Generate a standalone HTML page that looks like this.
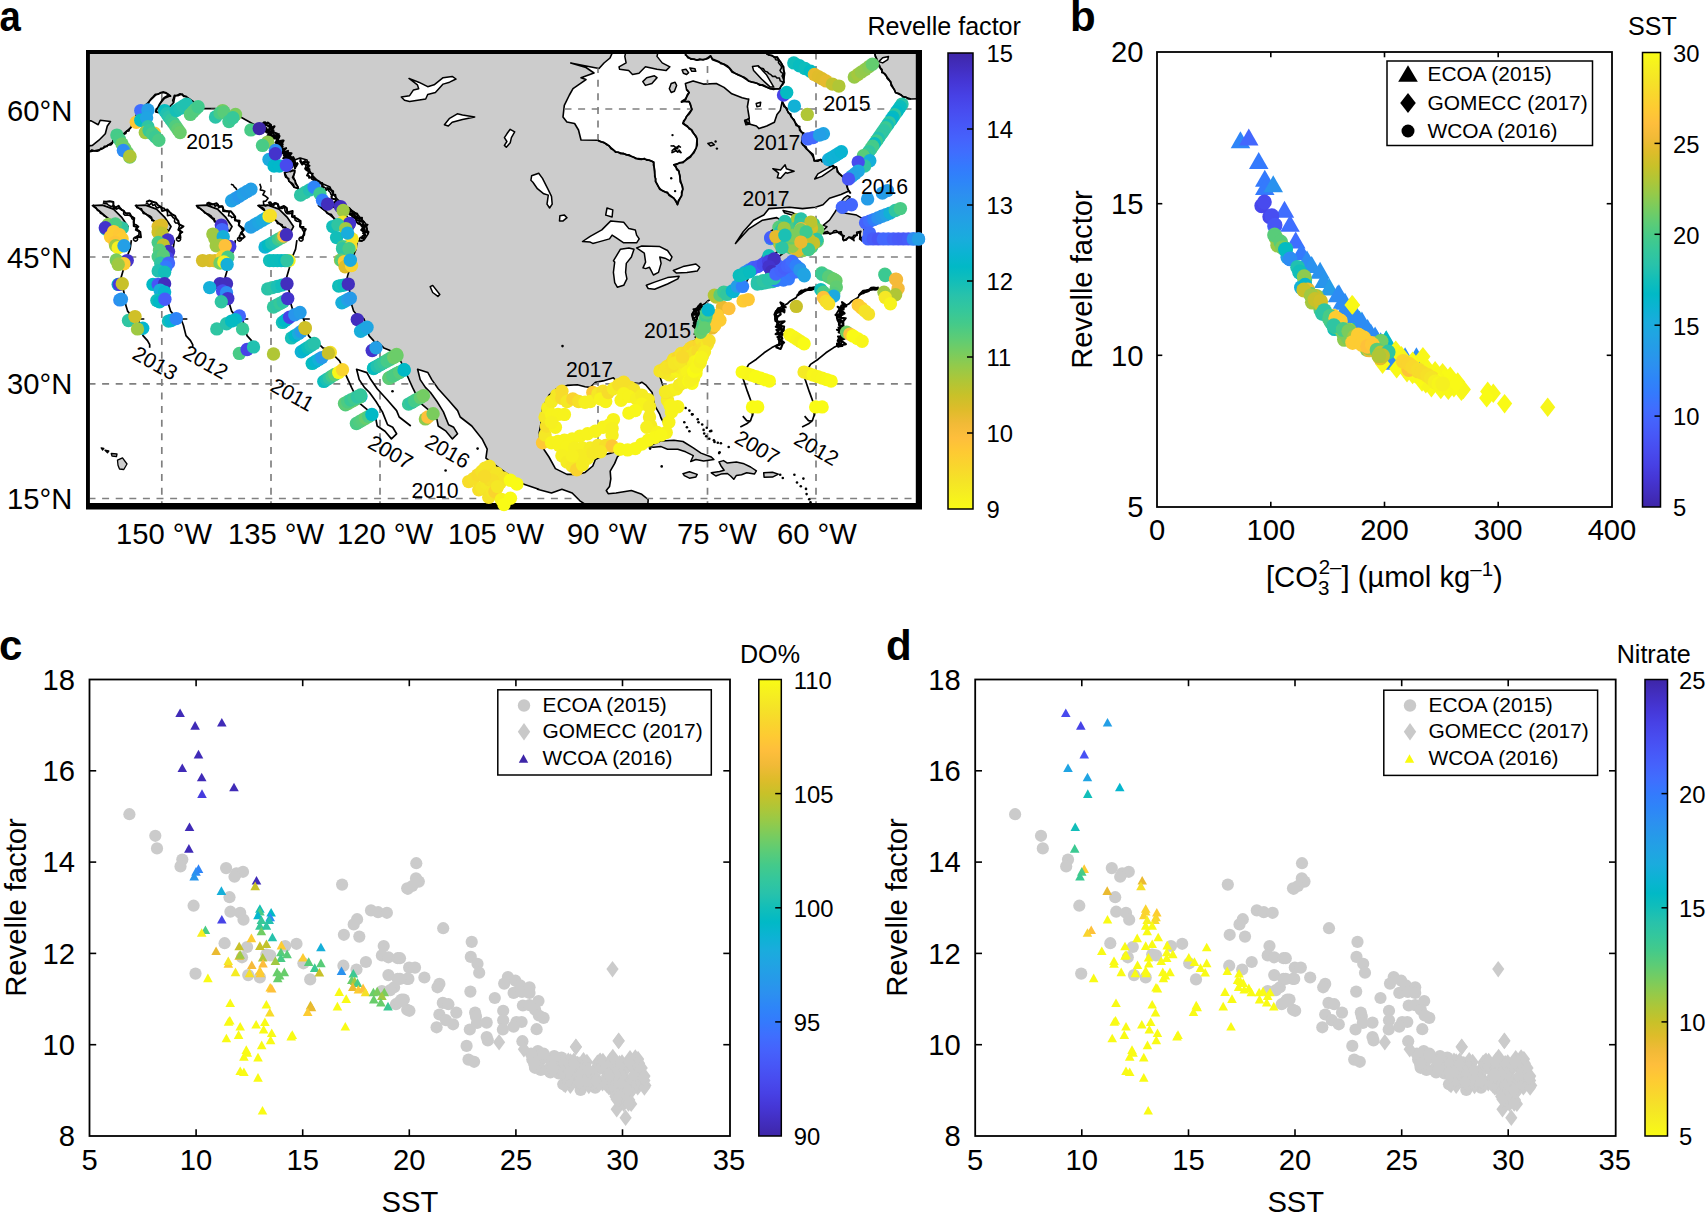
<!DOCTYPE html>
<html><head><meta charset="utf-8"><title>Figure</title><style>html,body{margin:0;padding:0;background:#fff}svg{display:block}</style></head><body>
<svg width="1707" height="1215" viewBox="0 0 1707 1215" font-family='"Liberation Sans", Arial, Helvetica, sans-serif' fill="#000">
<rect width="1707" height="1215" fill="#fff"/>
<text x="-0.5" y="31.0" font-size="42.0" font-weight="bold" textLength="21.3" lengthAdjust="spacingAndGlyphs">a</text>
<text x="1070.0" y="31.0" font-size="42.0" font-weight="bold">b</text>
<text x="-1.0" y="660.0" font-size="42.0" font-weight="bold">c</text>
<text x="886.0" y="659.5" font-size="42.0" font-weight="bold">d</text>
<clipPath id="mapclip"><rect x="89" y="53" width="829" height="451"/></clipPath>
<clipPath id="oceanclip"><path d="M70.0 530.0 L70.0 152.0 L89.9 151.8 L101.5 149.2 L111.8 142.8 L123.4 133.8 L131.1 127.3 L133.0 119.6 L140.1 110.6 L147.9 102.8 L155.6 95.1 L163.3 91.9 L170.4 95.7 L164.6 98.3 L159.5 104.1 L155.6 111.9 L161.4 113.1 L165.9 110.6 L173.6 102.8 L174.9 96.4 L180.1 93.8 L187.8 97.7 L193.0 101.5 L202.0 108.6 L214.9 108.6 L227.8 111.2 L240.6 117.0 L252.2 123.5 L258.7 127.3 L264.0 122.0 L270.0 128.0 L276.0 138.0 L281.0 147.0 L286.0 155.0 L292.0 161.0 L300.0 158.0 L307.0 160.0 L309.0 170.0 L313.0 176.0 L317.0 180.0 L323.0 184.0 L330.0 187.0 L333.0 194.0 L338.0 200.0 L347.0 207.0 L358.0 215.0 L366.0 224.0 L368.0 234.0 L364.0 240.0 L360.0 241.0 L357.4 240.2 L356.1 249.2 L352.3 258.2 L349.7 268.5 L347.1 277.6 L348.4 285.3 L350.3 294.3 L351.6 304.6 L353.6 311.1 L357.4 315.6 L363.9 318.8 L363.9 318.8 L366.4 325.2 L369.0 335.6 L373.5 340.6 L375.7 344.6 L375.7 347.8 L377.3 341.5 L383.8 347.9 L390.2 350.5 L400.5 360.8 L404.0 368.0 L407.3 375.8 L412.5 387.4 L420.2 402.8 L427.9 409.3 L437.0 419.6 L438.2 426.0 L446.0 431.2 L452.4 438.9 L457.6 433.8 L453.7 427.3 L448.6 424.7 L443.4 411.9 L437.0 401.5 L430.5 392.5 L425.4 387.4 L420.2 379.6 L417.6 369.3 L427.9 372.6 L431.8 379.6 L438.2 388.7 L448.6 400.3 L457.6 410.6 L460.2 417.0 L471.8 426.0 L482.1 438.9 L487.2 449.2 L485.9 458.2 L491.1 462.1 L505.3 472.4 L523.3 484.0 L538.8 489.2 L537.4 489.2 L551.5 493.0 L561.9 489.2 L572.2 493.0 L579.9 500.8 L587.6 505.9 L592.8 516.2 L600.0 530.0 Z M78.3 120.2 L91.2 120.9 L98.2 124.7 L100.2 120.2 L110.5 121.5 L107.3 126.0 L105.3 133.8 L98.9 140.2 L92.4 145.4 L78.3 147.3 Z M646.9 517.5 L648.2 499.5 L641.8 494.3 L631.4 490.5 L623.7 491.8 L616.0 493.0 L608.2 493.7 L606.3 490.5 L609.5 486.6 L610.8 478.9 L610.2 471.1 L614.7 463.4 L617.3 457.0 L621.1 453.1 L616.0 451.8 L605.7 454.4 L595.4 459.5 L592.8 466.0 L585.1 472.4 L577.3 474.4 L567.0 474.4 L555.4 468.6 L549.0 457.0 L543.8 449.2 L539.9 442.8 L539.3 432.5 L541.2 422.2 L542.5 408.0 L549.0 395.1 L556.7 388.7 L567.0 385.4 L577.3 384.8 L585.1 386.7 L590.2 387.4 L595.4 382.2 L603.1 380.9 L613.4 377.7 L616.0 380.9 L623.7 380.9 L628.9 382.2 L639.2 383.5 L641.8 382.2 L645.6 384.8 L652.1 392.5 L654.6 405.4 L659.8 414.4 L661.0 418.0 L664.5 424.0 L668.0 420.0 L670.0 415.9 L668.7 401.8 L664.9 391.4 L659.7 376.0 L666.2 364.4 L673.9 359.2 L681.6 352.8 L689.4 347.6 L697.1 343.8 L695.8 337.3 L699.7 329.6 L694.5 324.4 L697.0 322.0 L693.0 320.0 L691.9 314.1 L695.0 309.0 L699.7 306.4 L704.8 303.8 L707.4 301.2 L713.8 297.4 L715.1 294.8 L724.1 290.3 L734.5 288.4 L740.0 285.0 L746.0 283.0 L748.0 279.0 L742.0 276.0 L746.0 270.0 L752.0 266.0 L762.0 259.0 L772.0 256.0 L780.0 250.0 L786.0 251.0 L777.0 258.0 L768.0 263.0 L766.0 270.0 L775.0 268.0 L790.0 260.0 L805.0 252.0 L815.0 246.0 L818.0 240.0 L812.0 236.0 L800.0 242.0 L790.0 244.0 L783.0 243.0 L778.0 238.0 L770.0 232.0 L778.0 226.0 L784.0 222.0 L776.7 217.6 L762.5 220.2 L748.4 229.2 L736.8 242.0 L735.5 243.4 L743.2 231.8 L753.5 220.2 L763.8 215.0 L769.0 208.6 L789.6 207.3 L802.5 208.6 L815.4 207.3 L823.0 204.7 L829.5 198.3 L841.0 194.4 L848.9 191.0 L850.5 193.0 L847.9 189.2 L844.0 177.6 L838.9 173.7 L836.3 167.3 L829.8 166.0 L820.8 159.5 L814.4 160.8 L813.1 154.4 L806.6 149.2 L801.5 142.8 L802.8 133.8 L798.9 127.3 L795.1 122.2 L787.3 110.6 L782.2 101.5 L780.2 110.6 L777.0 114.4 L774.4 122.2 L766.7 126.0 L759.0 128.6 L756.4 126.0 L747.4 123.5 L744.8 120.9 L749.3 118.3 L747.4 106.7 L748.7 99.0 L747.2 99.0 L742.1 97.7 L731.8 93.8 L724.0 87.4 L716.3 83.5 L703.4 84.1 L693.1 80.9 L685.4 83.5 L686.6 89.9 L689.2 92.5 L685.4 99.0 L681.5 101.5 L689.2 101.5 L691.8 109.3 L687.9 114.4 L682.8 123.5 L691.8 129.9 L697.0 138.9 L696.3 147.9 L690.5 157.0 L682.8 162.1 L673.8 164.7 L678.9 171.1 L680.2 178.9 L682.8 189.2 L681.5 195.6 L678.9 200.8 L677.6 204.6 L673.8 198.2 L667.3 193.0 L659.6 189.2 L655.7 181.4 L654.4 171.1 L653.8 162.1 L646.7 159.5 L636.4 158.2 L626.1 154.4 L615.8 151.8 L606.8 144.1 L597.7 140.2 L581.0 140.0 L578.5 130.0 L574.6 123.5 L566.9 122.0 L563.0 117.0 L564.3 105.4 L569.4 95.0 L573.0 88.7 L586.0 79.6 L581.0 77.7 L594.0 73.0 L586.0 67.5 L570.7 63.0 L586.0 66.0 L599.0 68.5 L604.0 63.0 L610.0 58.0 L618.0 40.0 L685.4 42.3 L685.4 53.9 L687.9 57.7 L697.0 60.3 L706.0 59.0 L710.5 55.8 L712.4 59.7 L721.4 62.9 L729.2 68.0 L731.8 71.9 L740.8 75.8 L748.5 80.9 L757.5 83.5 L770.4 88.7 L776.9 88.7 L779.6 88.7 L783.5 82.2 L784.7 73.2 L782.2 64.2 L777.0 57.7 L766.7 53.9 L766.7 42.3 L874.9 42.3 L874.9 53.9 L877.5 64.2 L882.7 71.9 L889.1 79.6 L893.0 87.4 L895.6 92.5 L903.3 96.4 L911.0 99.0 L929.1 98.3 L940.0 100.0 L940.0 530.0 Z"/></clipPath>
<g clip-path="url(#mapclip)" stroke-linejoin="round">
<rect x="86" y="50" width="836" height="460" fill="#ccc"/>
<path d="M70.0 530.0 L70.0 152.0 L89.9 151.8 L101.5 149.2 L111.8 142.8 L123.4 133.8 L131.1 127.3 L133.0 119.6 L140.1 110.6 L147.9 102.8 L155.6 95.1 L163.3 91.9 L170.4 95.7 L164.6 98.3 L159.5 104.1 L155.6 111.9 L161.4 113.1 L165.9 110.6 L173.6 102.8 L174.9 96.4 L180.1 93.8 L187.8 97.7 L193.0 101.5 L202.0 108.6 L214.9 108.6 L227.8 111.2 L240.6 117.0 L252.2 123.5 L258.7 127.3 L264.0 122.0 L270.0 128.0 L276.0 138.0 L281.0 147.0 L286.0 155.0 L292.0 161.0 L300.0 158.0 L307.0 160.0 L309.0 170.0 L313.0 176.0 L317.0 180.0 L323.0 184.0 L330.0 187.0 L333.0 194.0 L338.0 200.0 L347.0 207.0 L358.0 215.0 L366.0 224.0 L368.0 234.0 L364.0 240.0 L360.0 241.0 L357.4 240.2 L356.1 249.2 L352.3 258.2 L349.7 268.5 L347.1 277.6 L348.4 285.3 L350.3 294.3 L351.6 304.6 L353.6 311.1 L357.4 315.6 L363.9 318.8 L363.9 318.8 L366.4 325.2 L369.0 335.6 L373.5 340.6 L375.7 344.6 L375.7 347.8 L377.3 341.5 L383.8 347.9 L390.2 350.5 L400.5 360.8 L404.0 368.0 L407.3 375.8 L412.5 387.4 L420.2 402.8 L427.9 409.3 L437.0 419.6 L438.2 426.0 L446.0 431.2 L452.4 438.9 L457.6 433.8 L453.7 427.3 L448.6 424.7 L443.4 411.9 L437.0 401.5 L430.5 392.5 L425.4 387.4 L420.2 379.6 L417.6 369.3 L427.9 372.6 L431.8 379.6 L438.2 388.7 L448.6 400.3 L457.6 410.6 L460.2 417.0 L471.8 426.0 L482.1 438.9 L487.2 449.2 L485.9 458.2 L491.1 462.1 L505.3 472.4 L523.3 484.0 L538.8 489.2 L537.4 489.2 L551.5 493.0 L561.9 489.2 L572.2 493.0 L579.9 500.8 L587.6 505.9 L592.8 516.2 L600.0 530.0 Z M78.3 120.2 L91.2 120.9 L98.2 124.7 L100.2 120.2 L110.5 121.5 L107.3 126.0 L105.3 133.8 L98.9 140.2 L92.4 145.4 L78.3 147.3 Z M646.9 517.5 L648.2 499.5 L641.8 494.3 L631.4 490.5 L623.7 491.8 L616.0 493.0 L608.2 493.7 L606.3 490.5 L609.5 486.6 L610.8 478.9 L610.2 471.1 L614.7 463.4 L617.3 457.0 L621.1 453.1 L616.0 451.8 L605.7 454.4 L595.4 459.5 L592.8 466.0 L585.1 472.4 L577.3 474.4 L567.0 474.4 L555.4 468.6 L549.0 457.0 L543.8 449.2 L539.9 442.8 L539.3 432.5 L541.2 422.2 L542.5 408.0 L549.0 395.1 L556.7 388.7 L567.0 385.4 L577.3 384.8 L585.1 386.7 L590.2 387.4 L595.4 382.2 L603.1 380.9 L613.4 377.7 L616.0 380.9 L623.7 380.9 L628.9 382.2 L639.2 383.5 L641.8 382.2 L645.6 384.8 L652.1 392.5 L654.6 405.4 L659.8 414.4 L661.0 418.0 L664.5 424.0 L668.0 420.0 L670.0 415.9 L668.7 401.8 L664.9 391.4 L659.7 376.0 L666.2 364.4 L673.9 359.2 L681.6 352.8 L689.4 347.6 L697.1 343.8 L695.8 337.3 L699.7 329.6 L694.5 324.4 L697.0 322.0 L693.0 320.0 L691.9 314.1 L695.0 309.0 L699.7 306.4 L704.8 303.8 L707.4 301.2 L713.8 297.4 L715.1 294.8 L724.1 290.3 L734.5 288.4 L740.0 285.0 L746.0 283.0 L748.0 279.0 L742.0 276.0 L746.0 270.0 L752.0 266.0 L762.0 259.0 L772.0 256.0 L780.0 250.0 L786.0 251.0 L777.0 258.0 L768.0 263.0 L766.0 270.0 L775.0 268.0 L790.0 260.0 L805.0 252.0 L815.0 246.0 L818.0 240.0 L812.0 236.0 L800.0 242.0 L790.0 244.0 L783.0 243.0 L778.0 238.0 L770.0 232.0 L778.0 226.0 L784.0 222.0 L776.7 217.6 L762.5 220.2 L748.4 229.2 L736.8 242.0 L735.5 243.4 L743.2 231.8 L753.5 220.2 L763.8 215.0 L769.0 208.6 L789.6 207.3 L802.5 208.6 L815.4 207.3 L823.0 204.7 L829.5 198.3 L841.0 194.4 L848.9 191.0 L850.5 193.0 L847.9 189.2 L844.0 177.6 L838.9 173.7 L836.3 167.3 L829.8 166.0 L820.8 159.5 L814.4 160.8 L813.1 154.4 L806.6 149.2 L801.5 142.8 L802.8 133.8 L798.9 127.3 L795.1 122.2 L787.3 110.6 L782.2 101.5 L780.2 110.6 L777.0 114.4 L774.4 122.2 L766.7 126.0 L759.0 128.6 L756.4 126.0 L747.4 123.5 L744.8 120.9 L749.3 118.3 L747.4 106.7 L748.7 99.0 L747.2 99.0 L742.1 97.7 L731.8 93.8 L724.0 87.4 L716.3 83.5 L703.4 84.1 L693.1 80.9 L685.4 83.5 L686.6 89.9 L689.2 92.5 L685.4 99.0 L681.5 101.5 L689.2 101.5 L691.8 109.3 L687.9 114.4 L682.8 123.5 L691.8 129.9 L697.0 138.9 L696.3 147.9 L690.5 157.0 L682.8 162.1 L673.8 164.7 L678.9 171.1 L680.2 178.9 L682.8 189.2 L681.5 195.6 L678.9 200.8 L677.6 204.6 L673.8 198.2 L667.3 193.0 L659.6 189.2 L655.7 181.4 L654.4 171.1 L653.8 162.1 L646.7 159.5 L636.4 158.2 L626.1 154.4 L615.8 151.8 L606.8 144.1 L597.7 140.2 L581.0 140.0 L578.5 130.0 L574.6 123.5 L566.9 122.0 L563.0 117.0 L564.3 105.4 L569.4 95.0 L573.0 88.7 L586.0 79.6 L581.0 77.7 L594.0 73.0 L586.0 67.5 L570.7 63.0 L586.0 66.0 L599.0 68.5 L604.0 63.0 L610.0 58.0 L618.0 40.0 L685.4 42.3 L685.4 53.9 L687.9 57.7 L697.0 60.3 L706.0 59.0 L710.5 55.8 L712.4 59.7 L721.4 62.9 L729.2 68.0 L731.8 71.9 L740.8 75.8 L748.5 80.9 L757.5 83.5 L770.4 88.7 L776.9 88.7 L779.6 88.7 L783.5 82.2 L784.7 73.2 L782.2 64.2 L777.0 57.7 L766.7 53.9 L766.7 42.3 L874.9 42.3 L874.9 53.9 L877.5 64.2 L882.7 71.9 L889.1 79.6 L893.0 87.4 L895.6 92.5 L903.3 96.4 L911.0 99.0 L929.1 98.3 L940.0 100.0 L940.0 530.0 Z" fill="#fff" stroke="#000" stroke-width="1.6"/>
<g clip-path="url(#oceanclip)" stroke="#808080" stroke-width="1.7" stroke-dasharray="7 6.6" stroke-dashoffset="1.5" fill="none">
<path d="M90 109.0 H917"/>
<path d="M90 257.0 H917"/>
<path d="M90 383.9 H917"/>
<path d="M90 498.5 H917"/>
<path d="M161.8 54 V504"/>
<path d="M271.0 54 V504"/>
<path d="M380.0 54 V504"/>
<path d="M489.0 54 V504"/>
<path d="M598.0 54 V504"/>
<path d="M707.5 54 V504"/>
<path d="M816.0 54 V504"/>
</g>
<path d="M752.5 66.5 L758.3 65.7 L766.7 75.1 L773.8 87.1 L770.3 87.1 L761.5 79.0 L753.6 70.6 Z M833.4 165.4 L827.0 168.7 L817.9 173.8 L814.7 179.0 L821.8 176.4 L829.5 171.2 L834.7 167.4 Z M401.3 97.0 L409.6 95.7 L413.5 89.9 L418.7 88.7 L417.4 84.8 L409.0 78.4 L418.7 82.2 L427.7 86.7 L434.1 84.8 L443.1 77.7 L452.2 76.4 L456.0 79.0 L449.6 82.2 L443.1 84.1 L435.4 92.5 L427.7 94.5 L425.7 99.0 L409.6 101.5 L404.5 100.3 Z M444.4 124.7 L449.6 118.3 L457.3 113.8 L462.5 115.1 L474.7 117.0 L462.5 119.6 L452.2 122.2 L448.3 126.0 Z M510.2 129.3 L514.7 131.8 L511.4 137.6 L510.2 142.8 L506.3 147.3 L504.4 145.4 L506.9 141.5 L504.4 137.6 L506.9 133.8 Z M531.6 175.8 L538.7 173.2 L542.5 178.4 L547.7 188.7 L551.5 196.4 L552.2 204.1 L549.6 208.0 L547.0 204.1 L548.3 195.1 L543.8 193.8 L537.4 188.7 L532.9 182.2 L530.9 180.3 Z M559.9 215.7 L564.4 215.1 L567.0 217.7 L563.1 220.9 L559.5 220.9 Z M607.0 208.0 L612.8 209.9 L612.1 217.0 L605.7 215.1 Z M582.5 241.5 L590.2 236.3 L601.8 229.9 L610.8 220.9 L623.7 222.2 L628.9 228.6 L635.3 229.9 L636.6 235.1 L639.2 238.9 L636.6 242.8 L623.7 242.8 L616.0 237.6 L612.1 235.1 L609.5 238.9 L597.9 242.1 L592.8 243.4 L590.2 242.1 Z M620.5 249.2 L628.9 247.9 L634.0 249.2 L631.4 257.0 L626.3 263.4 L625.6 272.4 L626.9 278.9 L623.7 285.3 L617.3 287.2 L614.7 282.7 L613.4 272.4 L614.7 262.1 L613.4 260.8 Z M636.6 247.9 L641.8 246.0 L659.8 246.6 L667.5 250.5 L672.0 257.0 L670.1 260.8 L664.9 258.2 L659.8 257.0 L661.1 263.4 L658.5 272.4 L653.4 275.0 L649.5 267.3 L645.6 268.6 L643.0 267.9 L645.6 262.1 L644.3 253.1 Z M646.3 285.3 L654.6 282.1 L667.5 277.6 L679.1 276.3 L677.8 278.9 L667.5 284.0 L654.6 289.2 L648.2 288.5 Z M673.3 270.5 L683.0 266.6 L695.9 264.0 L699.7 267.3 L697.2 271.1 L686.9 272.4 L676.5 273.1 Z M772.8 168.7 L780.6 169.9 L785.1 164.8 L786.4 168.7 L794.1 171.2 L787.0 173.2 L785.7 172.5 L780.6 178.3 L777.3 177.7 L778.6 173.2 Z M430.2 286.7 L432.7 285.4 L439.8 294.5 L437.9 296.4 L432.7 292.5 Z M878.8 61.6 L882.7 57.7 L888.5 56.4 L887.8 59.7 L882.7 62.9 Z" fill="#fff" stroke="#000" stroke-width="1.5"/>
<path d="M284.5 172.5 L294.8 170.6 L293.5 177.0 L296.7 184.7 L298.6 188.6 L294.1 187.3 L289.0 180.9 Z M627.4 44.8 L624.8 56.4 L626.1 62.9 L619.0 66.8 L619.6 69.3 L628.7 70.6 L632.5 74.5 L639.0 73.2 L645.4 66.8 L657.0 69.3 L666.0 70.6 L669.9 66.8 L662.2 62.9 L657.0 56.4 L659.6 44.8 Z M642.8 81.6 L646.7 77.7 L654.4 75.8 L657.0 77.7 L651.9 83.5 L645.4 85.4 Z M669.3 88.7 L671.2 83.5 L675.1 82.2 L676.6 85.4 L674.4 91.2 L671.2 92.5 Z M682.1 70.0 L686.0 69.3 L688.6 72.6 L686.6 74.5 L683.4 73.2 Z M689.9 68.0 L695.0 68.7 L695.7 71.3 L691.8 71.3 Z M847.6 195.7 L843.7 198.3 L841.1 202.2 L834.7 212.5 L829.5 220.2 L823.1 225.4 L827.0 226.6 L821.8 231.8 L823.1 233.7 L832.1 233.1 L841.1 231.8 L843.7 240.8 L848.9 237.0 L852.7 239.5 L859.2 231.8 L861.8 240.8 L865.0 234.4 L863.0 225.4 L863.0 218.9 L856.6 215.1 L848.9 213.8 L841.1 212.5 L839.8 207.3 L845.6 202.2 L850.2 197.0 Z M783.1 210.5 L792.2 212.5 L803.8 218.9 L797.3 216.6 L784.4 212.7 Z M648.2 446.6 L661.1 440.9 L674.0 440.2 L683.0 441.5 L693.3 447.9 L701.0 453.1 L711.3 457.0 L713.9 459.5 L703.6 461.1 L695.9 459.5 L690.7 461.5 L693.3 455.7 L685.6 451.8 L677.8 449.2 L667.5 449.2 L661.1 446.6 L653.4 447.3 Z M683.0 473.7 L689.4 471.8 L697.2 474.4 L695.9 476.9 L689.4 478.2 L684.3 475.6 Z M719.0 461.9 L723.5 460.6 L727.4 463.1 L736.4 461.9 L744.1 463.8 L750.6 467.0 L756.4 470.9 L754.4 474.1 L746.7 472.8 L741.5 474.7 L736.4 475.4 L733.8 479.3 L730.6 476.0 L727.4 473.5 L720.9 474.1 L715.8 476.0 L711.3 472.8 L719.6 471.5 L724.1 470.2 L720.9 465.7 Z M763.7 472.8 L772.5 472.2 L778.3 474.1 L772.5 477.1 L764.1 477.3 Z" fill="#ccc" stroke="#000" stroke-width="1.5"/>
<path d="M318.5 205.6 L328.5 205.1 L339.5 209.1 L347.5 217.1 L354.0 226.6 L351.5 231.1 L343.5 227.1 L335.5 219.6 L325.5 211.1 Z M258.0 205.6 L268.0 205.1 L279.0 209.1 L287.0 217.1 L293.5 226.6 L291.0 231.1 L283.0 227.1 L275.0 219.6 L265.0 211.1 Z M196.5 205.6 L206.5 205.1 L217.5 209.1 L225.5 217.1 L232.0 226.6 L229.5 231.1 L221.5 227.1 L213.5 219.6 L203.5 211.1 Z M135.5 205.6 L145.5 205.1 L156.5 209.1 L164.5 217.1 L171.0 226.6 L168.5 231.1 L160.5 227.1 L152.5 219.6 L142.5 211.1 Z M92.5 205.6 L102.5 205.1 L113.5 209.1 L121.5 217.1 L128.0 226.6 L125.5 231.1 L117.5 227.1 L109.5 219.6 L99.5 211.1 Z" fill="#ccc" stroke="#000" stroke-width="1.7"/>
<path d="M296.9 240.2 L295.6 249.2 L291.8 258.2 L289.2 268.5 L286.6 277.6 L287.9 285.3 L289.8 294.3 L291.1 304.6 L293.1 311.1 L296.9 315.6 L303.4 318.8 L309.2 319.0 L303.4 318.8 L305.9 325.2 L308.5 335.6 L313.0 340.6 L315.2 344.6 L315.2 347.8 M235.4 240.2 L234.1 249.2 L230.3 258.2 L227.7 268.5 L225.1 277.6 L226.4 285.3 L228.3 294.3 L229.6 304.6 L231.6 311.1 L235.4 315.6 L241.9 318.8 L247.7 319.0 L241.9 318.8 L244.4 325.2 L247.0 335.6 L251.5 340.6 L253.7 344.6 L253.7 347.8 M174.4 240.2 L173.1 249.2 L169.3 258.2 L166.7 268.5 L164.1 277.6 L165.4 285.3 L167.3 294.3 L168.6 304.6 L170.6 311.1 L174.4 315.6 L180.9 318.8 L186.7 319.0 L180.9 318.8 L183.4 325.2 L186.0 335.6 L190.5 340.6 L192.7 344.6 L192.7 347.8 M131.4 240.2 L130.1 249.2 L126.3 258.2 L123.7 268.5 L121.1 277.6 L122.4 285.3 L124.3 294.3 L125.6 304.6 L127.6 311.1 L131.4 315.6 L137.9 318.8 L143.7 319.0 L137.9 318.8 L140.4 325.2 L143.0 335.6 L147.5 340.6 L149.7 344.6 L149.7 347.8 M316.3 341.5 L322.8 347.9 L329.2 350.5 L339.5 360.8 L343.0 368.0 L346.3 375.8 L351.5 387.4 L359.2 402.8 L366.9 409.3 L376.0 419.6 L377.2 426.0 L385.0 431.2 L391.4 438.9 L396.6 433.8 L392.7 427.3 L387.6 424.7 L382.4 411.9 L376.0 401.5 L369.5 392.5 L364.4 387.4 L359.2 379.6 L356.6 369.3 L366.9 372.6 L370.8 379.6 L377.2 388.7 L387.6 400.3 L396.6 410.6 L399.2 417.0 L410.8 426.0 M817.0 288.4 L806.6 290.3 L797.6 294.8 L796.3 297.4 L789.9 301.2 L787.3 303.8 L782.2 306.4 L777.5 309.0 L774.4 314.1 L775.5 320.0 L779.5 322.0 L777.0 324.4 L782.2 329.6 L778.3 337.3 L779.6 343.8 L771.9 347.6 L764.1 352.8 L756.4 359.2 L748.7 364.4 L742.2 376.0 L747.4 391.4 L751.2 401.8 L752.5 415.9 L753.1 412.9 L750.6 420.6 L746.7 423.8 L740.3 427.1 M742.8 416.1 L746.7 420.6 L750.6 421.3 M878.8 288.4 L868.4 290.3 L859.4 294.8 L858.1 297.4 L851.7 301.2 L849.1 303.8 L844.0 306.4 L839.3 309.0 L836.2 314.1 L837.3 320.0 L841.3 322.0 L838.8 324.4 L844.0 329.6 L840.1 337.3 L841.4 343.8 L833.7 347.6 L825.9 352.8 L818.2 359.2 L810.5 364.4 L804.0 376.0 L809.2 391.4 L813.0 401.8 L814.3 415.9 L814.9 412.9 L812.4 420.6 L808.5 423.8 L802.1 427.1 M804.6 416.1 L808.5 420.6 L812.4 421.3" fill="none" stroke="#000" stroke-width="1.7"/>
<path d="M299.5 160.7 L301.1 161.7 L302.7 162.7 L305.2 160.7 L304.2 161.8 L304.7 163.9 L306.2 165.6 L305.3 168.1 L306.0 170.0 L309.1 171.7 L310.2 173.2 L313.0 173.5 L311.2 177.3 L311.9 179.1 L315.1 179.0 L315.7 181.6 L317.1 183.0 L318.5 184.3 L322.0 183.1 L322.0 187.4 L324.2 187.1 L325.7 188.3 L328.0 187.8 L328.5 188.8 L328.8 191.0 L330.4 192.5 L331.0 194.6 L335.4 194.5 L335.8 196.7 L335.6 199.5 L336.4 201.7 L339.5 201.1 L339.4 204.4 L341.2 205.5 L344.8 204.2 L344.9 207.4 L347.3 207.6 L349.5 207.9 L350.8 209.4 L351.7 211.4 L353.7 211.9 L355.3 213.1 L357.4 213.6 L357.4 216.5 L359.1 217.7 L359.5 220.1 L360.9 221.5 L363.7 221.7 L362.2 225.7 L367.8 224.6 L365.9 226.9 L367.0 228.5 L366.7 230.5 L368.7 231.9 L368.0 234.0 M284.6 173.3 L286.5 171.8 L288.4 170.6 L290.7 171.6 L292.6 170.0 L294.7 170.6 L294.7 172.8 L293.7 174.8 L292.5 177.4 L293.6 179.2 L295.3 180.8 L295.2 183.1 L296.4 184.8 L297.9 186.5 L298.4 189.4 L296.4 187.7 L294.2 187.2 L293.7 185.0 L292.4 183.4 L290.5 182.3 L288.7 181.1 L288.7 178.4 L285.7 177.3 L284.8 175.0 L284.5 172.5 M328.3 204.7 L330.6 203.3 L332.6 203.0 L334.2 204.3 L336.4 203.4 L337.4 205.7 L339.4 206.0 L341.4 206.4 L342.2 209.0 L343.8 210.1 L347.2 208.2 L347.3 211.0 L349.4 211.3 L349.2 214.5 L351.0 215.2 L353.8 214.6 L355.2 215.9 L357.0 216.8 L355.5 220.3 L358.9 220.3 L359.1 222.7 L360.7 224.0 L361.3 226.0 L362.4 227.0 L362.2 229.1 L365.0 230.8 L362.8 233.2 L364.9 235.0 L362.3 236.1 L361.0 238.6 M318.8 205.3 L320.6 206.6 L322.0 208.4 L323.8 209.7 L325.7 210.8 L326.8 213.0 L328.7 214.1 L331.3 214.4 L332.6 216.3 L333.9 218.1 L334.8 220.4 L336.4 221.8 L338.6 222.7 L341.2 223.2 L341.4 226.1 L343.6 226.9 L345.4 228.3 L347.3 229.6 L349.3 230.4 L351.5 231.1 M361.5 237.1 a2 2 0 1 0 0.1 0 M268.5 202.2 L270.5 202.0 L271.8 204.2 L273.4 205.6 L275.9 203.2 L277.6 204.4 L278.2 207.3 L280.0 208.1 L281.9 208.6 L284.8 207.2 L284.9 210.4 L285.7 212.4 L287.1 213.6 L289.3 213.8 L292.3 212.9 L291.8 216.5 L294.8 215.7 L294.9 217.9 L295.1 220.3 L297.0 221.3 L300.1 221.6 L300.8 223.5 L299.9 226.6 L303.7 226.7 L302.2 229.0 L303.3 231.0 L304.6 232.9 L303.5 234.1 L303.1 237.6 L300.5 238.6 M258.6 204.8 L259.9 206.7 L262.2 207.5 L264.0 208.8 L264.9 211.2 L266.3 213.0 L267.7 214.7 L270.6 214.6 L271.8 216.6 L273.6 217.8 L274.8 219.8 L276.6 221.1 L277.4 223.4 L280.0 223.9 L282.2 224.8 L282.8 227.6 L285.4 227.3 L286.8 229.4 L289.0 230.1 L291.0 231.1 M301.0 237.1 a2 2 0 1 0 0.1 0 M206.7 203.2 L208.9 202.4 L210.0 205.3 L212.2 204.3 L214.2 204.2 L215.1 206.4 L218.2 204.5 L218.6 207.9 L221.6 206.4 L223.1 207.7 L222.9 211.1 L225.0 211.4 L227.5 211.1 L229.2 212.0 L228.5 215.8 L230.7 216.0 L231.8 217.6 L235.0 216.7 L234.6 219.5 L236.7 220.5 L238.3 221.8 L239.1 223.6 L239.4 225.9 L241.4 226.8 L241.6 228.9 L242.9 230.8 L240.5 233.3 L242.0 234.0 L239.6 235.3 L239.0 238.6 M196.6 205.5 L197.7 207.7 L200.0 208.4 L201.6 209.9 L203.4 211.2 L204.8 213.0 L207.0 213.7 L209.2 214.6 L211.0 215.8 L212.3 217.6 L214.3 218.7 L214.4 221.8 L216.7 222.6 L217.8 224.6 L220.8 224.7 L221.5 227.0 L223.0 229.0 L225.4 229.4 L227.6 229.9 L229.5 231.1 M239.5 237.1 a2 2 0 1 0 0.1 0 M145.6 203.5 L147.6 203.3 L148.9 205.6 L151.6 202.9 L152.8 205.5 L155.0 204.6 L156.0 206.8 L157.6 207.9 L160.4 206.8 L162.0 207.9 L164.2 208.2 L165.1 210.0 L166.9 210.7 L167.5 212.8 L167.5 215.8 L170.5 215.0 L172.0 216.0 L173.0 217.5 L174.7 218.7 L174.5 221.4 L175.7 222.9 L178.7 223.2 L179.6 225.0 L179.1 227.0 L178.4 229.3 L179.9 231.1 L181.1 233.0 L180.1 233.0 L180.7 237.7 L178.0 238.6 M136.2 204.7 L136.8 207.5 L139.1 208.2 L141.5 208.8 L142.4 211.2 L143.3 213.5 L145.8 214.0 L147.8 215.1 L149.9 216.0 L151.6 217.3 L151.8 220.4 L154.1 221.1 L154.9 223.4 L158.1 223.3 L159.4 225.1 L161.0 226.1 L162.6 227.9 L165.0 228.1 L166.8 229.5 L168.5 231.1 M178.5 237.1 a2 2 0 1 0 0.1 0 M102.8 202.8 L104.5 203.6 L106.5 203.4 L108.1 204.9 L109.7 205.7 L110.9 206.8 L113.7 205.5 L115.1 206.9 L116.1 209.2 L118.9 207.9 L121.0 208.5 L121.9 210.3 L123.9 210.7 L123.6 214.0 L124.9 215.3 L127.6 214.9 L129.5 215.4 L131.2 216.6 L131.9 218.6 L133.6 219.8 L133.6 222.3 L134.3 224.2 L136.6 225.1 L138.5 226.7 L136.3 229.1 L139.2 230.7 L139.0 232.9 L138.9 235.0 L136.7 236.6 L135.0 238.6 M93.1 204.8 L94.4 206.8 L96.3 208.0 L97.3 210.2 L99.4 211.2 L100.5 213.3 L102.6 214.2 L104.1 215.9 L106.0 216.9 L107.9 218.1 L108.9 220.2 L110.8 221.4 L111.9 223.5 L113.9 224.5 L115.5 226.0 L117.8 226.6 L119.1 228.8 L121.6 228.8 L123.9 229.2 L125.5 231.1 M135.5 237.1 a2 2 0 1 0 0.1 0 M259.8 183.8 L260.4 185.6 L261.0 187.3 L260.3 190.0 L262.9 190.4 L264.8 191.3 L262.9 194.7 L264.8 195.7 L268.0 198.2 L266.9 199.8 L265.6 201.3 L263.4 201.4 L263.7 204.5 L265.2 205.9 L268.0 205.0 M230.8 184.2 L233.1 184.9 L234.2 186.8 L235.8 188.2 L237.0 190.0 M89.8 151.3 L91.9 149.9 L94.6 151.0 L97.1 151.2 L99.3 150.4 L100.9 148.2 L103.3 148.2 L104.4 146.2 L107.0 146.5 L108.3 144.8 L110.8 145.0 L112.3 143.5 L112.8 140.6 L114.8 139.8 L117.5 139.9 L118.4 137.6 L120.0 136.2 L121.6 134.9 L123.9 134.4 L125.8 133.5 L126.5 131.3 L128.9 131.0 L129.7 128.8 L131.1 127.3 M132.3 119.0 L135.4 117.8 L136.4 115.0 L137.5 112.2 L140.9 111.4 L141.3 107.9 L144.1 106.8 L145.9 104.7 L148.5 103.4 L149.6 100.7 L151.3 98.5 L153.3 96.6 L155.3 94.4 L158.2 94.2 L160.6 92.6 L163.0 92.4 L166.0 92.6 L168.2 94.1 L170.6 96.3 L167.0 95.9 L164.0 97.8 L162.3 99.7 L161.0 102.0 L159.7 104.2 L159.0 107.1 L156.2 108.9 L155.6 111.9 M173.6 102.8 L172.7 100.4 L173.5 98.3 L174.4 95.3 L177.8 95.7 L179.6 94.9 L182.4 94.0 L183.5 96.5 L186.1 96.3 L187.5 98.1 L188.9 99.8 L191.0 100.5 L193.0 101.5 M850.2 193.2 L848.9 191.3 L847.8 189.2 L847.3 186.8 L847.5 184.2 L844.9 182.5 L844.9 179.9 L843.6 178.1 L841.5 175.6 L839.5 173.5 L837.2 171.9 L837.1 169.5 L836.4 166.8 L833.9 168.1 L832.1 165.7 L829.7 166.2 L828.0 164.7 L826.4 163.2 L824.8 161.5 L821.9 161.7 L820.8 159.5 L817.8 161.3 L814.1 160.9 L813.4 157.7 L812.3 155.4 L810.6 153.1 L808.7 151.0 L806.9 148.9 L805.8 146.4 L802.9 145.1 L801.6 142.8 L802.4 140.6 L803.3 138.5 L803.6 136.2 L803.9 133.1 L801.1 131.9 L799.5 129.9 L799.8 126.6 L796.1 125.4 L795.0 122.3 L794.3 119.9 L792.6 118.3 L791.0 116.6 L790.8 113.9 L788.2 112.8 L787.4 110.5 L786.8 107.9 L783.9 106.5 L783.1 104.0 L782.2 101.5 M874.9 53.9 L875.4 56.5 L876.9 58.9 L877.0 61.6 L878.4 63.6 L879.6 65.6 L880.4 67.8 L882.1 69.5 L881.8 72.6 L884.7 73.5 L886.3 75.4 L887.0 78.1 L888.6 79.9 L890.9 81.9 L891.0 85.2 L892.7 87.5 L894.5 89.8 L895.5 92.8 L898.4 93.3 L901.0 94.6 L903.0 97.3 L905.9 97.1 L908.1 99.0 L911.0 99.0 M823.0 232.4 L825.3 232.1 L827.5 231.6 L829.9 234.2 L832.1 233.3 L834.1 230.8 L836.3 230.6 L839.0 233.4 L841.1 231.8 L840.3 234.5 L844.2 235.8 L842.7 238.6 L842.8 239.6 L846.0 240.2 L847.4 238.6 L848.7 237.4 L851.4 237.3 L854.1 240.7 L852.8 237.0 L854.0 235.3 L857.2 235.4 L856.7 232.3 L860.9 231.3 L860.0 234.0 L859.9 236.5 L859.6 239.0 L862.6 241.2 L861.3 237.9 L864.4 236.8 L865.0 234.4 M684.8 54.3 L688.1 57.0 L690.8 59.1 L694.1 59.0 L696.9 59.9 L699.9 58.9 L703.1 59.9 L706.0 59.0 L708.7 58.1 L710.6 55.8 L712.6 59.1 L715.6 60.2 L718.6 61.4 L720.9 63.6 L724.3 64.1 L727.1 65.6 L729.4 67.8 L732.1 71.1 L734.9 73.1 L737.7 74.7 L740.6 76.1 L743.7 77.0 L746.3 78.6 L748.5 80.9 L751.4 82.1 L754.5 82.5 L757.4 83.6 L759.8 85.3 L762.9 84.9 L765.4 86.2 L767.8 87.6 L770.4 88.8 L773.6 89.5 L776.9 88.8 L779.9 88.9 L780.8 86.5 L782.7 84.7 L784.2 82.3 L783.5 79.1 L783.5 76.1 L784.2 73.3 L783.6 70.3 L783.8 67.0 L781.8 64.5 L780.7 61.9 L779.0 59.7 L777.3 56.8 L774.2 57.5 L772.0 55.3 L769.2 55.2 L766.7 53.9 M687.0 89.5 L689.0 92.4 L687.5 94.4 L686.6 96.8 L685.8 99.6 L681.5 102.3 L684.1 101.3 L686.6 101.7 L688.9 101.6 L690.4 104.0 L691.1 106.7 L692.0 109.5 L690.4 112.2 L688.5 114.7 L686.3 116.5 L685.5 119.0 L683.6 120.9 L683.2 122.9 L685.2 124.8 L687.6 126.3 L689.1 128.9 L691.4 130.1 L692.6 132.5 L694.4 134.4 L696.2 136.3 L697.1 138.9 L697.2 141.9 L697.3 145.0 L696.2 147.8 L695.1 150.4 L693.9 152.8 L691.9 154.7 L690.1 156.4 L687.5 158.1 L685.4 160.4 L683.0 162.7 L679.7 162.6 L677.0 164.4 L673.8 164.7 L676.0 166.4 L676.6 169.5 L678.8 171.1 L679.4 173.7 L680.1 176.2 L680.1 178.9 L680.1 181.7 L681.6 184.0 L682.6 186.5 L682.8 189.2 L681.5 192.3 L681.7 195.7 L680.0 198.1 L678.3 200.6 L677.4 204.7 L676.1 201.1 L673.8 198.2 L671.3 196.9 L669.0 195.3 L667.6 192.4 L664.7 191.8 L662.1 190.5 L660.2 188.9 L658.4 186.5 L657.0 184.0 L655.4 181.4 L655.8 178.8 L654.7 176.3 L654.7 173.7 L654.8 171.1 L654.4 168.1 L653.4 165.1 L653.6 162.5 L651.5 160.9 L649.2 160.0 L646.6 160.1 L644.2 158.4 L641.5 159.4 L638.9 159.1 L636.2 158.8 L633.8 157.3 L631.3 156.1 L628.9 154.8 L626.0 154.9 L623.6 153.4 L620.8 153.7 L618.4 152.3 L615.5 152.1 L613.4 150.0 L610.8 148.5 L609.3 145.8 L606.6 144.7 L603.9 142.4 L600.6 141.7 L597.7 140.2 M670.5 145.7 L672.1 146.0 L673.7 145.8 L675.2 147.1 L676.8 147.4 L678.7 145.8 L680.4 147.1 L678.3 146.0 L677.5 148.7 L675.7 148.4 L674.1 148.9 L672.2 150.6 L674.4 148.5 L675.8 150.5 L677.4 151.2 L679.1 151.5 L681.1 152.7 L679.1 150.1 L677.7 152.2 L675.9 150.7 L674.4 151.5 L672.8 152.4 L671.2 152.4" fill="none" stroke="#000" stroke-width="1.6"/>
<path d="M261.3 125.3 L262.2 127.3 L263.4 128.7 L264.1 131.0 L265.7 128.7 L264.9 131.4 L274.5 126.3 L271.3 130.8 L267.7 135.5 L271.6 134.7 L269.8 137.3 L278.8 134.2 L275.8 137.6 L278.9 137.7 L276.5 140.8 L277.0 142.3 L283.6 140.5 L282.2 143.0 L282.3 144.6 L276.6 150.0 L279.0 150.5 L286.1 148.2 L280.4 153.5 L288.0 150.9 L283.9 155.3 L289.4 153.1 L291.5 153.3 L284.6 161.2 L291.6 157.2 L292.6 158.4 L286.6 165.6 L292.0 167.5 L293.5 160.5 L295.0 168.5 L296.5 163.5 L298.0 163.0 M261.2 125.6 L265.3 122.4 L264.0 129.9 L266.5 128.1 L265.5 131.4 L267.3 132.6 L273.2 130.6 L273.9 132.6 L276.9 133.4 L278.0 134.9 L279.5 136.1 L278.3 138.8 L276.5 141.8 L282.6 140.5 L277.6 145.3 L281.4 145.2 L282.6 146.7 L279.3 151.0 L283.2 150.9 L285.6 151.7 L285.2 154.2 L284.4 157.3 L290.6 154.5 L284.8 161.9 L293.2 157.1 L288.9 163.2 L292.0 166.4 L294.0 158.2 L296.0 165.9 L298.0 163.0 M262.5 123.0 L263.7 125.6 L267.8 122.5 L270.9 124.8 L271.2 127.1 L267.5 132.4 L273.5 130.3 L271.2 134.6 L271.0 136.6 L271.9 138.5 L277.1 138.1 L278.0 139.9 L277.8 142.4 L277.1 145.2 L282.7 144.4 L279.5 149.0 L280.4 151.2 L281.1 153.5 L288.0 152.1 L283.3 158.3 L290.0 155.6 L290.0 158.7 L289.8 161.8 L292.0 166.3 L294.0 161.7 L296.0 166.4 L298.0 163.0 M261.9 124.2 L264.4 124.2 L266.4 125.2 L269.3 126.0 L271.2 127.7 L272.4 129.9 L271.7 133.6 L271.8 136.2 L276.7 136.4 L278.4 138.3 L275.5 142.8 L278.7 143.9 L280.4 145.8 L282.3 147.3 L282.0 150.2 L282.2 152.8 L285.0 153.9 L286.3 155.7 L289.2 156.3 L287.4 160.9 L292.3 159.7 L292.0 163.0 L295.0 164.7 L298.0 163.0 M300.3 158.0 L300.9 162.5 L302.2 164.5 L304.6 162.8 L303.6 162.0 L308.7 162.3 L307.0 164.6 L309.4 165.7 L305.3 168.8 L309.4 169.4 L309.1 171.7 L307.1 175.4 L308.9 176.0 L309.2 177.8 L313.1 176.9 L313.9 178.3 L313.5 180.6 L316.1 181.0 L318.5 181.3 L319.5 183.1 L322.1 183.0 L322.7 185.6 L322.8 190.3 L324.6 190.8 L327.3 189.4 L330.0 188.0 M329.0 188.6 L330.8 189.9 L333.1 191.1 L333.1 193.4 L331.5 196.7 L332.0 198.8 L335.8 199.3 L335.7 202.5 L337.3 203.8 L339.2 204.7 L340.9 205.8 L342.1 207.6 L345.2 207.0 L345.6 210.0 L348.6 209.0 L349.5 211.2 L350.1 213.7 L351.9 214.5 L354.9 213.7 L354.2 218.0 L356.4 217.4 L358.1 218.6 L362.0 217.9 L360.9 221.5 L363.6 221.8 L363.0 225.0 L365.0 225.2 L363.4 227.5 L364.8 229.1 L364.3 231.0 L367.3 232.3 L368.0 234.0 M328.9 202.5 L331.8 203.6 L335.6 201.7 L337.6 205.3 L339.7 208.2 L344.0 206.9 L346.8 208.8 L350.0 209.8 L352.3 212.1 L352.2 217.3 L357.1 216.7 L356.0 221.2 L358.0 223.4 L361.4 224.7 L365.0 226.6 L361.2 230.0 L364.5 232.3 L365.2 235.4 L363.7 237.6 L361.0 238.6 M268.5 202.0 L270.8 205.3 L274.7 203.1 L277.8 204.0 L279.3 208.0 L284.0 206.0 L286.8 208.1 L287.3 212.6 L292.6 211.1 L292.2 216.7 L295.1 217.8 L298.1 219.3 L300.6 221.2 L300.0 225.4 L300.7 227.2 L305.7 229.2 L304.1 232.2 L304.2 234.8 L302.5 236.8 L300.5 238.6 M206.3 204.5 L209.9 203.3 L212.8 204.5 L216.7 203.3 L218.7 206.4 L222.4 206.3 L223.6 210.3 L226.9 211.2 L230.9 211.4 L233.0 213.9 L235.1 216.6 L235.1 220.4 L239.6 220.8 L238.8 225.1 L240.7 226.9 L244.5 229.1 L241.5 232.4 L244.6 236.8 L242.5 238.5 L239.0 238.6 M146.1 201.9 L149.6 200.6 L152.6 201.8 L156.0 202.8 L158.2 205.4 L161.0 207.0 L162.1 210.9 L167.3 209.5 L169.4 211.9 L171.8 214.1 L175.1 215.9 L176.3 218.8 L178.3 221.0 L178.9 224.3 L183.4 226.4 L178.5 229.9 L182.2 232.1 L180.1 233.1 L179.2 236.0 L178.0 238.6 M103.1 201.6 L106.3 201.8 L109.7 201.2 L113.3 202.1 L113.5 208.6 L118.6 205.9 L120.5 209.1 L123.4 210.6 L125.4 213.2 L129.6 213.2 L131.4 216.4 L134.2 218.1 L133.8 222.1 L133.8 225.9 L137.0 226.9 L135.9 229.9 L140.2 232.0 L140.9 237.1 L136.8 236.6 L135.0 238.6 M700.2 302.8 L701.9 307.5 L703.2 311.6 L698.5 308.3 L696.6 308.8 L699.4 312.7 L696.5 313.2 L696.4 313.2 L699.9 313.7 L697.4 316.2 L697.2 317.9 L696.7 319.8 L694.9 322.0 L698.5 322.5 L692.9 326.0 L695.1 325.5 L693.6 326.8 L695.9 328.7 L695.9 330.3 L697.1 332.0 L694.5 334.0 L699.5 334.7 L697.2 336.6 L696.6 337.5 L697.7 339.6 L699.7 341.9 L701.4 344.1 L699.6 347.6 L696.0 347.0 L693.0 347.0 M701.9 304.9 L699.3 305.1 L697.9 306.7 L698.8 310.1 L693.5 309.2 L697.0 313.5 L692.8 314.4 L698.4 314.8 L693.9 318.5 L695.2 320.3 L693.7 323.0 L694.8 324.8 L697.0 325.8 L695.5 327.6 L695.9 329.8 L696.6 332.1 L700.1 333.5 L698.0 335.9 L695.5 337.2 L699.8 340.8 L693.5 341.0 L696.1 344.1 L695.5 346.5 L693.0 347.0 M703.6 306.9 L699.8 307.4 L698.4 309.8 L694.8 311.1 L692.1 314.6 L693.1 317.6 L695.5 320.2 L697.5 322.8 L699.9 326.3 L696.6 328.8 L696.7 332.0 L696.4 335.2 L698.6 338.2 L695.2 340.4 L697.0 345.0 L693.0 347.0 M734.6 288.7 L732.5 289.1 L730.3 289.0 L728.1 288.9 L726.3 290.4 L724.0 290.1 L722.1 290.8 L720.7 292.5 L719.0 293.6 L716.9 293.8 L715.5 295.1 L717.2 292.6 L719.1 291.6 L721.0 290.5 L723.0 289.8 L725.0 289.2 L727.1 289.1 L729.5 287.9 L732.0 287.5 L734.5 287.5 M734.5 288.0 L722.0 290.3 L714.5 295.5 M784.1 304.5 L780.4 302.4 L784.5 310.1 L784.3 312.4 L783.6 311.4 L778.3 310.6 L777.0 312.0 L780.3 312.7 L780.7 314.3 L777.0 317.2 L776.9 318.9 L777.0 320.5 L777.1 322.1 L784.6 321.3 L780.6 324.3 L777.4 325.5 L775.8 326.8 L782.5 329.4 L776.4 329.9 L778.4 332.2 L775.6 334.2 L783.4 334.4 L778.6 336.8 L777.4 337.0 L780.7 339.7 L784.1 342.5 L782.7 343.7 L781.5 347.0 L780.5 349.0 L775.5 347.0 M786.6 307.6 L782.6 306.0 L783.5 310.5 L778.2 308.2 L777.3 310.0 L775.8 311.3 L774.7 314.6 L776.0 316.4 L775.1 318.9 L775.5 321.0 L778.7 322.2 L776.8 325.0 L784.1 326.6 L783.8 328.6 L783.8 330.7 L782.3 331.5 L781.3 333.8 L781.0 335.9 L779.6 337.7 L778.5 339.5 L782.8 343.2 L779.4 344.9 L777.1 345.6 L775.5 347.0 M784.9 305.5 L783.2 308.5 L779.1 308.8 L778.5 311.8 L775.6 314.3 L777.5 317.0 L776.3 320.7 L777.4 323.7 L782.6 326.4 L778.7 328.8 L778.4 332.2 L781.0 334.8 L782.3 338.6 L779.6 341.0 L779.0 344.5 L775.5 347.0 M816.9 288.0 L814.8 288.1 L812.9 289.3 L810.8 289.9 L808.7 289.9 L806.5 290.0 L804.6 290.8 L802.9 292.0 L801.3 293.3 L799.5 294.1 L798.1 295.1 L799.5 292.0 L801.3 290.6 L803.5 290.5 L805.4 289.5 L807.6 289.5 L809.4 287.8 L812.0 287.8 L814.4 287.2 L817.0 287.5 M817.0 288.0 L804.5 290.3 L797.0 295.5 M846.8 305.6 L842.0 302.2 L843.8 307.0 L843.6 309.4 L837.6 306.8 L844.6 313.2 L841.1 313.4 L835.5 314.9 L844.4 313.6 L837.0 317.8 L841.7 317.9 L845.8 318.2 L843.9 320.5 L842.2 322.7 L843.5 323.9 L842.6 326.1 L847.4 328.4 L845.3 329.6 L836.9 329.7 L842.4 331.8 L842.3 333.4 L846.8 334.2 L844.9 336.0 L838.0 336.6 L840.3 339.0 L841.7 341.1 L845.9 344.2 L841.5 345.2 L837.0 343.7 L837.3 347.0 M846.9 305.8 L844.5 306.1 L841.3 305.5 L840.7 308.7 L839.8 310.4 L842.9 314.5 L842.4 312.6 L837.4 316.5 L840.8 317.6 L837.9 320.8 L839.0 322.7 L839.0 324.9 L843.8 326.2 L838.5 327.4 L840.1 329.7 L838.7 332.4 L844.9 333.5 L840.2 336.3 L843.4 338.4 L838.5 339.0 L837.7 340.9 L842.3 346.0 L839.6 346.3 L837.3 347.0 M847.0 305.9 L843.9 307.1 L842.2 309.5 L839.1 311.1 L840.1 313.4 L840.9 316.5 L840.5 319.9 L843.3 322.3 L842.9 326.1 L839.8 328.7 L839.4 332.3 L843.3 334.8 L844.6 338.8 L839.7 340.5 L838.7 342.4 L837.3 347.0 M878.8 288.2 L876.8 289.4 L874.7 289.6 L872.4 288.9 L870.4 289.2 L868.7 291.0 L866.8 291.7 L864.9 292.2 L863.2 293.3 L861.0 293.5 L859.2 294.7 L861.4 292.4 L863.1 290.8 L865.3 290.6 L867.6 290.6 L869.4 289.5 L871.2 287.8 L873.7 287.5 L876.3 288.1 L878.8 287.5 M878.8 288.0 L866.3 290.3 L858.8 295.5" fill="none" stroke="#000" stroke-width="2.1"/>
<path d="M758.3 66.8 L760.7 67.9 L763.4 68.8 L765.0 71.1 L767.2 71.9 L768.9 73.6 L770.9 74.7 L772.6 76.4 L775.3 76.2 L776.9 78.0 L779.4 78.1 L780.3 80.9 L783.3 82.2 M774.9 58.1 L775.7 59.8 L778.7 60.3 L778.4 62.6 L779.5 64.2 L781.1 65.8 L781.5 67.8 L780.0 70.4 L781.0 72.2 L783.2 73.6 L782.0 76.0 L783.0 77.8 L783.9 79.6 M707.9 143.4 L711.8 142.5 L714.4 144.7 L710.5 146.0 Z M756.2 103.5 L760.7 102.2 L760.1 106.1 L756.9 106.7 Z M744.6 120.2 L749.1 119.6 L749.8 124.1 L745.9 124.7 Z" fill="none" stroke="#000" stroke-width="1.5"/>
<g fill="#000"><circle cx="671.2" cy="178.2" r="1.2"/><circle cx="672.5" cy="135.1" r="1.2"/><circle cx="716.9" cy="148.6" r="1.2"/><circle cx="715.6" cy="141.5" r="1.2"/><circle cx="675.1" cy="191.1" r="1.2"/><circle cx="746.6" cy="122.2" r="1.2"/><circle cx="747.9" cy="122.8" r="1.2"/></g>
<path d="M117.5 460.2 L122.5 457.8 L127.0 464.0 L123.8 469.5 L119.5 469.0 L118.0 465.2 Z M111.2 453.5 L117.0 454.0 L116.5 456.5 L112.0 456.0 Z M105.0 450.2 L108.8 451.0 L107.5 452.8 Z M101.2 447.8 L103.8 448.5 L102.5 450.0 Z" fill="#ccc" stroke="#000" stroke-width="1.3"/>
<g fill="#000"><circle cx="780.2" cy="474.7" r="1.3"/><circle cx="782.8" cy="478.0" r="1.3"/><circle cx="794.4" cy="474.7" r="1.3"/><circle cx="803.4" cy="478.6" r="1.3"/><circle cx="797.0" cy="482.5" r="1.3"/><circle cx="800.8" cy="486.3" r="1.3"/><circle cx="806.0" cy="488.9" r="1.3"/><circle cx="806.6" cy="494.1" r="1.3"/><circle cx="809.2" cy="499.2" r="1.3"/><circle cx="810.5" cy="502.4" r="1.3"/><circle cx="692.6" cy="414.2" r="1.3"/><circle cx="697.7" cy="419.3" r="1.3"/><circle cx="702.2" cy="424.5" r="1.3"/><circle cx="706.8" cy="427.7" r="1.3"/><circle cx="711.3" cy="430.9" r="1.3"/><circle cx="704.2" cy="433.5" r="1.3"/><circle cx="709.3" cy="438.7" r="1.3"/><circle cx="714.5" cy="441.9" r="1.3"/><circle cx="720.9" cy="443.2" r="1.3"/><circle cx="728.7" cy="447.0" r="1.3"/><circle cx="719.6" cy="452.2" r="1.3"/><circle cx="685.6" cy="408.0" r="1.3"/><circle cx="689.4" cy="410.6" r="1.3"/><circle cx="692.0" cy="414.4" r="1.3"/><circle cx="684.3" cy="422.2" r="1.3"/><circle cx="686.9" cy="427.3" r="1.3"/><circle cx="689.4" cy="431.2" r="1.3"/><circle cx="698.5" cy="422.2" r="1.3"/><circle cx="703.6" cy="429.9" r="1.3"/><circle cx="710.1" cy="431.2" r="1.3"/><circle cx="706.2" cy="436.3" r="1.3"/><circle cx="713.9" cy="440.2" r="1.3"/><circle cx="717.8" cy="442.8" r="1.3"/><circle cx="650.1" cy="448.6" r="1.3"/><circle cx="661.7" cy="466.4" r="1.3"/><circle cx="719.1" cy="453.1" r="1.3"/><circle cx="562.5" cy="346.1" r="1.3"/><circle cx="392.5" cy="391.2" r="1.3"/><circle cx="477.6" cy="448.6" r="1.3"/><circle cx="445.6" cy="470.5" r="1.3"/></g>
</g>
<path d="M86 50 H922 V509.5 H86 Z M89.9 54.1 V503.1 H915.8 V54.1 Z" fill="#000" fill-rule="evenodd"/>
<g><circle cx="112.0" cy="228.6" r="6.7" fill="#55cc7b"/><circle cx="120.1" cy="228.5" r="6.7" fill="#35c79a"/><circle cx="120.1" cy="228.0" r="6.7" fill="#18bfb6"/><circle cx="111.4" cy="227.1" r="6.7" fill="#1fc0b2"/><circle cx="105.9" cy="229.1" r="6.7" fill="#23c1af"/><circle cx="115.0" cy="231.4" r="6.7" fill="#84cc56"/><circle cx="108.3" cy="224.5" r="6.7" fill="#89cb52"/><circle cx="122.3" cy="228.1" r="6.7" fill="#30c5a1"/><circle cx="115.7" cy="228.1" r="6.7" fill="#31c69f"/><circle cx="115.4" cy="223.9" r="6.7" fill="#4bcb83"/><circle cx="105.3" cy="227.7" r="6.7" fill="#4433cc"/><circle cx="110.5" cy="236.7" r="6.7" fill="#fdcc32"/><circle cx="113.7" cy="231.6" r="6.7" fill="#fdcc32"/><circle cx="119.5" cy="234.8" r="6.7" fill="#fec835"/><circle cx="122.1" cy="238.7" r="6.7" fill="#fdcc32"/><circle cx="115.0" cy="242.5" r="6.7" fill="#fec437"/><circle cx="115.6" cy="245.7" r="6.7" fill="#9fc942"/><circle cx="118.2" cy="247.7" r="6.7" fill="#f6f020"/><circle cx="124.0" cy="245.7" r="6.7" fill="#249fe6"/><circle cx="127.2" cy="260.6" r="6.7" fill="#4433cc"/><circle cx="116.3" cy="259.9" r="6.7" fill="#7acc5d"/><circle cx="119.5" cy="263.1" r="6.7" fill="#8dcb4f"/><circle cx="124.0" cy="263.8" r="6.7" fill="#fdcc32"/><circle cx="118.2" cy="264.4" r="6.7" fill="#9fc942"/><circle cx="118.2" cy="284.4" r="6.7" fill="#04bbc2"/><circle cx="119.2" cy="284.4" r="6.7" fill="#463cde"/><circle cx="122.3" cy="283.8" r="6.7" fill="#c8c129"/><circle cx="119.8" cy="299.9" r="6.7" fill="#2d8cf3"/><circle cx="121.4" cy="299.2" r="6.7" fill="#2895ec"/><circle cx="128.5" cy="320.5" r="6.7" fill="#2fc5a2"/><circle cx="135.0" cy="316.6" r="6.7" fill="#d0c027"/><circle cx="142.7" cy="328.2" r="6.7" fill="#05b6ce"/><circle cx="137.5" cy="328.9" r="6.7" fill="#9fc942"/><circle cx="158.2" cy="226.4" r="6.7" fill="#debd29"/><circle cx="161.4" cy="225.1" r="6.7" fill="#debd29"/><circle cx="158.2" cy="232.2" r="6.7" fill="#d0c027"/><circle cx="162.0" cy="233.5" r="6.7" fill="#c1c32d"/><circle cx="167.8" cy="239.9" r="6.7" fill="#4433cc"/><circle cx="158.2" cy="242.5" r="6.7" fill="#48cb86"/><circle cx="163.3" cy="245.1" r="6.7" fill="#c1c32d"/><circle cx="168.5" cy="251.5" r="6.7" fill="#4330c5"/><circle cx="159.5" cy="250.3" r="6.7" fill="#58cc79"/><circle cx="158.2" cy="256.7" r="6.7" fill="#48cb86"/><circle cx="167.2" cy="258.0" r="6.7" fill="#4743e7"/><circle cx="163.3" cy="255.4" r="6.7" fill="#58cc79"/><circle cx="160.7" cy="263.1" r="6.7" fill="#2fc5a2"/><circle cx="168.5" cy="263.1" r="6.7" fill="#4367fd"/><circle cx="165.9" cy="267.0" r="6.7" fill="#347afd"/><circle cx="158.2" cy="270.9" r="6.7" fill="#21c1b0"/><circle cx="164.6" cy="272.2" r="6.7" fill="#12beb9"/><circle cx="153.0" cy="284.4" r="6.7" fill="#01b9c6"/><circle cx="158.2" cy="284.4" r="6.7" fill="#4755f6"/><circle cx="164.6" cy="283.8" r="6.7" fill="#422ebe"/><circle cx="160.1" cy="290.2" r="6.7" fill="#15afd9"/><circle cx="164.6" cy="292.1" r="6.7" fill="#05b6ce"/><circle cx="156.9" cy="300.5" r="6.7" fill="#12beb9"/><circle cx="159.5" cy="301.8" r="6.7" fill="#01b9c6"/><circle cx="164.9" cy="299.2" r="6.7" fill="#475cfa"/><circle cx="168.5" cy="321.1" r="6.7" fill="#12beb9"/><circle cx="171.1" cy="320.5" r="6.7" fill="#05b6ce"/><circle cx="176.2" cy="318.6" r="6.7" fill="#2e85f8"/><circle cx="221.3" cy="225.1" r="6.7" fill="#4433cc"/><circle cx="222.0" cy="229.6" r="6.7" fill="#4367fd"/><circle cx="212.9" cy="234.1" r="6.7" fill="#9fc942"/><circle cx="214.9" cy="238.7" r="6.7" fill="#9fc942"/><circle cx="223.2" cy="236.7" r="6.7" fill="#15afd9"/><circle cx="229.7" cy="246.4" r="6.7" fill="#463cde"/><circle cx="216.2" cy="245.7" r="6.7" fill="#9fc942"/><circle cx="220.0" cy="245.1" r="6.7" fill="#9fc942"/><circle cx="225.2" cy="245.7" r="6.7" fill="#fec13a"/><circle cx="202.6" cy="260.6" r="6.7" fill="#d7be28"/><circle cx="209.7" cy="260.6" r="6.7" fill="#d7be28"/><circle cx="214.9" cy="260.8" r="6.7" fill="#debd29"/><circle cx="222.6" cy="256.7" r="6.7" fill="#fad42e"/><circle cx="227.8" cy="257.3" r="6.7" fill="#48cb86"/><circle cx="220.0" cy="263.1" r="6.7" fill="#71cd64"/><circle cx="223.9" cy="261.9" r="6.7" fill="#f6f020"/><circle cx="227.1" cy="264.4" r="6.7" fill="#15afd9"/><circle cx="220.0" cy="283.8" r="6.7" fill="#422ebe"/><circle cx="226.5" cy="283.8" r="6.7" fill="#422ebe"/><circle cx="209.7" cy="287.6" r="6.7" fill="#15afd9"/><circle cx="222.6" cy="290.9" r="6.7" fill="#484aee"/><circle cx="226.5" cy="292.8" r="6.7" fill="#2d8cf3"/><circle cx="227.8" cy="298.6" r="6.7" fill="#4433cc"/><circle cx="221.3" cy="301.8" r="6.7" fill="#2fc5a2"/><circle cx="239.4" cy="316.0" r="6.7" fill="#4367fd"/><circle cx="235.5" cy="319.8" r="6.7" fill="#05b6ce"/><circle cx="216.8" cy="328.9" r="6.7" fill="#2fc5a2"/><circle cx="226.5" cy="323.7" r="6.7" fill="#27c2ac"/><circle cx="231.6" cy="321.1" r="6.7" fill="#04bbc2"/><circle cx="242.6" cy="328.9" r="6.7" fill="#37c898"/><circle cx="239.4" cy="353.4" r="6.7" fill="#48cb86"/><circle cx="247.1" cy="349.5" r="6.7" fill="#4743e7"/><circle cx="253.5" cy="346.9" r="6.7" fill="#21c1b0"/><circle cx="273.5" cy="354.0" r="6.7" fill="#b0c636"/><circle cx="250.9" cy="227.1" r="6.7" fill="#249fe5"/><circle cx="254.8" cy="224.8" r="6.7" fill="#239fe5"/><circle cx="258.6" cy="222.6" r="6.7" fill="#1fa5e2"/><circle cx="262.5" cy="220.3" r="6.7" fill="#1ca9df"/><circle cx="266.4" cy="218.0" r="6.7" fill="#19addc"/><circle cx="269.0" cy="216.1" r="6.7" fill="#f6f020"/><circle cx="270.3" cy="215.5" r="6.7" fill="#f6e028"/><circle cx="265.1" cy="247.0" r="6.7" fill="#0eb3d4"/><circle cx="268.5" cy="245.1" r="6.7" fill="#03bbc2"/><circle cx="271.8" cy="243.2" r="6.7" fill="#1ac0b5"/><circle cx="275.2" cy="241.2" r="6.7" fill="#22c1af"/><circle cx="278.5" cy="239.3" r="6.7" fill="#3dc990"/><circle cx="281.9" cy="237.4" r="6.7" fill="#5ecc74"/><circle cx="283.8" cy="236.1" r="6.7" fill="#fec13a"/><circle cx="286.4" cy="234.8" r="6.7" fill="#422ebe"/><circle cx="269.6" cy="260.6" r="6.7" fill="#10beba"/><circle cx="273.5" cy="260.6" r="6.7" fill="#0bbdbd"/><circle cx="277.4" cy="260.6" r="6.7" fill="#0cbdbc"/><circle cx="281.2" cy="260.6" r="6.7" fill="#0abdbd"/><circle cx="285.1" cy="260.6" r="6.7" fill="#02bbc3"/><circle cx="289.0" cy="260.6" r="6.7" fill="#f6f020"/><circle cx="287.0" cy="260.6" r="6.7" fill="#2fc5a2"/><circle cx="267.7" cy="288.9" r="6.7" fill="#2ac3a8"/><circle cx="272.4" cy="287.6" r="6.7" fill="#2dc4a5"/><circle cx="277.2" cy="286.4" r="6.7" fill="#1cc0b4"/><circle cx="281.9" cy="285.1" r="6.7" fill="#10beba"/><circle cx="287.0" cy="283.8" r="6.7" fill="#422ebe"/><circle cx="273.5" cy="307.0" r="6.7" fill="#34c79c"/><circle cx="276.7" cy="305.3" r="6.7" fill="#2ec5a4"/><circle cx="280.0" cy="303.5" r="6.7" fill="#36c899"/><circle cx="283.2" cy="301.8" r="6.7" fill="#2cc4a7"/><circle cx="287.7" cy="298.6" r="6.7" fill="#4433cc"/><circle cx="282.5" cy="322.4" r="6.7" fill="#15bfb7"/><circle cx="284.8" cy="320.8" r="6.7" fill="#01bac5"/><circle cx="287.0" cy="319.2" r="6.7" fill="#01b9c7"/><circle cx="289.6" cy="317.3" r="6.7" fill="#4743e7"/><circle cx="294.8" cy="314.7" r="6.7" fill="#2895ec"/><circle cx="291.5" cy="337.9" r="6.7" fill="#16bfb7"/><circle cx="295.1" cy="335.6" r="6.7" fill="#01b9c8"/><circle cx="298.6" cy="333.4" r="6.7" fill="#18addb"/><circle cx="301.2" cy="331.4" r="6.7" fill="#259ce7"/><circle cx="305.1" cy="327.6" r="6.7" fill="#c8c129"/><circle cx="300.0" cy="312.5" r="6.7" fill="#259ce7"/><circle cx="305.2" cy="328.6" r="6.7" fill="#d0c027"/><circle cx="301.3" cy="351.8" r="6.7" fill="#0eb2d4"/><circle cx="304.5" cy="349.7" r="6.7" fill="#02b7cb"/><circle cx="307.8" cy="347.6" r="6.7" fill="#0cbdbc"/><circle cx="311.0" cy="345.5" r="6.7" fill="#1bc0b4"/><circle cx="314.2" cy="343.4" r="6.7" fill="#27c2ab"/><circle cx="312.2" cy="363.4" r="6.7" fill="#07bcbf"/><circle cx="315.4" cy="361.5" r="6.7" fill="#06b5cf"/><circle cx="318.7" cy="359.5" r="6.7" fill="#12b1d7"/><circle cx="321.9" cy="357.6" r="6.7" fill="#269ae9"/><circle cx="330.3" cy="352.4" r="6.7" fill="#f6e028"/><circle cx="328.4" cy="353.1" r="6.7" fill="#c8c129"/><circle cx="323.8" cy="381.4" r="6.7" fill="#0abdbd"/><circle cx="326.6" cy="379.6" r="6.7" fill="#1bc0b4"/><circle cx="329.3" cy="377.9" r="6.7" fill="#2ec4a4"/><circle cx="332.1" cy="376.1" r="6.7" fill="#42ca8c"/><circle cx="334.8" cy="374.4" r="6.7" fill="#5ecd74"/><circle cx="338.7" cy="372.4" r="6.7" fill="#f8f719"/><circle cx="342.5" cy="369.8" r="6.7" fill="#fad42e"/><circle cx="345.5" cy="404.8" r="6.7" fill="#55cc7c"/><circle cx="348.4" cy="403.2" r="6.7" fill="#67cd6c"/><circle cx="351.3" cy="401.6" r="6.7" fill="#66cd6d"/><circle cx="354.2" cy="399.9" r="6.7" fill="#64cd6f"/><circle cx="357.1" cy="398.3" r="6.7" fill="#4fcc81"/><circle cx="360.9" cy="396.4" r="6.7" fill="#05b6ce"/><circle cx="359.6" cy="397.0" r="6.7" fill="#58cc79"/><circle cx="356.4" cy="423.5" r="6.7" fill="#49cb86"/><circle cx="359.5" cy="421.7" r="6.7" fill="#50cc80"/><circle cx="362.5" cy="419.9" r="6.7" fill="#56cc7b"/><circle cx="365.6" cy="418.2" r="6.7" fill="#67cd6d"/><circle cx="368.7" cy="416.4" r="6.7" fill="#4fcc81"/><circle cx="371.9" cy="414.4" r="6.7" fill="#01b9c6"/><circle cx="344.5" cy="403.4" r="6.7" fill="#5ccc76"/><circle cx="347.7" cy="401.7" r="6.7" fill="#4ccb83"/><circle cx="350.9" cy="400.0" r="6.7" fill="#39c895"/><circle cx="354.2" cy="398.4" r="6.7" fill="#40ca8d"/><circle cx="357.4" cy="396.7" r="6.7" fill="#30c5a2"/><circle cx="360.6" cy="395.0" r="6.7" fill="#34c79c"/><circle cx="116.9" cy="135.1" r="6.7" fill="#45cb89"/><circle cx="119.5" cy="139.5" r="6.7" fill="#47cb87"/><circle cx="122.1" cy="143.9" r="6.7" fill="#68cd6b"/><circle cx="124.6" cy="148.2" r="6.7" fill="#70cd65"/><circle cx="127.2" cy="152.6" r="6.7" fill="#6acd6a"/><circle cx="129.8" cy="157.0" r="6.7" fill="#69cd6b"/><circle cx="123.4" cy="150.5" r="6.7" fill="#2d8cf3"/><circle cx="129.8" cy="156.3" r="6.7" fill="#b0c636"/><circle cx="136.3" cy="122.2" r="6.7" fill="#fec835"/><circle cx="140.8" cy="110.6" r="6.7" fill="#3f6eff"/><circle cx="147.9" cy="109.9" r="6.7" fill="#249fe6"/><circle cx="140.8" cy="120.2" r="6.7" fill="#04bbc2"/><circle cx="146.6" cy="117.7" r="6.7" fill="#20a4e3"/><circle cx="147.9" cy="126.7" r="6.7" fill="#2fc5a2"/><circle cx="145.3" cy="132.5" r="6.7" fill="#9fc942"/><circle cx="154.3" cy="133.1" r="6.7" fill="#fec835"/><circle cx="149.1" cy="130.5" r="6.7" fill="#37c897"/><circle cx="152.3" cy="133.7" r="6.7" fill="#44cb89"/><circle cx="155.6" cy="137.0" r="6.7" fill="#3bc992"/><circle cx="158.8" cy="140.2" r="6.7" fill="#4acb84"/><circle cx="164.6" cy="110.6" r="6.7" fill="#07bcbf"/><circle cx="166.8" cy="113.7" r="6.7" fill="#20c1b1"/><circle cx="169.0" cy="116.9" r="6.7" fill="#2ac3a8"/><circle cx="171.2" cy="120.0" r="6.7" fill="#33c79c"/><circle cx="173.5" cy="123.1" r="6.7" fill="#3ac994"/><circle cx="175.7" cy="126.2" r="6.7" fill="#51cc7f"/><circle cx="177.9" cy="129.4" r="6.7" fill="#5fcd73"/><circle cx="180.1" cy="132.5" r="6.7" fill="#69cd6b"/><circle cx="176.2" cy="110.6" r="6.7" fill="#15bfb7"/><circle cx="179.6" cy="108.4" r="6.7" fill="#1bc0b4"/><circle cx="183.1" cy="106.3" r="6.7" fill="#23c1af"/><circle cx="186.5" cy="104.1" r="6.7" fill="#20c1b1"/><circle cx="190.4" cy="114.4" r="6.7" fill="#58cc79"/><circle cx="193.0" cy="111.8" r="6.7" fill="#53cc7d"/><circle cx="195.5" cy="109.3" r="6.7" fill="#53cc7d"/><circle cx="198.1" cy="106.7" r="6.7" fill="#41ca8c"/><circle cx="222.6" cy="110.6" r="6.7" fill="#7acc5d"/><circle cx="215.5" cy="117.0" r="6.7" fill="#2cc4a7"/><circle cx="220.0" cy="113.1" r="6.7" fill="#48cb86"/><circle cx="223.9" cy="111.9" r="6.7" fill="#58cc79"/><circle cx="235.5" cy="114.4" r="6.7" fill="#7acc5d"/><circle cx="229.0" cy="121.5" r="6.7" fill="#3bc992"/><circle cx="232.9" cy="117.7" r="6.7" fill="#37c898"/><circle cx="250.9" cy="129.9" r="6.7" fill="#48cb86"/><circle cx="259.3" cy="128.6" r="6.7" fill="#3e26a8"/><circle cx="267.7" cy="142.1" r="6.7" fill="#8dcb4f"/><circle cx="262.5" cy="145.4" r="6.7" fill="#48cb86"/><circle cx="269.0" cy="159.5" r="6.7" fill="#1caadf"/><circle cx="275.4" cy="150.5" r="6.7" fill="#2d8cf3"/><circle cx="274.1" cy="166.0" r="6.7" fill="#01b8ca"/><circle cx="279.3" cy="166.0" r="6.7" fill="#01b8ca"/><circle cx="275.4" cy="153.7" r="6.7" fill="#4433cc"/><circle cx="286.4" cy="165.3" r="6.7" fill="#484aee"/><circle cx="231.6" cy="200.8" r="6.7" fill="#21a3e4"/><circle cx="235.5" cy="198.5" r="6.7" fill="#259de7"/><circle cx="239.3" cy="196.2" r="6.7" fill="#2797eb"/><circle cx="243.2" cy="193.8" r="6.7" fill="#23a0e5"/><circle cx="247.0" cy="191.5" r="6.7" fill="#259ce7"/><circle cx="250.9" cy="189.2" r="6.7" fill="#249ee6"/><circle cx="300.6" cy="195.1" r="6.7" fill="#2ec4a4"/><circle cx="305.1" cy="192.5" r="6.7" fill="#2fc5a3"/><circle cx="309.6" cy="189.9" r="6.7" fill="#22c1b0"/><circle cx="314.1" cy="187.3" r="6.7" fill="#2e85f8"/><circle cx="319.9" cy="193.8" r="6.7" fill="#3bc992"/><circle cx="322.5" cy="200.2" r="6.7" fill="#317efb"/><circle cx="327.6" cy="204.1" r="6.7" fill="#422ebe"/><circle cx="340.5" cy="206.6" r="6.7" fill="#422ebe"/><circle cx="343.1" cy="210.5" r="6.7" fill="#9fc942"/><circle cx="343.1" cy="222.1" r="6.7" fill="#f5e825"/><circle cx="349.5" cy="223.4" r="6.7" fill="#4433cc"/><circle cx="332.8" cy="226.6" r="6.7" fill="#12beb9"/><circle cx="337.9" cy="224.7" r="6.7" fill="#2fc5a2"/><circle cx="345.7" cy="228.6" r="6.7" fill="#9fc942"/><circle cx="352.1" cy="238.9" r="6.7" fill="#f5e825"/><circle cx="336.6" cy="237.6" r="6.7" fill="#12beb9"/><circle cx="347.6" cy="233.1" r="6.7" fill="#19addc"/><circle cx="343.1" cy="246.6" r="6.7" fill="#48cb86"/><circle cx="350.8" cy="246.6" r="6.7" fill="#f6e028"/><circle cx="340.5" cy="260.1" r="6.7" fill="#b0c636"/><circle cx="344.4" cy="260.1" r="6.7" fill="#fdcc32"/><circle cx="350.2" cy="260.1" r="6.7" fill="#1caadf"/><circle cx="342.5" cy="248.7" r="6.7" fill="#2fc5a2"/><circle cx="349.0" cy="248.7" r="6.7" fill="#48cb86"/><circle cx="341.2" cy="260.3" r="6.7" fill="#58cc79"/><circle cx="344.5" cy="261.6" r="6.7" fill="#fdcc32"/><circle cx="345.1" cy="266.8" r="6.7" fill="#debd29"/><circle cx="351.5" cy="265.5" r="6.7" fill="#fad42e"/><circle cx="350.3" cy="260.3" r="6.7" fill="#1caadf"/><circle cx="338.7" cy="286.1" r="6.7" fill="#0cbdbc"/><circle cx="341.2" cy="285.6" r="6.7" fill="#14beb8"/><circle cx="343.8" cy="285.1" r="6.7" fill="#0cbdbc"/><circle cx="348.3" cy="284.1" r="6.7" fill="#422ebe"/><circle cx="341.9" cy="302.8" r="6.7" fill="#18addb"/><circle cx="344.7" cy="301.3" r="6.7" fill="#13b0d7"/><circle cx="347.5" cy="299.8" r="6.7" fill="#23a0e5"/><circle cx="350.3" cy="298.3" r="6.7" fill="#269ae8"/><circle cx="357.3" cy="319.6" r="6.7" fill="#422ebe"/><circle cx="360.6" cy="331.2" r="6.7" fill="#18addb"/><circle cx="363.8" cy="329.2" r="6.7" fill="#17aeda"/><circle cx="367.0" cy="327.3" r="6.7" fill="#1fa5e2"/><circle cx="372.2" cy="350.5" r="6.7" fill="#4433cc"/><circle cx="376.0" cy="347.7" r="6.7" fill="#249fe6"/><circle cx="373.5" cy="368.6" r="6.7" fill="#1fc0b2"/><circle cx="376.8" cy="366.6" r="6.7" fill="#2ec4a4"/><circle cx="380.1" cy="364.5" r="6.7" fill="#39c895"/><circle cx="383.4" cy="362.5" r="6.7" fill="#3ac993"/><circle cx="386.7" cy="360.5" r="6.7" fill="#55cc7b"/><circle cx="390.0" cy="358.5" r="6.7" fill="#58cc79"/><circle cx="393.3" cy="356.4" r="6.7" fill="#5dcc75"/><circle cx="396.6" cy="354.4" r="6.7" fill="#73cd63"/><circle cx="388.9" cy="378.2" r="6.7" fill="#59cc78"/><circle cx="392.3" cy="376.3" r="6.7" fill="#53cc7d"/><circle cx="395.8" cy="374.3" r="6.7" fill="#41ca8c"/><circle cx="399.2" cy="372.4" r="6.7" fill="#3fca8e"/><circle cx="404.1" cy="369.8" r="6.7" fill="#01b9c6"/><circle cx="373.8" cy="368.0" r="6.7" fill="#06bcc0"/><circle cx="377.1" cy="366.3" r="6.7" fill="#23c1af"/><circle cx="380.4" cy="364.5" r="6.7" fill="#2ec4a4"/><circle cx="383.7" cy="362.8" r="6.7" fill="#34c79c"/><circle cx="387.1" cy="361.0" r="6.7" fill="#46cb88"/><circle cx="390.4" cy="359.3" r="6.7" fill="#45cb88"/><circle cx="393.7" cy="357.5" r="6.7" fill="#6ecd67"/><circle cx="397.0" cy="355.8" r="6.7" fill="#6bcd69"/><circle cx="389.3" cy="377.7" r="6.7" fill="#5dcc75"/><circle cx="392.7" cy="375.9" r="6.7" fill="#4ccb83"/><circle cx="396.2" cy="374.0" r="6.7" fill="#4bcb83"/><circle cx="399.6" cy="372.2" r="6.7" fill="#57cc7a"/><circle cx="404.1" cy="370.0" r="6.7" fill="#01b9c6"/><circle cx="408.6" cy="404.1" r="6.7" fill="#36c899"/><circle cx="411.6" cy="402.4" r="6.7" fill="#30c5a1"/><circle cx="414.5" cy="400.7" r="6.7" fill="#44cb8a"/><circle cx="417.5" cy="399.1" r="6.7" fill="#45cb89"/><circle cx="420.4" cy="397.4" r="6.7" fill="#63cd70"/><circle cx="423.4" cy="395.7" r="6.7" fill="#73cd63"/><circle cx="425.4" cy="418.9" r="6.7" fill="#8dcb4f"/><circle cx="427.9" cy="417.0" r="6.7" fill="#fec13a"/><circle cx="433.1" cy="413.8" r="6.7" fill="#7acc5d"/><circle cx="468.7" cy="481.6" r="6.7" fill="#f7dd2a"/><circle cx="473.6" cy="478.6" r="6.7" fill="#f6e028"/><circle cx="477.7" cy="475.0" r="6.7" fill="#f7db2b"/><circle cx="481.7" cy="471.5" r="6.7" fill="#f5e227"/><circle cx="484.9" cy="468.2" r="6.7" fill="#f5e526"/><circle cx="489.3" cy="466.3" r="6.7" fill="#f5e427"/><circle cx="478.8" cy="489.8" r="6.7" fill="#f6e028"/><circle cx="482.1" cy="487.5" r="6.7" fill="#f5e626"/><circle cx="486.6" cy="483.4" r="6.7" fill="#f5e825"/><circle cx="490.1" cy="480.0" r="6.7" fill="#f6de29"/><circle cx="492.7" cy="475.3" r="6.7" fill="#f5e128"/><circle cx="496.7" cy="473.1" r="6.7" fill="#f5e526"/><circle cx="488.8" cy="497.2" r="6.7" fill="#f5e327"/><circle cx="492.4" cy="491.4" r="6.7" fill="#f5e725"/><circle cx="496.7" cy="487.9" r="6.7" fill="#f5e526"/><circle cx="500.4" cy="482.5" r="6.7" fill="#f5ea24"/><circle cx="503.5" cy="478.0" r="6.7" fill="#f5e426"/><circle cx="492.4" cy="480.2" r="6.7" fill="#f6e028"/><circle cx="494.9" cy="491.8" r="6.7" fill="#fad42e"/><circle cx="510.4" cy="480.2" r="6.7" fill="#f9fb15"/><circle cx="516.9" cy="484.0" r="6.7" fill="#f9fb15"/><circle cx="501.4" cy="499.5" r="6.7" fill="#f7f31c"/><circle cx="510.4" cy="498.2" r="6.7" fill="#f9fb15"/><circle cx="504.0" cy="504.6" r="6.7" fill="#f9fb15"/><circle cx="497.5" cy="486.6" r="6.7" fill="#f5e825"/><circle cx="484.6" cy="476.3" r="6.7" fill="#f7dc2a"/><circle cx="542.5" cy="442.8" r="6.7" fill="#fec835"/><circle cx="545.1" cy="435.1" r="6.7" fill="#f5e825"/><circle cx="546.4" cy="426.0" r="6.7" fill="#f6e028"/><circle cx="545.1" cy="417.0" r="6.7" fill="#f5e825"/><circle cx="547.7" cy="408.0" r="6.7" fill="#f6f020"/><circle cx="551.5" cy="401.5" r="6.7" fill="#f5ec22"/><circle cx="556.7" cy="395.1" r="6.7" fill="#f5e825"/><circle cx="561.9" cy="391.2" r="6.7" fill="#f7dc2a"/><circle cx="561.9" cy="398.3" r="6.7" fill="#f7dc2a"/><circle cx="567.0" cy="401.5" r="6.7" fill="#f5e825"/><circle cx="572.8" cy="399.0" r="6.7" fill="#fad42e"/><circle cx="578.6" cy="401.5" r="6.7" fill="#f6e028"/><circle cx="585.1" cy="402.2" r="6.7" fill="#f6f020"/><circle cx="592.8" cy="392.5" r="6.7" fill="#fec835"/><circle cx="590.2" cy="401.5" r="6.7" fill="#f6f020"/><circle cx="597.9" cy="393.8" r="6.7" fill="#f5e825"/><circle cx="603.1" cy="391.2" r="6.7" fill="#f6e028"/><circle cx="600.5" cy="399.0" r="6.7" fill="#f7f31c"/><circle cx="605.7" cy="401.5" r="6.7" fill="#f7f31c"/><circle cx="608.2" cy="392.5" r="6.7" fill="#f7dc2a"/><circle cx="613.4" cy="388.7" r="6.7" fill="#f5ec22"/><circle cx="618.6" cy="384.8" r="6.7" fill="#f6e028"/><circle cx="623.7" cy="382.2" r="6.7" fill="#f6e028"/><circle cx="630.2" cy="387.4" r="6.7" fill="#f6e028"/><circle cx="634.0" cy="389.9" r="6.7" fill="#f5e427"/><circle cx="623.7" cy="393.8" r="6.7" fill="#f7f31c"/><circle cx="621.1" cy="400.3" r="6.7" fill="#f7f31c"/><circle cx="628.9" cy="396.4" r="6.7" fill="#f7f31c"/><circle cx="636.6" cy="399.0" r="6.7" fill="#f6f020"/><circle cx="641.8" cy="395.1" r="6.7" fill="#f5ec22"/><circle cx="648.2" cy="399.6" r="6.7" fill="#f5ec22"/><circle cx="641.8" cy="404.1" r="6.7" fill="#f7f31c"/><circle cx="635.3" cy="410.6" r="6.7" fill="#f8f719"/><circle cx="628.9" cy="413.1" r="6.7" fill="#f8f719"/><circle cx="649.5" cy="406.7" r="6.7" fill="#f5ec22"/><circle cx="649.5" cy="417.0" r="6.7" fill="#f5ec22"/><circle cx="650.8" cy="426.0" r="6.7" fill="#f5ec22"/><circle cx="646.9" cy="427.3" r="6.7" fill="#f6f020"/><circle cx="657.2" cy="432.5" r="6.7" fill="#f7f31c"/><circle cx="666.2" cy="432.5" r="6.7" fill="#f7f31c"/><circle cx="668.8" cy="422.2" r="6.7" fill="#f7f31c"/><circle cx="671.4" cy="411.9" r="6.7" fill="#f7f31c"/><circle cx="677.8" cy="406.7" r="6.7" fill="#f7f31c"/><circle cx="667.5" cy="400.3" r="6.7" fill="#f5ec22"/><circle cx="666.2" cy="392.5" r="6.7" fill="#f6e028"/><circle cx="670.1" cy="405.4" r="6.7" fill="#f7f31c"/><circle cx="551.5" cy="414.4" r="6.7" fill="#f7f31c"/><circle cx="558.0" cy="414.4" r="6.7" fill="#f7f31c"/><circle cx="564.4" cy="414.4" r="6.7" fill="#f7f31c"/><circle cx="555.4" cy="427.3" r="6.7" fill="#f7f31c"/><circle cx="551.5" cy="422.2" r="6.7" fill="#f6f020"/><circle cx="551.5" cy="442.8" r="6.7" fill="#f7f31c"/><circle cx="558.0" cy="441.5" r="6.7" fill="#f7f31c"/><circle cx="564.4" cy="440.2" r="6.7" fill="#f7f31c"/><circle cx="572.2" cy="438.9" r="6.7" fill="#f7f31c"/><circle cx="579.9" cy="436.3" r="6.7" fill="#f7f31c"/><circle cx="587.6" cy="433.8" r="6.7" fill="#f7f31c"/><circle cx="595.4" cy="431.2" r="6.7" fill="#f7f31c"/><circle cx="603.1" cy="427.3" r="6.7" fill="#f7f31c"/><circle cx="609.5" cy="424.7" r="6.7" fill="#f7f31c"/><circle cx="613.4" cy="419.6" r="6.7" fill="#f7f31c"/><circle cx="612.1" cy="428.6" r="6.7" fill="#f6f020"/><circle cx="612.1" cy="435.1" r="6.7" fill="#f6f020"/><circle cx="559.3" cy="445.4" r="6.7" fill="#f7f31c"/><circle cx="567.0" cy="446.6" r="6.7" fill="#f7f31c"/><circle cx="574.7" cy="447.9" r="6.7" fill="#f6f020"/><circle cx="582.5" cy="447.9" r="6.7" fill="#f6f020"/><circle cx="590.2" cy="447.9" r="6.7" fill="#f5ec22"/><circle cx="597.9" cy="445.4" r="6.7" fill="#f5e825"/><circle cx="605.7" cy="445.4" r="6.7" fill="#f6e028"/><circle cx="612.1" cy="446.0" r="6.7" fill="#fec835"/><circle cx="619.8" cy="449.2" r="6.7" fill="#f8f719"/><circle cx="627.6" cy="449.9" r="6.7" fill="#f8f719"/><circle cx="635.3" cy="448.6" r="6.7" fill="#f8f719"/><circle cx="641.8" cy="444.1" r="6.7" fill="#f8f719"/><circle cx="648.2" cy="440.2" r="6.7" fill="#f8f719"/><circle cx="654.6" cy="437.6" r="6.7" fill="#f8f719"/><circle cx="661.1" cy="435.1" r="6.7" fill="#f8f719"/><circle cx="561.9" cy="455.7" r="6.7" fill="#f6f020"/><circle cx="567.0" cy="462.1" r="6.7" fill="#f5ec22"/><circle cx="572.2" cy="466.0" r="6.7" fill="#f5e825"/><circle cx="576.7" cy="469.8" r="6.7" fill="#fad42e"/><circle cx="582.5" cy="464.7" r="6.7" fill="#f5ec22"/><circle cx="587.6" cy="458.2" r="6.7" fill="#f5ec22"/><circle cx="592.8" cy="453.1" r="6.7" fill="#f5e825"/><circle cx="600.5" cy="451.8" r="6.7" fill="#f5e825"/><circle cx="579.9" cy="455.7" r="6.7" fill="#f5ec22"/><circle cx="572.2" cy="455.7" r="6.7" fill="#f6f020"/><circle cx="660.0" cy="370.9" r="6.7" fill="#f5e427"/><circle cx="664.6" cy="368.8" r="6.7" fill="#f6de29"/><circle cx="667.0" cy="366.5" r="6.7" fill="#f5e427"/><circle cx="671.3" cy="363.4" r="6.7" fill="#f9d82c"/><circle cx="673.7" cy="359.3" r="6.7" fill="#f5e327"/><circle cx="678.1" cy="357.3" r="6.7" fill="#f9d62d"/><circle cx="681.2" cy="353.5" r="6.7" fill="#f6e128"/><circle cx="687.0" cy="351.8" r="6.7" fill="#f8da2b"/><circle cx="690.3" cy="348.2" r="6.7" fill="#f7dd2a"/><circle cx="693.0" cy="346.6" r="6.7" fill="#f9d82c"/><circle cx="699.5" cy="343.7" r="6.7" fill="#fad52e"/><circle cx="701.8" cy="340.5" r="6.7" fill="#f5e427"/><circle cx="669.4" cy="374.9" r="6.7" fill="#f5eb23"/><circle cx="674.6" cy="371.6" r="6.7" fill="#f6f020"/><circle cx="675.8" cy="369.3" r="6.7" fill="#f7f41c"/><circle cx="679.4" cy="367.1" r="6.7" fill="#f5ec22"/><circle cx="685.3" cy="363.6" r="6.7" fill="#f5e626"/><circle cx="689.0" cy="359.7" r="6.7" fill="#f5e128"/><circle cx="689.9" cy="356.6" r="6.7" fill="#f5e725"/><circle cx="694.5" cy="352.4" r="6.7" fill="#f5e327"/><circle cx="698.1" cy="351.3" r="6.7" fill="#f7dc2a"/><circle cx="703.1" cy="348.1" r="6.7" fill="#f7dd2a"/><circle cx="707.2" cy="344.6" r="6.7" fill="#f5e825"/><circle cx="709.0" cy="340.4" r="6.7" fill="#f6de29"/><circle cx="684.0" cy="378.5" r="6.7" fill="#f7f51b"/><circle cx="685.4" cy="373.7" r="6.7" fill="#f6f020"/><circle cx="687.6" cy="371.5" r="6.7" fill="#f7f31d"/><circle cx="693.2" cy="365.8" r="6.7" fill="#f6f21e"/><circle cx="695.0" cy="361.8" r="6.7" fill="#f7f31d"/><circle cx="699.5" cy="360.0" r="6.7" fill="#f9f916"/><circle cx="701.7" cy="356.2" r="6.7" fill="#f9fb15"/><circle cx="704.5" cy="351.8" r="6.7" fill="#f5ed22"/><circle cx="692.0" cy="383.3" r="6.7" fill="#f9fb15"/><circle cx="693.6" cy="378.1" r="6.7" fill="#f6f01f"/><circle cx="696.0" cy="372.9" r="6.7" fill="#f8f719"/><circle cx="696.6" cy="368.3" r="6.7" fill="#f9fb15"/><circle cx="699.7" cy="363.3" r="6.7" fill="#f9f916"/><circle cx="700.2" cy="359.0" r="6.7" fill="#f7f61a"/><circle cx="665.5" cy="391.8" r="6.7" fill="#f5eb23"/><circle cx="671.7" cy="390.2" r="6.7" fill="#f5ec22"/><circle cx="676.3" cy="388.9" r="6.7" fill="#f6f01f"/><circle cx="679.4" cy="384.9" r="6.7" fill="#f5ec22"/><circle cx="684.4" cy="382.4" r="6.7" fill="#f5ef20"/><circle cx="688.9" cy="381.0" r="6.7" fill="#f9f916"/><circle cx="689.9" cy="380.7" r="6.7" fill="#f6f21e"/><circle cx="692.0" cy="376.0" r="6.7" fill="#f6f11f"/><circle cx="693.7" cy="371.2" r="6.7" fill="#f9fa15"/><circle cx="696.4" cy="367.0" r="6.7" fill="#f7f51b"/><circle cx="700.4" cy="361.8" r="6.7" fill="#f6f01f"/><circle cx="701.8" cy="357.5" r="6.7" fill="#f6f31d"/><circle cx="664.6" cy="372.6" r="6.7" fill="#f5e626"/><circle cx="666.6" cy="368.1" r="6.7" fill="#f5e327"/><circle cx="672.2" cy="366.2" r="6.7" fill="#f5e128"/><circle cx="674.3" cy="363.2" r="6.7" fill="#f5e725"/><circle cx="679.8" cy="361.3" r="6.7" fill="#f5e825"/><circle cx="682.5" cy="356.9" r="6.7" fill="#f8da2b"/><circle cx="716.0" cy="297.0" r="6.7" fill="#c1c32d"/><circle cx="722.5" cy="307.3" r="6.7" fill="#eaba31"/><circle cx="728.9" cy="308.6" r="6.7" fill="#fec13a"/><circle cx="717.3" cy="315.1" r="6.7" fill="#fdcc32"/><circle cx="719.9" cy="320.2" r="6.7" fill="#fdcc32"/><circle cx="712.2" cy="327.9" r="6.7" fill="#eaba31"/><circle cx="714.7" cy="325.4" r="6.7" fill="#fdcc32"/><circle cx="700.6" cy="332.2" r="6.7" fill="#66cd6d"/><circle cx="702.3" cy="328.2" r="6.7" fill="#5dcc75"/><circle cx="703.1" cy="324.2" r="6.7" fill="#43ca8a"/><circle cx="705.0" cy="319.7" r="6.7" fill="#5bcc76"/><circle cx="706.0" cy="316.0" r="6.7" fill="#40ca8d"/><circle cx="706.5" cy="312.8" r="6.7" fill="#4ecc81"/><circle cx="708.3" cy="309.9" r="6.7" fill="#05b6ce"/><circle cx="704.4" cy="327.9" r="6.7" fill="#60cd72"/><circle cx="743.1" cy="300.9" r="6.7" fill="#fdcc32"/><circle cx="748.2" cy="299.6" r="6.7" fill="#fec835"/><circle cx="714.4" cy="295.3" r="6.7" fill="#b3c534"/><circle cx="720.0" cy="295.1" r="6.7" fill="#5dcc75"/><circle cx="723.8" cy="292.1" r="6.7" fill="#39c994"/><circle cx="726.9" cy="294.4" r="6.7" fill="#32c69e"/><circle cx="732.3" cy="291.0" r="6.7" fill="#06b5cf"/><circle cx="733.4" cy="291.5" r="6.7" fill="#08b5d0"/><circle cx="737.3" cy="286.3" r="6.7" fill="#249ee6"/><circle cx="742.5" cy="286.4" r="6.7" fill="#2f82fa"/><circle cx="740.5" cy="275.1" r="6.7" fill="#01b7ca"/><circle cx="744.8" cy="272.5" r="6.7" fill="#21a3e3"/><circle cx="749.1" cy="270.0" r="6.7" fill="#2d8cf3"/><circle cx="753.4" cy="267.4" r="6.7" fill="#4562fc"/><circle cx="767.6" cy="259.6" r="6.7" fill="#422ebe"/><circle cx="770.2" cy="268.7" r="6.7" fill="#4433cc"/><circle cx="768.9" cy="255.8" r="6.7" fill="#12beb9"/><circle cx="757.3" cy="284.1" r="6.7" fill="#28c3aa"/><circle cx="761.1" cy="283.5" r="6.7" fill="#2bc3a8"/><circle cx="765.0" cy="282.8" r="6.7" fill="#29c3a9"/><circle cx="768.9" cy="282.1" r="6.7" fill="#2cc4a7"/><circle cx="772.7" cy="281.5" r="6.7" fill="#2ac3a9"/><circle cx="776.2" cy="280.4" r="6.7" fill="#2f81fa"/><circle cx="778.8" cy="278.2" r="6.7" fill="#3d71ff"/><circle cx="783.4" cy="280.0" r="6.7" fill="#327bfc"/><circle cx="788.3" cy="278.9" r="6.7" fill="#347afd"/><circle cx="790.3" cy="274.1" r="6.7" fill="#3677fe"/><circle cx="795.6" cy="271.9" r="6.7" fill="#3d71ff"/><circle cx="774.8" cy="268.2" r="6.7" fill="#416cfe"/><circle cx="777.8" cy="265.7" r="6.7" fill="#406dfe"/><circle cx="782.4" cy="268.4" r="6.7" fill="#406dfe"/><circle cx="788.7" cy="264.4" r="6.7" fill="#3a73fe"/><circle cx="792.0" cy="265.8" r="6.7" fill="#3777fe"/><circle cx="792.8" cy="263.4" r="6.7" fill="#3678fd"/><circle cx="799.8" cy="268.7" r="6.7" fill="#2d8cf3"/><circle cx="804.3" cy="275.7" r="6.7" fill="#20a4e3"/><circle cx="789.8" cy="234.8" r="6.7" fill="#4369fe"/><circle cx="786.4" cy="235.9" r="6.7" fill="#416bfe"/><circle cx="789.1" cy="228.6" r="6.7" fill="#4757f7"/><circle cx="787.9" cy="237.6" r="6.7" fill="#2d88f6"/><circle cx="783.9" cy="245.9" r="6.7" fill="#2e87f7"/><circle cx="780.5" cy="241.6" r="6.7" fill="#2d8af5"/><circle cx="779.0" cy="233.5" r="6.7" fill="#317dfc"/><circle cx="781.4" cy="241.9" r="6.7" fill="#4755f6"/><circle cx="784.9" cy="227.1" r="6.7" fill="#3678fd"/><circle cx="786.5" cy="236.4" r="6.7" fill="#4561fc"/><circle cx="770.7" cy="238.6" r="6.7" fill="#2d89f5"/><circle cx="779.0" cy="240.4" r="6.7" fill="#406cfe"/><circle cx="770.8" cy="237.4" r="6.7" fill="#465ffb"/><circle cx="788.4" cy="228.6" r="6.7" fill="#2e83f9"/><circle cx="786.0" cy="229.0" r="6.7" fill="#4366fd"/><circle cx="780.8" cy="242.6" r="6.7" fill="#2f80fa"/><circle cx="805.9" cy="239.4" r="6.7" fill="#c1c32c"/><circle cx="797.4" cy="240.1" r="6.7" fill="#1bc0b4"/><circle cx="785.5" cy="232.5" r="6.7" fill="#f2ba38"/><circle cx="813.5" cy="224.1" r="6.7" fill="#3eca8f"/><circle cx="803.2" cy="238.4" r="6.7" fill="#7acc5e"/><circle cx="793.6" cy="224.4" r="6.7" fill="#39c895"/><circle cx="782.3" cy="242.5" r="6.7" fill="#adc738"/><circle cx="797.0" cy="219.7" r="6.7" fill="#aac73a"/><circle cx="811.8" cy="246.7" r="6.7" fill="#44cb8a"/><circle cx="785.1" cy="231.4" r="6.7" fill="#bdc32e"/><circle cx="800.7" cy="243.9" r="6.7" fill="#3bc993"/><circle cx="809.1" cy="249.1" r="6.7" fill="#91ca4c"/><circle cx="790.9" cy="245.4" r="6.7" fill="#f4ba39"/><circle cx="786.8" cy="235.3" r="6.7" fill="#cfc028"/><circle cx="784.9" cy="221.5" r="6.7" fill="#28c3aa"/><circle cx="777.7" cy="238.2" r="6.7" fill="#d6be28"/><circle cx="801.1" cy="233.9" r="6.7" fill="#44ca8a"/><circle cx="804.3" cy="240.9" r="6.7" fill="#f1ba36"/><circle cx="779.0" cy="227.3" r="6.7" fill="#57cc7a"/><circle cx="807.1" cy="227.0" r="6.7" fill="#3dc990"/><circle cx="801.0" cy="219.0" r="6.7" fill="#29c3aa"/><circle cx="783.1" cy="227.9" r="6.7" fill="#36c898"/><circle cx="791.7" cy="240.5" r="6.7" fill="#35c79a"/><circle cx="796.8" cy="249.2" r="6.7" fill="#a6c73c"/><circle cx="798.0" cy="237.5" r="6.7" fill="#4bcb83"/><circle cx="793.2" cy="229.0" r="6.7" fill="#48cb86"/><circle cx="802.9" cy="250.6" r="6.7" fill="#89cb53"/><circle cx="803.7" cy="237.8" r="6.7" fill="#5dcc75"/><circle cx="780.6" cy="231.4" r="6.7" fill="#27c2ac"/><circle cx="806.7" cy="248.1" r="6.7" fill="#61cd72"/><circle cx="794.8" cy="245.1" r="6.7" fill="#edba33"/><circle cx="791.0" cy="247.8" r="6.7" fill="#53cc7d"/><circle cx="779.7" cy="243.8" r="6.7" fill="#f5ba3a"/><circle cx="790.9" cy="241.5" r="6.7" fill="#bbc430"/><circle cx="797.8" cy="237.0" r="6.7" fill="#e3bc2c"/><circle cx="779.7" cy="243.0" r="6.7" fill="#60cd72"/><circle cx="808.3" cy="227.8" r="6.7" fill="#30c5a1"/><circle cx="813.5" cy="236.9" r="6.7" fill="#a3c83f"/><circle cx="802.8" cy="232.9" r="6.7" fill="#9ec942"/><circle cx="786.6" cy="244.7" r="6.7" fill="#2ec5a4"/><circle cx="794.0" cy="248.0" r="6.7" fill="#e8bb2f"/><circle cx="809.2" cy="243.4" r="6.7" fill="#cec028"/><circle cx="806.8" cy="234.1" r="6.7" fill="#2cc4a7"/><circle cx="817.6" cy="229.7" r="6.7" fill="#75cc61"/><circle cx="817.2" cy="241.2" r="6.7" fill="#5bcc77"/><circle cx="811.5" cy="227.9" r="6.7" fill="#d3bf27"/><circle cx="807.7" cy="248.7" r="6.7" fill="#37c897"/><circle cx="780.7" cy="244.7" r="6.7" fill="#d4bf27"/><circle cx="801.5" cy="243.1" r="6.7" fill="#5ecd74"/><circle cx="783.8" cy="234.5" r="6.7" fill="#2cc4a7"/><circle cx="797.6" cy="250.5" r="6.7" fill="#e2bc2b"/><circle cx="813.2" cy="239.0" r="6.7" fill="#c2c22c"/><circle cx="816.8" cy="239.5" r="6.7" fill="#2bc3a8"/><circle cx="784.1" cy="228.1" r="6.7" fill="#9fc941"/><circle cx="792.4" cy="246.3" r="6.7" fill="#93ca4b"/><circle cx="781.4" cy="242.1" r="6.7" fill="#6bcd69"/><circle cx="794.2" cy="236.7" r="6.7" fill="#9dc943"/><circle cx="786.7" cy="236.3" r="6.7" fill="#c4c22b"/><circle cx="800.1" cy="224.1" r="6.7" fill="#32c69e"/><circle cx="790.2" cy="236.7" r="6.7" fill="#2cc4a6"/><circle cx="791.3" cy="237.9" r="6.7" fill="#69cd6a"/><circle cx="792.9" cy="235.5" r="6.7" fill="#a2c83f"/><circle cx="813.6" cy="243.1" r="6.7" fill="#c7c129"/><circle cx="792.2" cy="235.4" r="6.7" fill="#7ccc5c"/><circle cx="781.9" cy="247.5" r="6.7" fill="#2dc4a5"/><circle cx="810.9" cy="222.1" r="6.7" fill="#bcc42f"/><circle cx="801.1" cy="228.7" r="6.7" fill="#f2ba38"/><circle cx="775.9" cy="236.6" r="6.7" fill="#e6bb2d"/><circle cx="807.2" cy="249.0" r="6.7" fill="#e9bb2f"/><circle cx="809.2" cy="239.8" r="6.7" fill="#c2c22c"/><circle cx="808.5" cy="249.5" r="6.7" fill="#3fca8e"/><circle cx="800.6" cy="229.7" r="6.7" fill="#7bcc5d"/><circle cx="806.1" cy="231.9" r="6.7" fill="#3dca90"/><circle cx="784.9" cy="235.3" r="6.7" fill="#1bc0b4"/><circle cx="800.9" cy="242.1" r="6.7" fill="#eabb30"/><circle cx="752.2" cy="269.2" r="6.7" fill="#4562fc"/><circle cx="757.7" cy="266.6" r="6.7" fill="#4758f8"/><circle cx="763.2" cy="264.0" r="6.7" fill="#484ef1"/><circle cx="768.6" cy="261.5" r="6.7" fill="#473fe2"/><circle cx="774.1" cy="258.9" r="6.7" fill="#422fc2"/><circle cx="739.3" cy="275.6" r="6.7" fill="#0abdbd"/><circle cx="744.5" cy="273.7" r="6.7" fill="#0dbdbc"/><circle cx="749.6" cy="271.8" r="6.7" fill="#08bcbf"/><circle cx="769.0" cy="266.6" r="6.7" fill="#4433cc"/><circle cx="771.5" cy="271.8" r="6.7" fill="#422ebe"/><circle cx="757.4" cy="282.1" r="6.7" fill="#28c3aa"/><circle cx="763.0" cy="280.8" r="6.7" fill="#2fc5a2"/><circle cx="768.5" cy="279.5" r="6.7" fill="#28c3aa"/><circle cx="774.1" cy="278.2" r="6.7" fill="#2ac3a9"/><circle cx="775.9" cy="274.0" r="6.7" fill="#4367fd"/><circle cx="781.2" cy="270.6" r="6.7" fill="#4563fc"/><circle cx="784.4" cy="267.9" r="6.7" fill="#465ffb"/><circle cx="787.4" cy="266.0" r="6.7" fill="#4465fd"/><circle cx="791.1" cy="265.6" r="6.7" fill="#4368fe"/><circle cx="792.2" cy="261.4" r="6.7" fill="#3f6eff"/><circle cx="796.1" cy="265.7" r="6.7" fill="#307ffb"/><circle cx="799.9" cy="270.0" r="6.7" fill="#2896eb"/><circle cx="803.8" cy="274.3" r="6.7" fill="#21a3e3"/><circle cx="821.8" cy="273.0" r="6.7" fill="#4ccb83"/><circle cx="826.5" cy="275.6" r="6.7" fill="#5ccc75"/><circle cx="831.3" cy="278.2" r="6.7" fill="#70cd65"/><circle cx="836.0" cy="280.8" r="6.7" fill="#6acd6a"/><circle cx="884.9" cy="274.3" r="6.7" fill="#48cb86"/><circle cx="896.5" cy="279.5" r="6.7" fill="#f5ba3a"/><circle cx="842.4" cy="207.3" r="6.7" fill="#4367fd"/><circle cx="851.4" cy="204.7" r="6.7" fill="#4367fd"/><circle cx="867.6" cy="198.9" r="6.7" fill="#259ce7"/><circle cx="882.4" cy="193.1" r="6.7" fill="#259ce7"/><circle cx="887.5" cy="190.6" r="6.7" fill="#259ce7"/><circle cx="865.6" cy="222.8" r="6.7" fill="#4563fc"/><circle cx="869.7" cy="221.2" r="6.7" fill="#406dfe"/><circle cx="873.8" cy="219.6" r="6.7" fill="#317dfb"/><circle cx="877.9" cy="217.9" r="6.7" fill="#2c8ff1"/><circle cx="881.9" cy="216.3" r="6.7" fill="#2797eb"/><circle cx="886.0" cy="214.7" r="6.7" fill="#23a0e5"/><circle cx="890.1" cy="213.1" r="6.7" fill="#12b1d6"/><circle cx="895.3" cy="210.5" r="6.7" fill="#2fc5a2"/><circle cx="900.4" cy="208.6" r="6.7" fill="#48cb86"/><circle cx="869.5" cy="233.1" r="6.7" fill="#4367fd"/><circle cx="868.2" cy="238.9" r="6.7" fill="#4465fd"/><circle cx="873.2" cy="238.9" r="6.7" fill="#475bf9"/><circle cx="878.3" cy="238.9" r="6.7" fill="#4855f6"/><circle cx="883.3" cy="238.9" r="6.7" fill="#4368fe"/><circle cx="888.3" cy="238.9" r="6.7" fill="#4368fe"/><circle cx="893.4" cy="238.9" r="6.7" fill="#465ffb"/><circle cx="898.4" cy="238.9" r="6.7" fill="#475af9"/><circle cx="903.4" cy="238.9" r="6.7" fill="#4759f8"/><circle cx="908.4" cy="238.9" r="6.7" fill="#475cfa"/><circle cx="913.5" cy="238.9" r="6.7" fill="#3777fe"/><circle cx="918.5" cy="238.9" r="6.7" fill="#3875fe"/><circle cx="913.3" cy="238.9" r="6.7" fill="#2d8cf3"/><circle cx="918.5" cy="238.9" r="6.7" fill="#249fe6"/><circle cx="793.8" cy="62.9" r="6.7" fill="#0fbebb"/><circle cx="799.4" cy="65.7" r="6.7" fill="#08bcbf"/><circle cx="804.9" cy="68.5" r="6.7" fill="#0cbdbc"/><circle cx="810.5" cy="71.3" r="6.7" fill="#02bbc3"/><circle cx="814.4" cy="74.5" r="6.7" fill="#e6bb2d"/><circle cx="818.3" cy="76.6" r="6.7" fill="#e0bc2a"/><circle cx="822.1" cy="78.8" r="6.7" fill="#debc2a"/><circle cx="826.0" cy="80.9" r="6.7" fill="#e6bb2d"/><circle cx="832.4" cy="84.1" r="6.7" fill="#c1c32d"/><circle cx="838.9" cy="86.1" r="6.7" fill="#b0c636"/><circle cx="854.3" cy="77.1" r="6.7" fill="#97ca47"/><circle cx="857.9" cy="74.5" r="6.7" fill="#a4c83e"/><circle cx="861.5" cy="71.9" r="6.7" fill="#96ca49"/><circle cx="865.2" cy="69.4" r="6.7" fill="#93ca4b"/><circle cx="868.8" cy="66.8" r="6.7" fill="#8acb52"/><circle cx="872.4" cy="64.2" r="6.7" fill="#63cd6f"/><circle cx="783.5" cy="95.1" r="6.7" fill="#4743e7"/><circle cx="786.7" cy="92.5" r="6.7" fill="#04bbc2"/><circle cx="794.4" cy="106.1" r="6.7" fill="#11b1d6"/><circle cx="807.3" cy="114.4" r="6.7" fill="#b0c636"/><circle cx="807.9" cy="138.9" r="6.7" fill="#4367fd"/><circle cx="813.1" cy="137.6" r="6.7" fill="#4369fe"/><circle cx="823.4" cy="133.8" r="6.7" fill="#20a4e3"/><circle cx="819.5" cy="135.1" r="6.7" fill="#249fe6"/><circle cx="828.6" cy="159.5" r="6.7" fill="#19addc"/><circle cx="831.8" cy="157.6" r="6.7" fill="#0cb3d3"/><circle cx="835.0" cy="155.7" r="6.7" fill="#0fb2d5"/><circle cx="838.2" cy="153.7" r="6.7" fill="#0eb2d4"/><circle cx="841.4" cy="151.8" r="6.7" fill="#09b4d1"/><circle cx="902.0" cy="104.1" r="6.7" fill="#2dc4a6"/><circle cx="900.2" cy="106.7" r="6.7" fill="#0bbdbc"/><circle cx="898.3" cy="109.4" r="6.7" fill="#08bcbf"/><circle cx="896.5" cy="112.0" r="6.7" fill="#02bac4"/><circle cx="894.6" cy="114.7" r="6.7" fill="#2fc5a2"/><circle cx="892.8" cy="117.3" r="6.7" fill="#03bbc2"/><circle cx="891.0" cy="119.9" r="6.7" fill="#02b7cb"/><circle cx="889.1" cy="122.6" r="6.7" fill="#31c69f"/><circle cx="887.3" cy="125.2" r="6.7" fill="#16bfb7"/><circle cx="885.5" cy="127.8" r="6.7" fill="#3bc993"/><circle cx="883.6" cy="130.5" r="6.7" fill="#30c5a1"/><circle cx="881.8" cy="133.1" r="6.7" fill="#2fc5a3"/><circle cx="879.9" cy="135.8" r="6.7" fill="#32c69e"/><circle cx="878.1" cy="138.4" r="6.7" fill="#21c1b0"/><circle cx="876.3" cy="141.0" r="6.7" fill="#3fca8e"/><circle cx="874.4" cy="143.7" r="6.7" fill="#07bcbf"/><circle cx="872.6" cy="146.3" r="6.7" fill="#44ca8a"/><circle cx="870.8" cy="148.9" r="6.7" fill="#44cb89"/><circle cx="868.9" cy="151.6" r="6.7" fill="#31c6a0"/><circle cx="867.1" cy="154.2" r="6.7" fill="#37c897"/><circle cx="865.2" cy="156.9" r="6.7" fill="#1ec0b2"/><circle cx="863.4" cy="159.5" r="6.7" fill="#40ca8d"/><circle cx="863.4" cy="155.7" r="6.7" fill="#58cc79"/><circle cx="869.8" cy="160.8" r="6.7" fill="#15afd9"/><circle cx="864.6" cy="166.0" r="6.7" fill="#2fc5a2"/><circle cx="858.2" cy="162.1" r="6.7" fill="#484aee"/><circle cx="858.2" cy="171.1" r="6.7" fill="#1ea8e1"/><circle cx="855.0" cy="173.7" r="6.7" fill="#20a4e3"/><circle cx="851.8" cy="176.3" r="6.7" fill="#23a1e4"/><circle cx="848.5" cy="178.9" r="6.7" fill="#4755f6"/><circle cx="742.2" cy="372.1" r="6.7" fill="#f9fb15"/><circle cx="746.7" cy="373.6" r="6.7" fill="#f8f719"/><circle cx="751.2" cy="375.1" r="6.7" fill="#f7f61a"/><circle cx="755.8" cy="376.6" r="6.7" fill="#f9fb15"/><circle cx="760.3" cy="378.1" r="6.7" fill="#f9fb15"/><circle cx="764.8" cy="379.6" r="6.7" fill="#f9fb15"/><circle cx="769.3" cy="381.1" r="6.7" fill="#f9fa16"/><circle cx="804.1" cy="372.1" r="6.7" fill="#f5ea24"/><circle cx="808.6" cy="373.6" r="6.7" fill="#f5ea23"/><circle cx="813.1" cy="375.1" r="6.7" fill="#f8f61a"/><circle cx="817.6" cy="376.6" r="6.7" fill="#f7f51b"/><circle cx="822.1" cy="378.1" r="6.7" fill="#f7f61a"/><circle cx="826.6" cy="379.6" r="6.7" fill="#f8f818"/><circle cx="831.1" cy="381.1" r="6.7" fill="#f9fa16"/><circle cx="752.5" cy="406.9" r="6.7" fill="#f9fb15"/><circle cx="757.7" cy="406.9" r="6.7" fill="#f9fb15"/><circle cx="815.7" cy="406.9" r="6.7" fill="#f9fb15"/><circle cx="822.1" cy="406.9" r="6.7" fill="#f9fb15"/><circle cx="789.9" cy="334.7" r="6.7" fill="#f7f51b"/><circle cx="793.5" cy="337.0" r="6.7" fill="#f8f818"/><circle cx="797.0" cy="339.2" r="6.7" fill="#f7f51b"/><circle cx="800.5" cy="341.5" r="6.7" fill="#f6f21e"/><circle cx="804.1" cy="343.8" r="6.7" fill="#f9fb15"/><circle cx="796.3" cy="306.4" r="6.7" fill="#c8c129"/><circle cx="846.6" cy="332.2" r="6.7" fill="#71cd64"/><circle cx="849.8" cy="334.1" r="6.7" fill="#fec13a"/><circle cx="853.0" cy="336.0" r="6.7" fill="#f9fa16"/><circle cx="857.5" cy="338.6" r="6.7" fill="#f9fa16"/><circle cx="862.1" cy="341.2" r="6.7" fill="#f8f61a"/><circle cx="858.2" cy="305.1" r="6.7" fill="#feca33"/><circle cx="861.6" cy="308.1" r="6.7" fill="#fdce31"/><circle cx="865.1" cy="311.1" r="6.7" fill="#f5e327"/><circle cx="868.5" cy="314.1" r="6.7" fill="#f5e228"/><circle cx="822.1" cy="274.2" r="6.7" fill="#3bc992"/><circle cx="828.6" cy="276.8" r="6.7" fill="#58cc79"/><circle cx="833.7" cy="279.3" r="6.7" fill="#68cd6b"/><circle cx="836.3" cy="287.1" r="6.7" fill="#60cd72"/><circle cx="820.8" cy="289.6" r="6.7" fill="#12beb9"/><circle cx="823.4" cy="292.2" r="6.7" fill="#48cb86"/><circle cx="833.7" cy="293.5" r="6.7" fill="#58cc79"/><circle cx="833.7" cy="296.1" r="6.7" fill="#1caadf"/><circle cx="823.4" cy="297.4" r="6.7" fill="#fec13a"/><circle cx="826.0" cy="301.2" r="6.7" fill="#f7dc2a"/><circle cx="828.6" cy="303.8" r="6.7" fill="#f6e028"/><circle cx="885.3" cy="275.5" r="6.7" fill="#3bc992"/><circle cx="895.6" cy="279.3" r="6.7" fill="#f5ba3a"/><circle cx="898.1" cy="288.4" r="6.7" fill="#f5ba3a"/><circle cx="884.0" cy="292.2" r="6.7" fill="#9fc942"/><circle cx="895.6" cy="294.8" r="6.7" fill="#b0c636"/><circle cx="885.3" cy="297.4" r="6.7" fill="#f5e825"/><circle cx="890.4" cy="303.8" r="6.7" fill="#f7f31c"/></g>
<text x="186.2" y="149.2" font-size="21.2">2015</text>
<text x="131.0" y="358.0" font-size="21.2" transform="rotate(29.0 131.0 358.0)">2013</text>
<text x="181.5" y="357.0" font-size="21.2" transform="rotate(29.0 181.5 357.0)">2012</text>
<text x="269.0" y="390.0" font-size="21.2" transform="rotate(29.0 269.0 390.0)">2011</text>
<text x="366.5" y="447.0" font-size="21.2" transform="rotate(29.5 366.5 447.0)">2007</text>
<text x="423.5" y="446.0" font-size="21.2" transform="rotate(29.5 423.5 446.0)">2016</text>
<text x="411.5" y="498.0" font-size="21.2">2010</text>
<text x="566.0" y="377.0" font-size="21.2">2017</text>
<text x="644.0" y="337.5" font-size="21.2">2015</text>
<text x="742.5" y="206.2" font-size="21.2">2017</text>
<text x="753.2" y="150.0" font-size="21.2">2017</text>
<text x="823.5" y="111.0" font-size="21.2">2015</text>
<text x="861.0" y="193.7" font-size="21.2">2016</text>
<text x="733.2" y="441.9" font-size="21.2" transform="rotate(30.0 733.2 441.9)">2007</text>
<text x="792.4" y="443.2" font-size="21.2" transform="rotate(30.0 792.4 443.2)">2012</text>
<text x="7.0" y="121.0" font-size="29.2">60°N</text>
<text x="7.0" y="267.5" font-size="29.2">45°N</text>
<text x="7.0" y="393.5" font-size="29.2">30°N</text>
<text x="7.0" y="508.5" font-size="29.2">15°N</text>
<text x="116.0" y="544.0" font-size="29.2">150 °W</text>
<text x="228.0" y="544.0" font-size="29.2">135 °W</text>
<text x="337.0" y="544.0" font-size="29.2">120 °W</text>
<text x="448.0" y="544.0" font-size="29.2">105 °W</text>
<text x="567.0" y="544.0" font-size="29.2">90 °W</text>
<text x="677.0" y="544.0" font-size="29.2">75 °W</text>
<text x="777.0" y="544.0" font-size="29.2">60 °W</text>
<linearGradient id="gA" x1="0" y1="0" x2="0" y2="1"><stop offset="0.0000" stop-color="#3e26a8"/><stop offset="0.0312" stop-color="#422ebf"/><stop offset="0.0625" stop-color="#4536d5"/><stop offset="0.0938" stop-color="#4741e5"/><stop offset="0.1250" stop-color="#484cef"/><stop offset="0.1562" stop-color="#4757f7"/><stop offset="0.1875" stop-color="#4562fc"/><stop offset="0.2188" stop-color="#3f6efe"/><stop offset="0.2500" stop-color="#347afd"/><stop offset="0.2812" stop-color="#2e85f8"/><stop offset="0.3125" stop-color="#2c90f0"/><stop offset="0.3438" stop-color="#269ae9"/><stop offset="0.3750" stop-color="#21a3e3"/><stop offset="0.4062" stop-color="#1aacdd"/><stop offset="0.4375" stop-color="#0cb3d3"/><stop offset="0.4688" stop-color="#01b9c6"/><stop offset="0.5000" stop-color="#12beb9"/><stop offset="0.5312" stop-color="#28c2ab"/><stop offset="0.5625" stop-color="#34c79c"/><stop offset="0.5938" stop-color="#44ca8a"/><stop offset="0.6250" stop-color="#5ccc76"/><stop offset="0.6562" stop-color="#77cc60"/><stop offset="0.6875" stop-color="#94ca4a"/><stop offset="0.7188" stop-color="#afc637"/><stop offset="0.7500" stop-color="#c8c129"/><stop offset="0.7812" stop-color="#debc2a"/><stop offset="0.8125" stop-color="#f1ba37"/><stop offset="0.8438" stop-color="#febe3c"/><stop offset="0.8750" stop-color="#feca33"/><stop offset="0.9062" stop-color="#f9d62d"/><stop offset="0.9375" stop-color="#f5e327"/><stop offset="0.9688" stop-color="#f6ef20"/><stop offset="1.0000" stop-color="#f9fb15"/></linearGradient>
<rect x="948.0" y="53.0" width="25.0" height="456.0" fill="url(#gA)" stroke="#000" stroke-width="1.5"/>
<text x="986.5" y="62.3" font-size="23.8">15</text>
<line x1="967.0" y1="129.0" x2="973.0" y2="129.0" stroke="#000" stroke-width="1.50"/>
<text x="986.5" y="138.3" font-size="23.8">14</text>
<line x1="967.0" y1="205.0" x2="973.0" y2="205.0" stroke="#000" stroke-width="1.50"/>
<text x="986.5" y="214.3" font-size="23.8">13</text>
<line x1="967.0" y1="281.0" x2="973.0" y2="281.0" stroke="#000" stroke-width="1.50"/>
<text x="986.5" y="290.3" font-size="23.8">12</text>
<line x1="967.0" y1="357.0" x2="973.0" y2="357.0" stroke="#000" stroke-width="1.50"/>
<text x="986.5" y="366.3" font-size="23.8">11</text>
<line x1="967.0" y1="433.0" x2="973.0" y2="433.0" stroke="#000" stroke-width="1.50"/>
<text x="986.5" y="442.3" font-size="23.8">10</text>
<text x="986.5" y="518.3" font-size="23.8">9</text>
<text x="867.5" y="35.0" font-size="25.1">Revelle factor</text>
<rect x="1157.0" y="52.0" width="455.0" height="455.0" fill="none" stroke="#000" stroke-width="1.8"/>
<text x="1157.0" y="540.3" font-size="29.2" text-anchor="middle">0</text>
<line x1="1270.8" y1="507.0" x2="1270.8" y2="501.7" stroke="#000" stroke-width="1.60"/>
<line x1="1270.8" y1="52.0" x2="1270.8" y2="57.3" stroke="#000" stroke-width="1.60"/>
<text x="1270.8" y="540.3" font-size="29.2" text-anchor="middle">100</text>
<line x1="1384.5" y1="507.0" x2="1384.5" y2="501.7" stroke="#000" stroke-width="1.60"/>
<line x1="1384.5" y1="52.0" x2="1384.5" y2="57.3" stroke="#000" stroke-width="1.60"/>
<text x="1384.5" y="540.3" font-size="29.2" text-anchor="middle">200</text>
<line x1="1498.2" y1="507.0" x2="1498.2" y2="501.7" stroke="#000" stroke-width="1.60"/>
<line x1="1498.2" y1="52.0" x2="1498.2" y2="57.3" stroke="#000" stroke-width="1.60"/>
<text x="1498.2" y="540.3" font-size="29.2" text-anchor="middle">300</text>
<text x="1612.0" y="540.3" font-size="29.2" text-anchor="middle">400</text>
<text x="1143.5" y="517.3" font-size="29.2" text-anchor="end">5</text>
<line x1="1157.0" y1="355.3" x2="1162.3" y2="355.3" stroke="#000" stroke-width="1.60"/>
<line x1="1612.0" y1="355.3" x2="1606.7" y2="355.3" stroke="#000" stroke-width="1.60"/>
<text x="1143.5" y="365.6" font-size="29.2" text-anchor="end">10</text>
<line x1="1157.0" y1="203.7" x2="1162.3" y2="203.7" stroke="#000" stroke-width="1.60"/>
<line x1="1612.0" y1="203.7" x2="1606.7" y2="203.7" stroke="#000" stroke-width="1.60"/>
<text x="1143.5" y="214.0" font-size="29.2" text-anchor="end">15</text>
<text x="1143.5" y="62.3" font-size="29.2" text-anchor="end">20</text>
<g clip-path="url(#clipB)">
<clipPath id="clipB"><rect x="1157" y="52" width="455" height="455"/></clipPath>
<path d="M1230.7 148.2 L1250.2 148.2 L1240.4 131.2 Z" fill="#2e85f8"/><path d="M1239.0 145.4 L1258.5 145.4 L1248.8 128.4 Z" fill="#4367fd"/><path d="M1249.0 168.9 L1268.5 168.9 L1258.7 151.9 Z" fill="#347afd"/><path d="M1255.0 186.7 L1274.5 186.7 L1264.8 169.7 Z" fill="#347afd"/><path d="M1255.0 195.1 L1274.5 195.1 L1264.8 178.1 Z" fill="#347afd"/><path d="M1263.5 192.3 L1283.0 192.3 L1273.2 175.3 Z" fill="#2a92ee"/><path d="M1274.8 217.7 L1294.2 217.7 L1284.5 200.7 Z" fill="#3f6eff"/><path d="M1280.3 231.7 L1299.8 231.7 L1290.1 214.7 Z" fill="#3f6eff"/><path d="M1286.0 248.6 L1305.5 248.6 L1295.7 231.6 Z" fill="#3f6eff"/><path d="M1291.7 259.9 L1311.2 259.9 L1301.4 242.9 Z" fill="#347afd"/><path d="M1297.2 267.4 L1316.8 267.4 L1307.0 250.4 Z" fill="#2d8cf3"/><path d="M1302.0 273.0 L1321.5 273.0 L1311.7 256.0 Z" fill="#2a92ee"/><path d="M1310.3 278.7 L1329.8 278.7 L1320.1 261.7 Z" fill="#2a92ee"/><path d="M1314.2 288.0 L1333.7 288.0 L1323.9 271.0 Z" fill="#2895ec"/><path d="M1319.8 295.5 L1339.2 295.5 L1329.5 278.5 Z" fill="#259ce7"/><path d="M1329.2 301.2 L1348.7 301.2 L1338.9 284.2 Z" fill="#2d8cf3"/><path d="M1332.8 308.7 L1352.3 308.7 L1342.6 291.7 Z" fill="#2d8cf3"/><path d="M1336.7 314.3 L1356.2 314.3 L1346.4 297.3 Z" fill="#2d8cf3"/><path d="M1344.2 321.8 L1363.7 321.8 L1353.9 304.8 Z" fill="#2a92ee"/><path d="M1349.8 327.4 L1369.2 327.4 L1359.5 310.4 Z" fill="#12beb9"/><path d="M1355.5 336.8 L1375.0 336.8 L1365.2 319.8 Z" fill="#2d8cf3"/><path d="M1361.0 340.6 L1380.5 340.6 L1370.8 323.6 Z" fill="#2d8cf3"/><path d="M1366.7 346.2 L1386.2 346.2 L1376.4 329.2 Z" fill="#2d8cf3"/><path d="M1376.0 348.1 L1395.5 348.1 L1385.8 331.1 Z" fill="#05b6ce"/><path d="M1327.8 302.3 L1347.2 302.3 L1337.5 285.3 Z" fill="#2d8cf3"/><path d="M1335.2 309.8 L1354.8 309.8 L1345.0 292.8 Z" fill="#2d8cf3"/><path d="M1341.0 317.3 L1360.5 317.3 L1350.7 300.3 Z" fill="#2d8cf3"/><path d="M1346.5 322.9 L1366.0 322.9 L1356.3 305.9 Z" fill="#2d8cf3"/><path d="M1352.2 328.5 L1371.7 328.5 L1361.9 311.5 Z" fill="#2d8cf3"/><path d="M1357.8 336.0 L1377.3 336.0 L1367.6 319.0 Z" fill="#2d8cf3"/><path d="M1365.3 343.5 L1384.8 343.5 L1375.1 326.5 Z" fill="#2d8cf3"/><path d="M1371.0 349.2 L1390.5 349.2 L1380.7 332.2 Z" fill="#2895ec"/><path d="M1376.5 347.3 L1396.0 347.3 L1386.3 330.3 Z" fill="#04bbc2"/><path d="M1380.3 354.8 L1399.8 354.8 L1390.1 337.8 Z" fill="#05b6ce"/><path d="M1384.0 362.3 L1403.5 362.3 L1393.8 345.3 Z" fill="#2d8cf3"/><path d="M1395.3 364.2 L1414.8 364.2 L1405.1 347.2 Z" fill="#2d8cf3"/><path d="M1406.7 364.2 L1426.2 364.2 L1416.4 347.2 Z" fill="#2d8cf3"/><path d="M1380.3 369.8 L1399.8 369.8 L1390.1 352.8 Z" fill="#2d8cf3"/><path d="M1391.7 371.7 L1411.2 371.7 L1401.4 354.7 Z" fill="#48cb86"/><path d="M1402.8 377.3 L1422.3 377.3 L1412.6 360.3 Z" fill="#9fc942"/><path d="M1414.2 383.0 L1433.7 383.0 L1423.9 366.0 Z" fill="#eaba31"/><path d="M1425.3 388.6 L1444.8 388.6 L1435.1 371.6 Z" fill="#fad42e"/><path d="M1344.4 304.9 L1352.0 295.1 L1359.6 304.9 L1352.0 314.6 Z" fill="#f8f719"/><path d="M1345.0 305.0 L1352.6 295.2 L1360.2 305.0 L1352.6 314.8 Z" fill="#f8f817"/><path d="M1375.0 364.1 L1382.6 354.4 L1390.2 364.1 L1382.6 373.9 Z" fill="#f8f718"/><path d="M1388.1 350.1 L1395.7 340.4 L1403.3 350.1 L1395.7 359.9 Z" fill="#f8f917"/><path d="M1389.1 368.8 L1396.7 359.1 L1404.3 368.8 L1396.7 378.6 Z" fill="#f8f917"/><path d="M1393.8 355.7 L1401.4 345.9 L1409.0 355.7 L1401.4 365.4 Z" fill="#f7f61a"/><path d="M1399.4 372.6 L1407.0 362.9 L1414.6 372.6 L1407.0 382.4 Z" fill="#f7f51b"/><path d="M1405.0 361.3 L1412.6 351.6 L1420.2 361.3 L1412.6 371.1 Z" fill="#f9fa16"/><path d="M1408.8 374.5 L1416.4 364.8 L1424.0 374.5 L1416.4 384.2 Z" fill="#f8f719"/><path d="M1415.3 356.6 L1422.9 346.9 L1430.5 356.6 L1422.9 366.4 Z" fill="#f8f719"/><path d="M1414.4 382.0 L1422.0 372.2 L1429.6 382.0 L1422.0 391.8 Z" fill="#f9fb15"/><path d="M1420.0 368.8 L1427.6 359.1 L1435.2 368.8 L1427.6 378.6 Z" fill="#f8f818"/><path d="M1423.8 380.1 L1431.4 370.4 L1439.0 380.1 L1431.4 389.9 Z" fill="#f9fa16"/><path d="M1427.5 370.7 L1435.1 360.9 L1442.7 370.7 L1435.1 380.4 Z" fill="#f8f818"/><path d="M1431.3 383.8 L1438.9 374.1 L1446.5 383.8 L1438.9 393.6 Z" fill="#f8f917"/><path d="M1435.0 372.6 L1442.6 362.9 L1450.2 372.6 L1442.6 382.4 Z" fill="#f8f61a"/><path d="M1438.8 385.7 L1446.4 375.9 L1454.0 385.7 L1446.4 395.4 Z" fill="#f8f917"/><path d="M1442.6 376.3 L1450.2 366.6 L1457.8 376.3 L1450.2 386.1 Z" fill="#f9fa15"/><path d="M1446.3 387.6 L1453.9 377.9 L1461.5 387.6 L1453.9 397.4 Z" fill="#f8f818"/><path d="M1450.1 382.0 L1457.7 372.2 L1465.3 382.0 L1457.7 391.8 Z" fill="#f9f916"/><path d="M1453.8 391.4 L1461.4 381.6 L1469.0 391.4 L1461.4 401.1 Z" fill="#f8f917"/><path d="M1455.7 389.5 L1463.3 379.8 L1470.9 389.5 L1463.3 399.2 Z" fill="#f7f61a"/><path d="M1423.8 387.6 L1431.4 377.9 L1439.0 387.6 L1431.4 397.4 Z" fill="#f9fa16"/><path d="M1433.2 389.5 L1440.8 379.8 L1448.4 389.5 L1440.8 399.2 Z" fill="#f8f917"/><path d="M1440.7 390.4 L1448.3 380.6 L1455.9 390.4 L1448.3 400.1 Z" fill="#f8f719"/><path d="M1418.2 383.8 L1425.8 374.1 L1433.4 383.8 L1425.8 393.6 Z" fill="#f7f51b"/><path d="M1412.5 378.2 L1420.1 368.4 L1427.7 378.2 L1420.1 387.9 Z" fill="#f9fa15"/><path d="M1405.0 374.5 L1412.6 364.8 L1420.2 374.5 L1412.6 384.2 Z" fill="#f8f818"/><path d="M1397.5 367.0 L1405.1 357.2 L1412.7 367.0 L1405.1 376.8 Z" fill="#f9f916"/><path d="M1403.1 365.1 L1410.7 355.4 L1418.3 365.1 L1410.7 374.9 Z" fill="#f9fa15"/><path d="M1448.2 383.8 L1455.8 374.1 L1463.4 383.8 L1455.8 393.6 Z" fill="#f9f916"/><path d="M1436.9 378.2 L1444.5 368.4 L1452.1 378.2 L1444.5 387.9 Z" fill="#f9fa15"/><path d="M1429.4 376.3 L1437.0 366.6 L1444.6 376.3 L1437.0 386.1 Z" fill="#f8f718"/><path d="M1480.1 391.4 L1487.7 381.6 L1495.3 391.4 L1487.7 401.1 Z" fill="#f9fa16"/><path d="M1485.7 393.2 L1493.3 383.4 L1500.9 393.2 L1493.3 402.9 Z" fill="#f8f818"/><path d="M1479.1 397.9 L1486.7 388.1 L1494.3 397.9 L1486.7 407.6 Z" fill="#f9fb15"/><path d="M1497.0 403.6 L1504.6 393.9 L1512.2 403.6 L1504.6 413.4 Z" fill="#f9fa15"/><path d="M1540.1 407.3 L1547.7 397.6 L1555.3 407.3 L1547.7 417.1 Z" fill="#f7f61a"/><circle cx="1261.7" cy="205.8" r="7.4" fill="#4746eb"/><circle cx="1269.7" cy="216.7" r="7.4" fill="#4747eb"/><circle cx="1274.6" cy="226.6" r="7.4" fill="#406cfe"/><circle cx="1276.1" cy="238.0" r="7.4" fill="#9ec943"/><circle cx="1277.7" cy="245.2" r="7.4" fill="#9ac945"/><circle cx="1285.7" cy="248.8" r="7.4" fill="#28c3aa"/><circle cx="1287.8" cy="257.3" r="7.4" fill="#249ee6"/><circle cx="1300.3" cy="272.5" r="7.4" fill="#08b5d0"/><circle cx="1304.8" cy="279.9" r="7.4" fill="#4dcc82"/><circle cx="1301.4" cy="287.5" r="7.4" fill="#14b0d8"/><circle cx="1316.5" cy="296.3" r="7.4" fill="#8fcb4e"/><circle cx="1316.3" cy="302.2" r="7.4" fill="#c5c22a"/><circle cx="1320.8" cy="309.7" r="7.4" fill="#4fcc81"/><circle cx="1331.3" cy="322.3" r="7.4" fill="#3cc992"/><circle cx="1332.4" cy="318.0" r="7.4" fill="#fbd22f"/><circle cx="1339.5" cy="325.4" r="7.4" fill="#fdcc32"/><circle cx="1335.4" cy="325.9" r="7.4" fill="#36c899"/><circle cx="1349.5" cy="330.2" r="7.4" fill="#93ca4b"/><circle cx="1344.4" cy="339.4" r="7.4" fill="#8ecb4f"/><circle cx="1359.3" cy="336.6" r="7.4" fill="#f9d72c"/><circle cx="1363.5" cy="342.0" r="7.4" fill="#ecba32"/><circle cx="1371.8" cy="347.1" r="7.4" fill="#fdbd3d"/><circle cx="1380.7" cy="341.4" r="7.4" fill="#5ecd74"/><circle cx="1367.1" cy="349.6" r="7.4" fill="#82cc58"/><circle cx="1304.4" cy="288.2" r="7.4" fill="#d1bf27"/><circle cx="1312.3" cy="302.2" r="7.4" fill="#a6c83d"/><circle cx="1319.2" cy="303.5" r="7.4" fill="#9cc944"/><circle cx="1322.4" cy="313.6" r="7.4" fill="#2cc4a7"/><circle cx="1333.7" cy="320.1" r="7.4" fill="#f5e526"/><circle cx="1337.8" cy="319.7" r="7.4" fill="#fdce31"/><circle cx="1334.6" cy="328.7" r="7.4" fill="#11beb9"/><circle cx="1344.0" cy="331.3" r="7.4" fill="#70cd65"/><circle cx="1345.6" cy="331.1" r="7.4" fill="#a5c83d"/><circle cx="1352.5" cy="337.4" r="7.4" fill="#93ca4a"/><circle cx="1354.1" cy="341.5" r="7.4" fill="#eaba31"/><circle cx="1369.3" cy="349.9" r="7.4" fill="#edba33"/><circle cx="1379.8" cy="352.6" r="7.4" fill="#acc739"/><circle cx="1384.6" cy="353.4" r="7.4" fill="#1ec0b2"/><circle cx="1380.2" cy="357.9" r="7.4" fill="#e3bc2c"/><circle cx="1408.7" cy="369.5" r="7.4" fill="#fec338"/><circle cx="1418.2" cy="370.9" r="7.4" fill="#f9d62d"/><circle cx="1425.6" cy="374.9" r="7.4" fill="#f8f61a"/><circle cx="1432.1" cy="378.3" r="7.4" fill="#fcd130"/><circle cx="1436.0" cy="381.0" r="7.4" fill="#f9fb15"/><circle cx="1264.4" cy="202.0" r="7.4" fill="#484aee"/><circle cx="1271.9" cy="215.7" r="7.4" fill="#484ef1"/><circle cx="1275.1" cy="225.1" r="7.4" fill="#4755f6"/><circle cx="1274.5" cy="234.9" r="7.4" fill="#58cc79"/><circle cx="1280.7" cy="242.0" r="7.4" fill="#58cc79"/><circle cx="1282.6" cy="247.6" r="7.4" fill="#7acc5d"/><circle cx="1285.4" cy="249.5" r="7.4" fill="#04bbc2"/><circle cx="1290.1" cy="258.9" r="7.4" fill="#2d8cf3"/><circle cx="1297.6" cy="267.3" r="7.4" fill="#21c1b0"/><circle cx="1299.5" cy="272.0" r="7.4" fill="#12beb9"/><circle cx="1304.2" cy="276.7" r="7.4" fill="#8dcb4f"/><circle cx="1305.1" cy="285.2" r="7.4" fill="#05b6ce"/><circle cx="1307.9" cy="289.9" r="7.4" fill="#eaba31"/><circle cx="1310.7" cy="294.5" r="7.4" fill="#48cb86"/><circle cx="1314.5" cy="296.4" r="7.4" fill="#c8c129"/><circle cx="1320.1" cy="303.0" r="7.4" fill="#d0c027"/><circle cx="1323.9" cy="311.4" r="7.4" fill="#2fc5a2"/><circle cx="1329.5" cy="318.9" r="7.4" fill="#48cb86"/><circle cx="1333.3" cy="316.1" r="7.4" fill="#fdcc32"/><circle cx="1339.8" cy="321.8" r="7.4" fill="#fdcc32"/><circle cx="1335.1" cy="326.5" r="7.4" fill="#48cb86"/><circle cx="1342.6" cy="332.1" r="7.4" fill="#7acc5d"/><circle cx="1350.2" cy="332.1" r="7.4" fill="#9fc942"/><circle cx="1348.3" cy="337.7" r="7.4" fill="#7acc5d"/><circle cx="1359.5" cy="335.8" r="7.4" fill="#fdcc32"/><circle cx="1363.3" cy="339.6" r="7.4" fill="#fdcc32"/><circle cx="1371.7" cy="343.3" r="7.4" fill="#fdcc32"/><circle cx="1381.1" cy="341.5" r="7.4" fill="#71cd64"/><circle cx="1368.9" cy="348.0" r="7.4" fill="#9fc942"/><circle cx="1303.8" cy="290.0" r="7.4" fill="#c8c129"/><circle cx="1311.3" cy="295.6" r="7.4" fill="#9fc942"/><circle cx="1315.0" cy="299.4" r="7.4" fill="#c8c129"/><circle cx="1320.6" cy="301.3" r="7.4" fill="#d0c027"/><circle cx="1324.4" cy="310.6" r="7.4" fill="#2fc5a2"/><circle cx="1330.0" cy="316.3" r="7.4" fill="#48cb86"/><circle cx="1335.7" cy="318.2" r="7.4" fill="#fdcc32"/><circle cx="1340.4" cy="321.0" r="7.4" fill="#fdcc32"/><circle cx="1333.8" cy="325.7" r="7.4" fill="#2fc5a2"/><circle cx="1343.2" cy="329.4" r="7.4" fill="#48cb86"/><circle cx="1348.8" cy="331.3" r="7.4" fill="#7acc5d"/><circle cx="1354.4" cy="336.9" r="7.4" fill="#9fc942"/><circle cx="1352.6" cy="342.6" r="7.4" fill="#fdcc32"/><circle cx="1358.2" cy="335.0" r="7.4" fill="#fdcc32"/><circle cx="1363.8" cy="337.9" r="7.4" fill="#fdcc32"/><circle cx="1361.9" cy="344.4" r="7.4" fill="#fdcc32"/><circle cx="1367.6" cy="346.3" r="7.4" fill="#fec13a"/><circle cx="1372.3" cy="344.4" r="7.4" fill="#fec835"/><circle cx="1377.0" cy="350.1" r="7.4" fill="#58cc79"/><circle cx="1380.7" cy="352.9" r="7.4" fill="#c1c32d"/><circle cx="1388.2" cy="351.9" r="7.4" fill="#2fc5a2"/><circle cx="1382.6" cy="355.7" r="7.4" fill="#c1c32d"/><circle cx="1378.8" cy="355.7" r="7.4" fill="#b0c636"/><circle cx="1403.2" cy="361.3" r="7.4" fill="#fad42e"/><circle cx="1408.9" cy="364.1" r="7.4" fill="#fad42e"/><circle cx="1412.6" cy="367.0" r="7.4" fill="#f9d82c"/><circle cx="1418.2" cy="369.8" r="7.4" fill="#f7dc2a"/><circle cx="1422.0" cy="372.6" r="7.4" fill="#f7dc2a"/><circle cx="1427.6" cy="375.4" r="7.4" fill="#f6e028"/><circle cx="1431.4" cy="378.2" r="7.4" fill="#f5e427"/><circle cx="1435.1" cy="382.0" r="7.4" fill="#f6f020"/><circle cx="1438.9" cy="383.8" r="7.4" fill="#f7f51b"/><circle cx="1442.6" cy="383.8" r="7.4" fill="#f6f020"/>
</g>
<text x="1091.5" y="279.5" font-size="29.2" text-anchor="middle" transform="rotate(-90.0 1091.5 279.5)">Revelle factor</text>
<text x="1266" y="586.5" font-size="29.2">[CO<tspan font-size="20.5" dy="8.3">3</tspan><tspan font-size="20.5" dy="-21.1" dx="-10.6">2–</tspan><tspan dy="12.8">] (µmol kg</tspan><tspan font-size="20.5" dy="-10.5">–1</tspan><tspan dy="10.5">)</tspan></text>
<linearGradient id="gB" x1="0" y1="0" x2="0" y2="1"><stop offset="0.0000" stop-color="#f9fb15"/><stop offset="0.0312" stop-color="#f6ef20"/><stop offset="0.0625" stop-color="#f5e327"/><stop offset="0.0938" stop-color="#f9d62d"/><stop offset="0.1250" stop-color="#feca33"/><stop offset="0.1562" stop-color="#febe3c"/><stop offset="0.1875" stop-color="#f1ba37"/><stop offset="0.2188" stop-color="#debc2a"/><stop offset="0.2500" stop-color="#c8c129"/><stop offset="0.2812" stop-color="#afc637"/><stop offset="0.3125" stop-color="#94ca4a"/><stop offset="0.3438" stop-color="#77cc60"/><stop offset="0.3750" stop-color="#5ccc76"/><stop offset="0.4062" stop-color="#44ca8a"/><stop offset="0.4375" stop-color="#34c79c"/><stop offset="0.4688" stop-color="#28c2ab"/><stop offset="0.5000" stop-color="#12beb9"/><stop offset="0.5312" stop-color="#01b9c6"/><stop offset="0.5625" stop-color="#0cb3d3"/><stop offset="0.5938" stop-color="#1aacdd"/><stop offset="0.6250" stop-color="#21a3e3"/><stop offset="0.6562" stop-color="#269ae9"/><stop offset="0.6875" stop-color="#2c90f0"/><stop offset="0.7188" stop-color="#2e85f8"/><stop offset="0.7500" stop-color="#347afd"/><stop offset="0.7812" stop-color="#3f6efe"/><stop offset="0.8125" stop-color="#4562fc"/><stop offset="0.8438" stop-color="#4757f7"/><stop offset="0.8750" stop-color="#484cef"/><stop offset="0.9062" stop-color="#4741e5"/><stop offset="0.9375" stop-color="#4536d5"/><stop offset="0.9688" stop-color="#422ebf"/><stop offset="1.0000" stop-color="#3e26a8"/></linearGradient>
<rect x="1642.5" y="52.5" width="18.0" height="454.5" fill="url(#gB)" stroke="#000" stroke-width="1.5"/>
<text x="1673.0" y="61.8" font-size="23.8">30</text>
<line x1="1654.5" y1="143.4" x2="1660.5" y2="143.4" stroke="#000" stroke-width="1.50"/>
<text x="1673.0" y="152.7" font-size="23.8">25</text>
<line x1="1654.5" y1="234.3" x2="1660.5" y2="234.3" stroke="#000" stroke-width="1.50"/>
<text x="1673.0" y="243.6" font-size="23.8">20</text>
<line x1="1654.5" y1="325.2" x2="1660.5" y2="325.2" stroke="#000" stroke-width="1.50"/>
<text x="1673.0" y="334.5" font-size="23.8">15</text>
<line x1="1654.5" y1="416.1" x2="1660.5" y2="416.1" stroke="#000" stroke-width="1.50"/>
<text x="1673.0" y="425.4" font-size="23.8">10</text>
<text x="1673.0" y="516.3" font-size="23.8">5</text>
<text x="1628.0" y="35.0" font-size="25.1">SST</text>
<rect x="1387.0" y="61.0" width="205.5" height="84.5" fill="#fff" stroke="#000" stroke-width="1.5"/>
<path d="M1398.2 81.8 L1417.8 81.8 L1408.0 65.2 Z" fill="#000"/>
<text x="1427.5" y="81.3" font-size="20.9">ECOA (2015)</text>
<path d="M1400.2 103.0 L1408.0 93.0 L1415.8 103.0 L1408.0 113.0 Z" fill="#000"/>
<text x="1427.5" y="110.0" font-size="20.9">GOMECC (2017)</text>
<circle cx="1408.0" cy="131.0" r="6.5" fill="#000"/>
<text x="1427.5" y="138.3" font-size="20.9">WCOA (2016)</text>
<rect x="89.5" y="679.5" width="640.5" height="456.5" fill="none" stroke="#000" stroke-width="1.8"/>
<text x="89.5" y="1169.5" font-size="29.2" text-anchor="middle">5</text>
<line x1="196.1" y1="1136.0" x2="196.1" y2="1129.3" stroke="#000" stroke-width="1.60"/>
<line x1="196.1" y1="679.5" x2="196.1" y2="686.2" stroke="#000" stroke-width="1.60"/>
<text x="196.1" y="1169.5" font-size="29.2" text-anchor="middle">10</text>
<line x1="302.7" y1="1136.0" x2="302.7" y2="1129.3" stroke="#000" stroke-width="1.60"/>
<line x1="302.7" y1="679.5" x2="302.7" y2="686.2" stroke="#000" stroke-width="1.60"/>
<text x="302.7" y="1169.5" font-size="29.2" text-anchor="middle">15</text>
<line x1="409.3" y1="1136.0" x2="409.3" y2="1129.3" stroke="#000" stroke-width="1.60"/>
<line x1="409.3" y1="679.5" x2="409.3" y2="686.2" stroke="#000" stroke-width="1.60"/>
<text x="409.3" y="1169.5" font-size="29.2" text-anchor="middle">20</text>
<line x1="515.9" y1="1136.0" x2="515.9" y2="1129.3" stroke="#000" stroke-width="1.60"/>
<line x1="515.9" y1="679.5" x2="515.9" y2="686.2" stroke="#000" stroke-width="1.60"/>
<text x="515.9" y="1169.5" font-size="29.2" text-anchor="middle">25</text>
<line x1="622.5" y1="1136.0" x2="622.5" y2="1129.3" stroke="#000" stroke-width="1.60"/>
<line x1="622.5" y1="679.5" x2="622.5" y2="686.2" stroke="#000" stroke-width="1.60"/>
<text x="622.5" y="1169.5" font-size="29.2" text-anchor="middle">30</text>
<text x="729.1" y="1169.5" font-size="29.2" text-anchor="middle">35</text>
<text x="75.0" y="1146.3" font-size="29.2" text-anchor="end">8</text>
<line x1="89.5" y1="1044.7" x2="96.2" y2="1044.7" stroke="#000" stroke-width="1.60"/>
<line x1="730.0" y1="1044.7" x2="723.3" y2="1044.7" stroke="#000" stroke-width="1.60"/>
<text x="75.0" y="1055.0" font-size="29.2" text-anchor="end">10</text>
<line x1="89.5" y1="953.4" x2="96.2" y2="953.4" stroke="#000" stroke-width="1.60"/>
<line x1="730.0" y1="953.4" x2="723.3" y2="953.4" stroke="#000" stroke-width="1.60"/>
<text x="75.0" y="963.7" font-size="29.2" text-anchor="end">12</text>
<line x1="89.5" y1="862.1" x2="96.2" y2="862.1" stroke="#000" stroke-width="1.60"/>
<line x1="730.0" y1="862.1" x2="723.3" y2="862.1" stroke="#000" stroke-width="1.60"/>
<text x="75.0" y="872.4" font-size="29.2" text-anchor="end">14</text>
<line x1="89.5" y1="770.8" x2="96.2" y2="770.8" stroke="#000" stroke-width="1.60"/>
<line x1="730.0" y1="770.8" x2="723.3" y2="770.8" stroke="#000" stroke-width="1.60"/>
<text x="75.0" y="781.1" font-size="29.2" text-anchor="end">16</text>
<text x="75.0" y="689.8" font-size="29.2" text-anchor="end">18</text>
<circle cx="129.4" cy="814.2" r="6.1" fill="#cbcbcb"/><circle cx="155.3" cy="835.8" r="6.1" fill="#cbcbcb"/><circle cx="157.0" cy="848.4" r="6.1" fill="#cbcbcb"/><circle cx="182.3" cy="859.6" r="6.1" fill="#cbcbcb"/><circle cx="180.5" cy="866.4" r="6.1" fill="#cbcbcb"/><circle cx="226.1" cy="868.1" r="6.1" fill="#cbcbcb"/><circle cx="236.4" cy="873.3" r="6.1" fill="#cbcbcb"/><circle cx="243.0" cy="871.8" r="6.1" fill="#cbcbcb"/><circle cx="234.5" cy="876.7" r="6.1" fill="#cbcbcb"/><circle cx="342.1" cy="884.6" r="6.1" fill="#cbcbcb"/><circle cx="407.2" cy="888.3" r="6.1" fill="#cbcbcb"/><circle cx="229.5" cy="897.2" r="6.1" fill="#cbcbcb"/><circle cx="193.6" cy="905.7" r="6.1" fill="#cbcbcb"/><circle cx="230.4" cy="911.7" r="6.1" fill="#cbcbcb"/><circle cx="240.2" cy="912.8" r="6.1" fill="#cbcbcb"/><circle cx="243.5" cy="919.7" r="6.1" fill="#cbcbcb"/><circle cx="371.0" cy="910.4" r="6.1" fill="#cbcbcb"/><circle cx="378.1" cy="912.2" r="6.1" fill="#cbcbcb"/><circle cx="386.9" cy="912.8" r="6.1" fill="#cbcbcb"/><circle cx="357.1" cy="919.2" r="6.1" fill="#cbcbcb"/><circle cx="353.7" cy="924.4" r="6.1" fill="#cbcbcb"/><circle cx="343.9" cy="934.8" r="6.1" fill="#cbcbcb"/><circle cx="359.3" cy="936.6" r="6.1" fill="#cbcbcb"/><circle cx="224.6" cy="943.2" r="6.1" fill="#cbcbcb"/><circle cx="247.1" cy="947.0" r="6.1" fill="#cbcbcb"/><circle cx="296.5" cy="943.8" r="6.1" fill="#cbcbcb"/><circle cx="285.2" cy="946.0" r="6.1" fill="#cbcbcb"/><circle cx="383.7" cy="946.0" r="6.1" fill="#cbcbcb"/><circle cx="270.2" cy="955.4" r="6.1" fill="#cbcbcb"/><circle cx="266.4" cy="954.5" r="6.1" fill="#cbcbcb"/><circle cx="242.0" cy="957.3" r="6.1" fill="#cbcbcb"/><circle cx="381.9" cy="955.4" r="6.1" fill="#cbcbcb"/><circle cx="388.4" cy="957.3" r="6.1" fill="#cbcbcb"/><circle cx="397.8" cy="958.2" r="6.1" fill="#cbcbcb"/><circle cx="365.9" cy="962.0" r="6.1" fill="#cbcbcb"/><circle cx="343.4" cy="965.7" r="6.1" fill="#cbcbcb"/><circle cx="303.4" cy="963.3" r="6.1" fill="#cbcbcb"/><circle cx="356.5" cy="969.5" r="6.1" fill="#cbcbcb"/><circle cx="195.5" cy="973.6" r="6.1" fill="#cbcbcb"/><circle cx="248.2" cy="975.1" r="6.1" fill="#cbcbcb"/><circle cx="259.9" cy="977.4" r="6.1" fill="#cbcbcb"/><circle cx="310.2" cy="979.4" r="6.1" fill="#cbcbcb"/><circle cx="388.4" cy="975.1" r="6.1" fill="#cbcbcb"/><circle cx="397.8" cy="978.9" r="6.1" fill="#cbcbcb"/><circle cx="407.2" cy="978.9" r="6.1" fill="#cbcbcb"/><circle cx="394.1" cy="987.3" r="6.1" fill="#cbcbcb"/><circle cx="390.3" cy="990.1" r="6.1" fill="#cbcbcb"/><circle cx="381.9" cy="991.1" r="6.1" fill="#cbcbcb"/><circle cx="409.1" cy="967.6" r="6.1" fill="#cbcbcb"/><circle cx="401.6" cy="999.5" r="6.1" fill="#cbcbcb"/><circle cx="395.9" cy="1004.2" r="6.1" fill="#cbcbcb"/><circle cx="407.2" cy="1009.8" r="6.1" fill="#cbcbcb"/><circle cx="416.0" cy="878.4" r="6.1" fill="#cbcbcb"/><circle cx="418.8" cy="881.6" r="6.1" fill="#cbcbcb"/><circle cx="412.2" cy="886.0" r="6.1" fill="#cbcbcb"/><circle cx="407.9" cy="888.8" r="6.1" fill="#cbcbcb"/><circle cx="443.2" cy="928.2" r="6.1" fill="#cbcbcb"/><circle cx="471.7" cy="941.9" r="6.1" fill="#cbcbcb"/><circle cx="470.8" cy="956.9" r="6.1" fill="#cbcbcb"/><circle cx="477.5" cy="963.8" r="6.1" fill="#cbcbcb"/><circle cx="479.2" cy="972.7" r="6.1" fill="#cbcbcb"/><circle cx="415.0" cy="967.6" r="6.1" fill="#cbcbcb"/><circle cx="400.0" cy="958.2" r="6.1" fill="#cbcbcb"/><circle cx="408.4" cy="978.9" r="6.1" fill="#cbcbcb"/><circle cx="424.4" cy="977.5" r="6.1" fill="#cbcbcb"/><circle cx="400.0" cy="978.9" r="6.1" fill="#cbcbcb"/><circle cx="439.4" cy="983.9" r="6.1" fill="#cbcbcb"/><circle cx="437.5" cy="987.3" r="6.1" fill="#cbcbcb"/><circle cx="470.4" cy="991.6" r="6.1" fill="#cbcbcb"/><circle cx="494.8" cy="998.0" r="6.1" fill="#cbcbcb"/><circle cx="403.8" cy="999.5" r="6.1" fill="#cbcbcb"/><circle cx="400.0" cy="1001.4" r="6.1" fill="#cbcbcb"/><circle cx="409.4" cy="1010.8" r="6.1" fill="#cbcbcb"/><circle cx="442.8" cy="1002.9" r="6.1" fill="#cbcbcb"/><circle cx="448.4" cy="1004.2" r="6.1" fill="#cbcbcb"/><circle cx="439.4" cy="1014.5" r="6.1" fill="#cbcbcb"/><circle cx="456.3" cy="1012.6" r="6.1" fill="#cbcbcb"/><circle cx="446.0" cy="1020.2" r="6.1" fill="#cbcbcb"/><circle cx="453.1" cy="1024.3" r="6.1" fill="#cbcbcb"/><circle cx="436.6" cy="1027.3" r="6.1" fill="#cbcbcb"/><circle cx="475.1" cy="1012.6" r="6.1" fill="#cbcbcb"/><circle cx="476.0" cy="1016.4" r="6.1" fill="#cbcbcb"/><circle cx="477.0" cy="1023.0" r="6.1" fill="#cbcbcb"/><circle cx="486.7" cy="1022.6" r="6.1" fill="#cbcbcb"/><circle cx="469.8" cy="1029.5" r="6.1" fill="#cbcbcb"/><circle cx="503.2" cy="1010.8" r="6.1" fill="#cbcbcb"/><circle cx="503.2" cy="1020.2" r="6.1" fill="#cbcbcb"/><circle cx="502.9" cy="1029.5" r="6.1" fill="#cbcbcb"/><circle cx="486.7" cy="1037.0" r="6.1" fill="#cbcbcb"/><circle cx="487.8" cy="1040.4" r="6.1" fill="#cbcbcb"/><circle cx="466.6" cy="1045.9" r="6.1" fill="#cbcbcb"/><circle cx="468.5" cy="1059.6" r="6.1" fill="#cbcbcb"/><circle cx="474.1" cy="1061.8" r="6.1" fill="#cbcbcb"/><circle cx="507.9" cy="977.0" r="6.1" fill="#cbcbcb"/><circle cx="504.2" cy="983.6" r="6.1" fill="#cbcbcb"/><circle cx="515.4" cy="980.7" r="6.1" fill="#cbcbcb"/><circle cx="520.1" cy="985.4" r="6.1" fill="#cbcbcb"/><circle cx="529.5" cy="987.3" r="6.1" fill="#cbcbcb"/><circle cx="513.6" cy="992.9" r="6.1" fill="#cbcbcb"/><circle cx="522.0" cy="992.0" r="6.1" fill="#cbcbcb"/><circle cx="529.5" cy="992.9" r="6.1" fill="#cbcbcb"/><circle cx="538.5" cy="1001.0" r="6.1" fill="#cbcbcb"/><circle cx="522.9" cy="1005.5" r="6.1" fill="#cbcbcb"/><circle cx="529.5" cy="1005.1" r="6.1" fill="#cbcbcb"/><circle cx="535.1" cy="1009.8" r="6.1" fill="#cbcbcb"/><circle cx="538.9" cy="1015.5" r="6.1" fill="#cbcbcb"/><circle cx="543.6" cy="1017.9" r="6.1" fill="#cbcbcb"/><circle cx="516.4" cy="1022.0" r="6.1" fill="#cbcbcb"/><circle cx="521.6" cy="1022.0" r="6.1" fill="#cbcbcb"/><circle cx="513.6" cy="1026.7" r="6.1" fill="#cbcbcb"/><circle cx="536.6" cy="1029.2" r="6.1" fill="#cbcbcb"/><circle cx="522.4" cy="1041.2" r="6.1" fill="#cbcbcb"/><circle cx="534.2" cy="1053.9" r="6.1" fill="#cbcbcb"/><circle cx="539.8" cy="1053.0" r="6.1" fill="#cbcbcb"/><circle cx="535.1" cy="1059.6" r="6.1" fill="#cbcbcb"/><circle cx="542.6" cy="1057.7" r="6.1" fill="#cbcbcb"/><circle cx="552.0" cy="1059.6" r="6.1" fill="#cbcbcb"/><circle cx="535.1" cy="1067.1" r="6.1" fill="#cbcbcb"/><circle cx="540.8" cy="1069.9" r="6.1" fill="#cbcbcb"/><circle cx="548.3" cy="1069.9" r="6.1" fill="#cbcbcb"/><circle cx="555.8" cy="1065.2" r="6.1" fill="#cbcbcb"/><circle cx="563.3" cy="1063.3" r="6.1" fill="#cbcbcb"/><circle cx="559.5" cy="1070.8" r="6.1" fill="#cbcbcb"/><circle cx="568.9" cy="1068.9" r="6.1" fill="#cbcbcb"/><circle cx="572.7" cy="1076.5" r="6.1" fill="#cbcbcb"/><circle cx="563.3" cy="1084.3" r="6.1" fill="#cbcbcb"/><circle cx="575.5" cy="1080.2" r="6.1" fill="#cbcbcb"/><circle cx="580.6" cy="1090.0" r="6.1" fill="#cbcbcb"/><circle cx="587.7" cy="1082.1" r="6.1" fill="#cbcbcb"/><circle cx="595.2" cy="1087.7" r="6.1" fill="#cbcbcb"/><circle cx="416.3" cy="863.2" r="6.1" fill="#cbcbcb"/><circle cx="550.9" cy="1066.3" r="6.1" fill="#cbcbcb"/><circle cx="571.7" cy="1069.4" r="6.1" fill="#cbcbcb"/><circle cx="553.3" cy="1067.5" r="6.1" fill="#cbcbcb"/><circle cx="539.1" cy="1062.3" r="6.1" fill="#cbcbcb"/><circle cx="558.7" cy="1073.4" r="6.1" fill="#cbcbcb"/><circle cx="535.1" cy="1056.7" r="6.1" fill="#cbcbcb"/><circle cx="535.0" cy="1067.8" r="6.1" fill="#cbcbcb"/><circle cx="561.5" cy="1057.5" r="6.1" fill="#cbcbcb"/><circle cx="574.2" cy="1081.0" r="6.1" fill="#cbcbcb"/><circle cx="559.8" cy="1069.7" r="6.1" fill="#cbcbcb"/><circle cx="537.9" cy="1051.1" r="6.1" fill="#cbcbcb"/><circle cx="554.2" cy="1056.1" r="6.1" fill="#cbcbcb"/><circle cx="539.4" cy="1056.4" r="6.1" fill="#cbcbcb"/><circle cx="532.3" cy="1059.5" r="6.1" fill="#cbcbcb"/><circle cx="550.4" cy="1072.4" r="6.1" fill="#cbcbcb"/><circle cx="553.8" cy="1068.8" r="6.1" fill="#cbcbcb"/><circle cx="553.0" cy="1069.1" r="6.1" fill="#cbcbcb"/><circle cx="551.1" cy="1060.2" r="6.1" fill="#cbcbcb"/><circle cx="574.9" cy="1081.9" r="6.1" fill="#cbcbcb"/><circle cx="568.0" cy="1073.8" r="6.1" fill="#cbcbcb"/><circle cx="544.9" cy="1057.5" r="6.1" fill="#cbcbcb"/><circle cx="543.7" cy="1053.7" r="6.1" fill="#cbcbcb"/><circle cx="564.7" cy="1066.2" r="6.1" fill="#cbcbcb"/><circle cx="568.2" cy="1066.8" r="6.1" fill="#cbcbcb"/><circle cx="573.2" cy="1078.2" r="6.1" fill="#cbcbcb"/><circle cx="531.0" cy="1053.6" r="6.1" fill="#cbcbcb"/><circle cx="571.1" cy="1069.4" r="6.1" fill="#cbcbcb"/><circle cx="574.1" cy="1068.5" r="6.1" fill="#cbcbcb"/><circle cx="534.2" cy="1063.7" r="6.1" fill="#cbcbcb"/><circle cx="565.3" cy="1063.5" r="6.1" fill="#cbcbcb"/><path d="M493.0 1042.3 L499.1 1034.0 L505.2 1042.3 L499.1 1050.5 Z" fill="#cbcbcb"/><path d="M517.8 1049.2 L523.9 1041.0 L530.0 1049.2 L523.9 1057.5 Z" fill="#cbcbcb"/><path d="M606.4 969.1 L612.5 960.9 L618.6 969.1 L612.5 977.4 Z" fill="#cbcbcb"/><path d="M569.8 1046.8 L575.9 1038.5 L582.0 1046.8 L575.9 1055.0 Z" fill="#cbcbcb"/><path d="M612.6 1040.8 L618.7 1032.5 L624.8 1040.8 L618.7 1049.0 Z" fill="#cbcbcb"/><path d="M569.8 1047.0 L575.9 1038.8 L582.0 1047.0 L575.9 1055.2 Z" fill="#cbcbcb"/><path d="M612.5 1040.9 L618.6 1032.7 L624.7 1040.9 L618.6 1049.2 Z" fill="#cbcbcb"/><path d="M631.7 1059.7 L637.8 1051.5 L643.9 1059.7 L637.8 1068.0 Z" fill="#cbcbcb"/><path d="M610.6 1109.3 L616.7 1101.0 L622.8 1109.3 L616.7 1117.5 Z" fill="#cbcbcb"/><path d="M619.5 1117.8 L625.6 1109.5 L631.7 1117.8 L625.6 1126.0 Z" fill="#cbcbcb"/><path d="M617.6 1103.7 L623.7 1095.5 L629.8 1103.7 L623.7 1112.0 Z" fill="#cbcbcb"/><path d="M623.2 1100.0 L629.3 1091.8 L635.4 1100.0 L629.3 1108.2 Z" fill="#cbcbcb"/><path d="M612.9 1099.0 L619.0 1090.8 L625.1 1099.0 L619.0 1107.2 Z" fill="#cbcbcb"/><path d="M563.2 1068.6 L569.3 1060.4 L575.4 1068.6 L569.3 1076.9 Z" fill="#cbcbcb"/><path d="M636.9 1082.7 L643.0 1074.4 L649.1 1082.7 L643.0 1090.9 Z" fill="#cbcbcb"/><path d="M565.8 1066.4 L571.9 1058.2 L578.0 1066.4 L571.9 1074.7 Z" fill="#cbcbcb"/><path d="M564.4 1061.6 L570.5 1053.3 L576.6 1061.6 L570.5 1069.8 Z" fill="#cbcbcb"/><path d="M622.8 1062.4 L628.9 1054.1 L635.0 1062.4 L628.9 1070.6 Z" fill="#cbcbcb"/><path d="M602.9 1074.3 L609.0 1066.1 L615.1 1074.3 L609.0 1082.6 Z" fill="#cbcbcb"/><path d="M571.9 1079.0 L578.0 1070.8 L584.1 1079.0 L578.0 1087.3 Z" fill="#cbcbcb"/><path d="M566.9 1076.7 L573.0 1068.5 L579.1 1076.7 L573.0 1085.0 Z" fill="#cbcbcb"/><path d="M565.7 1070.9 L571.8 1062.7 L577.9 1070.9 L571.8 1079.2 Z" fill="#cbcbcb"/><path d="M573.8 1067.0 L579.9 1058.8 L586.0 1067.0 L579.9 1075.3 Z" fill="#cbcbcb"/><path d="M637.5 1083.7 L643.6 1075.4 L649.7 1083.7 L643.6 1091.9 Z" fill="#cbcbcb"/><path d="M581.4 1083.0 L587.5 1074.8 L593.6 1083.0 L587.5 1091.3 Z" fill="#cbcbcb"/><path d="M573.6 1070.3 L579.7 1062.0 L585.8 1070.3 L579.7 1078.5 Z" fill="#cbcbcb"/><path d="M627.7 1079.1 L633.8 1070.9 L639.9 1079.1 L633.8 1087.4 Z" fill="#cbcbcb"/><path d="M564.3 1085.7 L570.4 1077.5 L576.5 1085.7 L570.4 1094.0 Z" fill="#cbcbcb"/><path d="M573.8 1066.7 L579.9 1058.5 L586.0 1066.7 L579.9 1075.0 Z" fill="#cbcbcb"/><path d="M620.8 1067.8 L626.9 1059.6 L633.0 1067.8 L626.9 1076.1 Z" fill="#cbcbcb"/><path d="M580.8 1061.9 L586.9 1053.7 L593.0 1061.9 L586.9 1070.2 Z" fill="#cbcbcb"/><path d="M563.5 1075.2 L569.6 1066.9 L575.7 1075.2 L569.6 1083.4 Z" fill="#cbcbcb"/><path d="M576.3 1075.6 L582.4 1067.4 L588.5 1075.6 L582.4 1083.9 Z" fill="#cbcbcb"/><path d="M587.1 1071.8 L593.2 1063.5 L599.3 1071.8 L593.2 1080.0 Z" fill="#cbcbcb"/><path d="M636.5 1076.6 L642.6 1068.4 L648.7 1076.6 L642.6 1084.9 Z" fill="#cbcbcb"/><path d="M604.2 1087.2 L610.3 1078.9 L616.4 1087.2 L610.3 1095.4 Z" fill="#cbcbcb"/><path d="M571.3 1064.0 L577.4 1055.8 L583.5 1064.0 L577.4 1072.3 Z" fill="#cbcbcb"/><path d="M632.2 1085.4 L638.3 1077.2 L644.4 1085.4 L638.3 1093.7 Z" fill="#cbcbcb"/><path d="M576.9 1064.9 L583.0 1056.7 L589.1 1064.9 L583.0 1073.2 Z" fill="#cbcbcb"/><path d="M618.0 1089.9 L624.1 1081.6 L630.2 1089.9 L624.1 1098.1 Z" fill="#cbcbcb"/><path d="M572.4 1084.7 L578.5 1076.5 L584.6 1084.7 L578.5 1093.0 Z" fill="#cbcbcb"/><path d="M630.0 1077.7 L636.1 1069.5 L642.2 1077.7 L636.1 1086.0 Z" fill="#cbcbcb"/><path d="M591.3 1062.7 L597.4 1054.4 L603.5 1062.7 L597.4 1070.9 Z" fill="#cbcbcb"/><path d="M559.2 1085.0 L565.3 1076.8 L571.4 1085.0 L565.3 1093.3 Z" fill="#cbcbcb"/><path d="M575.9 1078.3 L582.0 1070.1 L588.1 1078.3 L582.0 1086.6 Z" fill="#cbcbcb"/><path d="M577.5 1081.4 L583.6 1073.2 L589.7 1081.4 L583.6 1089.7 Z" fill="#cbcbcb"/><path d="M606.0 1066.6 L612.1 1058.3 L618.2 1066.6 L612.1 1074.8 Z" fill="#cbcbcb"/><path d="M570.6 1078.7 L576.7 1070.5 L582.8 1078.7 L576.7 1087.0 Z" fill="#cbcbcb"/><path d="M561.7 1065.9 L567.8 1057.7 L573.9 1065.9 L567.8 1074.2 Z" fill="#cbcbcb"/><path d="M602.9 1087.3 L609.0 1079.0 L615.1 1087.3 L609.0 1095.5 Z" fill="#cbcbcb"/><path d="M607.5 1066.1 L613.6 1057.8 L619.7 1066.1 L613.6 1074.3 Z" fill="#cbcbcb"/><path d="M633.0 1063.3 L639.1 1055.1 L645.2 1063.3 L639.1 1071.6 Z" fill="#cbcbcb"/><path d="M557.3 1067.0 L563.4 1058.7 L569.5 1067.0 L563.4 1075.2 Z" fill="#cbcbcb"/><path d="M593.3 1061.6 L599.4 1053.3 L605.5 1061.6 L599.4 1069.8 Z" fill="#cbcbcb"/><path d="M570.7 1069.6 L576.8 1061.3 L582.9 1069.6 L576.8 1077.8 Z" fill="#cbcbcb"/><path d="M604.0 1060.7 L610.1 1052.5 L616.2 1060.7 L610.1 1069.0 Z" fill="#cbcbcb"/><path d="M586.3 1083.2 L592.4 1074.9 L598.5 1083.2 L592.4 1091.4 Z" fill="#cbcbcb"/><path d="M638.3 1080.5 L644.4 1072.2 L650.5 1080.5 L644.4 1088.7 Z" fill="#cbcbcb"/><path d="M614.0 1077.0 L620.1 1068.8 L626.2 1077.0 L620.1 1085.3 Z" fill="#cbcbcb"/><path d="M567.7 1060.9 L573.8 1052.7 L579.9 1060.9 L573.8 1069.2 Z" fill="#cbcbcb"/><path d="M557.4 1083.7 L563.5 1075.4 L569.6 1083.7 L563.5 1091.9 Z" fill="#cbcbcb"/><path d="M614.8 1090.7 L620.9 1082.4 L627.0 1090.7 L620.9 1098.9 Z" fill="#cbcbcb"/><path d="M557.7 1076.5 L563.8 1068.3 L569.9 1076.5 L563.8 1084.8 Z" fill="#cbcbcb"/><path d="M596.4 1083.4 L602.5 1075.1 L608.6 1083.4 L602.5 1091.6 Z" fill="#cbcbcb"/><path d="M582.7 1086.0 L588.8 1077.7 L594.9 1086.0 L588.8 1094.2 Z" fill="#cbcbcb"/><path d="M562.2 1074.2 L568.3 1065.9 L574.4 1074.2 L568.3 1082.4 Z" fill="#cbcbcb"/><path d="M617.8 1088.4 L623.9 1080.2 L630.0 1088.4 L623.9 1096.7 Z" fill="#cbcbcb"/><path d="M617.8 1081.3 L623.9 1073.1 L630.0 1081.3 L623.9 1089.6 Z" fill="#cbcbcb"/><path d="M622.5 1088.9 L628.6 1080.7 L634.7 1088.9 L628.6 1097.2 Z" fill="#cbcbcb"/><path d="M585.5 1077.8 L591.6 1069.6 L597.7 1077.8 L591.6 1086.1 Z" fill="#cbcbcb"/><path d="M631.6 1087.4 L637.7 1079.1 L643.8 1087.4 L637.7 1095.6 Z" fill="#cbcbcb"/><path d="M590.9 1080.6 L597.0 1072.3 L603.1 1080.6 L597.0 1088.8 Z" fill="#cbcbcb"/><path d="M628.4 1076.6 L634.5 1068.4 L640.6 1076.6 L634.5 1084.9 Z" fill="#cbcbcb"/><path d="M608.4 1069.8 L614.5 1061.5 L620.6 1069.8 L614.5 1078.0 Z" fill="#cbcbcb"/><path d="M604.8 1077.9 L610.9 1069.7 L617.0 1077.9 L610.9 1086.2 Z" fill="#cbcbcb"/><path d="M562.6 1076.6 L568.7 1068.4 L574.8 1076.6 L568.7 1084.9 Z" fill="#cbcbcb"/><path d="M639.3 1085.4 L645.4 1077.1 L651.5 1085.4 L645.4 1093.6 Z" fill="#cbcbcb"/><path d="M617.1 1070.0 L623.2 1061.7 L629.3 1070.0 L623.2 1078.2 Z" fill="#cbcbcb"/><path d="M617.6 1076.9 L623.7 1068.7 L629.8 1076.9 L623.7 1085.2 Z" fill="#cbcbcb"/><path d="M592.9 1081.8 L599.0 1073.5 L605.1 1081.8 L599.0 1090.0 Z" fill="#cbcbcb"/><path d="M562.9 1079.5 L569.0 1071.3 L575.1 1079.5 L569.0 1087.8 Z" fill="#cbcbcb"/><path d="M558.4 1075.6 L564.5 1067.4 L570.6 1075.6 L564.5 1083.9 Z" fill="#cbcbcb"/><path d="M596.3 1067.4 L602.4 1059.1 L608.5 1067.4 L602.4 1075.6 Z" fill="#cbcbcb"/><path d="M614.6 1073.9 L620.7 1065.7 L626.8 1073.9 L620.7 1082.2 Z" fill="#cbcbcb"/><path d="M607.5 1089.1 L613.6 1080.9 L619.7 1089.1 L613.6 1097.4 Z" fill="#cbcbcb"/><path d="M577.4 1060.3 L583.5 1052.0 L589.6 1060.3 L583.5 1068.5 Z" fill="#cbcbcb"/><path d="M581.2 1077.6 L587.3 1069.4 L593.4 1077.6 L587.3 1085.9 Z" fill="#cbcbcb"/><path d="M572.9 1064.4 L579.0 1056.2 L585.1 1064.4 L579.0 1072.7 Z" fill="#cbcbcb"/><path d="M632.0 1079.8 L638.1 1071.5 L644.2 1079.8 L638.1 1088.0 Z" fill="#cbcbcb"/><path d="M593.0 1083.2 L599.1 1074.9 L605.2 1083.2 L599.1 1091.4 Z" fill="#cbcbcb"/><path d="M583.4 1077.3 L589.5 1069.1 L595.6 1077.3 L589.5 1085.6 Z" fill="#cbcbcb"/><path d="M572.6 1071.2 L578.7 1063.0 L584.8 1071.2 L578.7 1079.5 Z" fill="#cbcbcb"/><path d="M623.6 1088.9 L629.7 1080.7 L635.8 1088.9 L629.7 1097.2 Z" fill="#cbcbcb"/><path d="M629.8 1069.8 L635.9 1061.6 L642.0 1069.8 L635.9 1078.1 Z" fill="#cbcbcb"/><path d="M604.9 1067.4 L611.0 1059.1 L617.1 1067.4 L611.0 1075.6 Z" fill="#cbcbcb"/><path d="M567.3 1072.9 L573.4 1064.7 L579.5 1072.9 L573.4 1081.2 Z" fill="#cbcbcb"/><path d="M626.2 1086.6 L632.3 1078.3 L638.4 1086.6 L632.3 1094.8 Z" fill="#cbcbcb"/><path d="M615.6 1090.2 L621.7 1082.0 L627.8 1090.2 L621.7 1098.5 Z" fill="#cbcbcb"/><path d="M579.2 1064.4 L585.3 1056.1 L591.4 1064.4 L585.3 1072.6 Z" fill="#cbcbcb"/><path d="M593.8 1067.2 L599.9 1058.9 L606.0 1067.2 L599.9 1075.4 Z" fill="#cbcbcb"/><path d="M573.9 1070.8 L580.0 1062.5 L586.1 1070.8 L580.0 1079.0 Z" fill="#cbcbcb"/><path d="M608.5 1073.8 L614.6 1065.5 L620.7 1073.8 L614.6 1082.0 Z" fill="#cbcbcb"/><path d="M582.4 1081.8 L588.5 1073.6 L594.6 1081.8 L588.5 1090.1 Z" fill="#cbcbcb"/><path d="M638.4 1076.0 L644.5 1067.7 L650.6 1076.0 L644.5 1084.2 Z" fill="#cbcbcb"/><path d="M562.2 1060.8 L568.3 1052.6 L574.4 1060.8 L568.3 1069.1 Z" fill="#cbcbcb"/><path d="M629.2 1057.5 L635.3 1049.2 L641.4 1057.5 L635.3 1065.7 Z" fill="#cbcbcb"/><path d="M615.4 1076.5 L621.5 1068.3 L627.6 1076.5 L621.5 1084.8 Z" fill="#cbcbcb"/><path d="M581.9 1080.6 L588.0 1072.3 L594.1 1080.6 L588.0 1088.8 Z" fill="#cbcbcb"/><path d="M557.5 1063.5 L563.6 1055.3 L569.7 1063.5 L563.6 1071.8 Z" fill="#cbcbcb"/><path d="M594.1 1060.8 L600.2 1052.5 L606.3 1060.8 L600.2 1069.0 Z" fill="#cbcbcb"/><path d="M625.6 1064.5 L631.7 1056.3 L637.8 1064.5 L631.7 1072.8 Z" fill="#cbcbcb"/><path d="M567.7 1061.2 L573.8 1053.0 L579.9 1061.2 L573.8 1069.5 Z" fill="#cbcbcb"/><path d="M608.8 1072.1 L614.9 1063.8 L621.0 1072.1 L614.9 1080.3 Z" fill="#cbcbcb"/><path d="M608.8 1079.6 L614.9 1071.3 L621.0 1079.6 L614.9 1087.8 Z" fill="#cbcbcb"/><path d="M623.7 1090.5 L629.8 1082.3 L635.9 1090.5 L629.8 1098.8 Z" fill="#cbcbcb"/><path d="M613.4 1063.2 L619.5 1054.9 L625.6 1063.2 L619.5 1071.4 Z" fill="#cbcbcb"/><path d="M595.8 1065.7 L601.9 1057.5 L608.0 1065.7 L601.9 1074.0 Z" fill="#cbcbcb"/><path d="M556.8 1072.3 L562.9 1064.0 L569.0 1072.3 L562.9 1080.5 Z" fill="#cbcbcb"/><path d="M615.9 1062.4 L622.0 1054.2 L628.1 1062.4 L622.0 1070.7 Z" fill="#cbcbcb"/><path d="M578.8 1069.0 L584.9 1060.7 L591.0 1069.0 L584.9 1077.2 Z" fill="#cbcbcb"/><path d="M614.5 1074.7 L620.6 1066.5 L626.7 1074.7 L620.6 1083.0 Z" fill="#cbcbcb"/><path d="M607.5 1083.2 L613.6 1075.0 L619.7 1083.2 L613.6 1091.5 Z" fill="#cbcbcb"/><path d="M589.0 1080.6 L595.1 1072.3 L601.2 1080.6 L595.1 1088.8 Z" fill="#cbcbcb"/><path d="M632.0 1059.1 L638.1 1050.9 L644.2 1059.1 L638.1 1067.4 Z" fill="#cbcbcb"/><path d="M634.2 1081.9 L640.3 1073.6 L646.4 1081.9 L640.3 1090.1 Z" fill="#cbcbcb"/><path d="M566.8 1071.8 L572.9 1063.5 L579.0 1071.8 L572.9 1080.0 Z" fill="#cbcbcb"/><path d="M608.4 1088.8 L614.5 1080.5 L620.6 1088.8 L614.5 1097.0 Z" fill="#cbcbcb"/><path d="M587.6 1074.8 L593.7 1066.5 L599.8 1074.8 L593.7 1083.0 Z" fill="#cbcbcb"/><path d="M629.8 1084.7 L635.9 1076.4 L642.0 1084.7 L635.9 1092.9 Z" fill="#cbcbcb"/><path d="M635.2 1076.2 L641.3 1068.0 L647.4 1076.2 L641.3 1084.5 Z" fill="#cbcbcb"/><path d="M610.6 1063.4 L616.7 1055.1 L622.8 1063.4 L616.7 1071.6 Z" fill="#cbcbcb"/><path d="M616.5 1085.5 L622.6 1077.2 L628.7 1085.5 L622.6 1093.7 Z" fill="#cbcbcb"/><path d="M609.8 1081.8 L615.9 1073.6 L622.0 1081.8 L615.9 1090.1 Z" fill="#cbcbcb"/><path d="M573.8 1083.4 L579.9 1075.1 L586.0 1083.4 L579.9 1091.6 Z" fill="#cbcbcb"/><path d="M638.3 1087.5 L644.4 1079.3 L650.5 1087.5 L644.4 1095.8 Z" fill="#cbcbcb"/><path d="M601.0 1085.3 L607.1 1077.1 L613.2 1085.3 L607.1 1093.6 Z" fill="#cbcbcb"/><path d="M582.8 1083.7 L588.9 1075.4 L595.0 1083.7 L588.9 1091.9 Z" fill="#cbcbcb"/><path d="M627.8 1068.5 L633.9 1060.3 L640.0 1068.5 L633.9 1076.8 Z" fill="#cbcbcb"/><path d="M562.9 1071.5 L569.0 1063.2 L575.1 1071.5 L569.0 1079.7 Z" fill="#cbcbcb"/><path d="M602.1 1084.6 L608.2 1076.3 L614.3 1084.6 L608.2 1092.8 Z" fill="#cbcbcb"/><path d="M596.8 1060.9 L602.9 1052.7 L609.0 1060.9 L602.9 1069.2 Z" fill="#cbcbcb"/><path d="M623.9 1058.3 L630.0 1050.1 L636.1 1058.3 L630.0 1066.6 Z" fill="#cbcbcb"/><path d="M623.1 1062.2 L629.2 1054.0 L635.3 1062.2 L629.2 1070.5 Z" fill="#cbcbcb"/><path d="M584.0 1080.5 L590.1 1072.2 L596.2 1080.5 L590.1 1088.7 Z" fill="#cbcbcb"/><path d="M567.7 1063.9 L573.8 1055.6 L579.9 1063.9 L573.8 1072.1 Z" fill="#cbcbcb"/><path d="M599.3 1083.2 L605.4 1074.9 L611.5 1083.2 L605.4 1091.4 Z" fill="#cbcbcb"/><path d="M626.5 1080.8 L632.6 1072.6 L638.7 1080.8 L632.6 1089.1 Z" fill="#cbcbcb"/><path d="M635.3 1076.8 L641.4 1068.6 L647.5 1076.8 L641.4 1085.1 Z" fill="#cbcbcb"/><path d="M635.6 1067.9 L641.7 1059.6 L647.8 1067.9 L641.7 1076.1 Z" fill="#cbcbcb"/><path d="M574.5 1073.7 L580.6 1065.4 L586.7 1073.7 L580.6 1081.9 Z" fill="#cbcbcb"/><path d="M580.3 1078.9 L586.4 1070.7 L592.5 1078.9 L586.4 1087.2 Z" fill="#cbcbcb"/><path d="M609.6 1074.8 L615.7 1066.6 L621.8 1074.8 L615.7 1083.1 Z" fill="#cbcbcb"/><path d="M626.8 1076.2 L632.9 1067.9 L639.0 1076.2 L632.9 1084.4 Z" fill="#cbcbcb"/><path d="M582.1 1069.9 L588.2 1061.7 L594.3 1069.9 L588.2 1078.2 Z" fill="#cbcbcb"/><path d="M626.9 1088.4 L633.0 1080.2 L639.1 1088.4 L633.0 1096.7 Z" fill="#cbcbcb"/><path d="M573.4 1082.1 L579.5 1073.9 L585.6 1082.1 L579.5 1090.4 Z" fill="#cbcbcb"/><path d="M637.2 1077.5 L643.3 1069.3 L649.4 1077.5 L643.3 1085.8 Z" fill="#cbcbcb"/><path d="M604.0 1063.2 L610.1 1055.0 L616.2 1063.2 L610.1 1071.5 Z" fill="#cbcbcb"/><path d="M600.9 1076.1 L607.0 1067.9 L613.1 1076.1 L607.0 1084.4 Z" fill="#cbcbcb"/><path d="M606.7 1057.0 L612.8 1048.7 L618.9 1057.0 L612.8 1065.2 Z" fill="#cbcbcb"/><path d="M637.3 1077.4 L643.4 1069.1 L649.5 1077.4 L643.4 1085.6 Z" fill="#cbcbcb"/><path d="M589.5 1080.8 L595.6 1072.6 L601.7 1080.8 L595.6 1089.1 Z" fill="#cbcbcb"/><path d="M603.2 1075.7 L609.3 1067.5 L615.4 1075.7 L609.3 1084.0 Z" fill="#cbcbcb"/><path d="M620.0 1091.0 L626.1 1082.7 L632.2 1091.0 L626.1 1099.2 Z" fill="#cbcbcb"/><path d="M617.1 1096.2 L623.2 1088.0 L629.3 1096.2 L623.2 1104.5 Z" fill="#cbcbcb"/><path d="M625.1 1103.9 L631.2 1095.6 L637.3 1103.9 L631.2 1112.1 Z" fill="#cbcbcb"/><path d="M612.0 1097.1 L618.1 1088.8 L624.2 1097.1 L618.1 1105.3 Z" fill="#cbcbcb"/><path d="M609.3 1096.5 L615.4 1088.3 L621.5 1096.5 L615.4 1104.8 Z" fill="#cbcbcb"/><path d="M622.4 1103.5 L628.5 1095.3 L634.6 1103.5 L628.5 1111.8 Z" fill="#cbcbcb"/><path d="M616.0 1094.8 L622.1 1086.5 L628.2 1094.8 L622.1 1103.0 Z" fill="#cbcbcb"/><path d="M610.5 1099.3 L616.6 1091.0 L622.7 1099.3 L616.6 1107.5 Z" fill="#cbcbcb"/><path d="M624.5 1091.9 L630.6 1083.7 L636.7 1091.9 L630.6 1100.2 Z" fill="#cbcbcb"/><path d="M621.7 1090.3 L627.8 1082.1 L633.9 1090.3 L627.8 1098.6 Z" fill="#cbcbcb"/><path d="M175.3 717.1 L184.9 717.1 L180.1 708.5 Z" fill="#402bb7"/><path d="M190.3 729.7 L199.9 729.7 L195.1 721.1 Z" fill="#402bb7"/><path d="M217.0 726.5 L226.6 726.5 L221.8 717.9 Z" fill="#402bb7"/><path d="M193.7 758.4 L203.3 758.4 L198.5 749.8 Z" fill="#402bb7"/><path d="M177.5 772.0 L187.1 772.0 L182.3 763.4 Z" fill="#402bb7"/><path d="M196.9 781.3 L206.5 781.3 L201.7 772.7 Z" fill="#402bb7"/><path d="M229.2 791.3 L238.8 791.3 L234.0 782.7 Z" fill="#402bb7"/><path d="M197.2 797.9 L206.8 797.9 L202.0 789.3 Z" fill="#463cde"/><path d="M184.7 831.1 L194.3 831.1 L189.5 822.5 Z" fill="#402bb7"/><path d="M184.1 852.7 L193.7 852.7 L188.9 844.1 Z" fill="#402bb7"/><path d="M193.7 872.9 L203.3 872.9 L198.5 864.3 Z" fill="#2e85f8"/><path d="M191.2 875.7 L200.8 875.7 L196.0 867.1 Z" fill="#2d8cf3"/><path d="M189.4 880.4 L199.0 880.4 L194.2 871.8 Z" fill="#2895ec"/><path d="M251.7 884.6 L261.3 884.6 L256.5 876.0 Z" fill="#402bb7"/><path d="M250.4 890.2 L260.0 890.2 L255.2 881.6 Z" fill="#c8c129"/><path d="M216.6 894.9 L226.2 894.9 L221.4 886.3 Z" fill="#15afd9"/><path d="M255.1 912.8 L264.7 912.8 L259.9 904.2 Z" fill="#12beb9"/><path d="M255.1 915.6 L264.7 915.6 L259.9 907.0 Z" fill="#48cb86"/><path d="M253.2 919.3 L262.8 919.3 L258.0 910.7 Z" fill="#05b6ce"/><path d="M266.3 916.5 L275.9 916.5 L271.1 907.9 Z" fill="#01b9c6"/><path d="M265.4 921.2 L275.0 921.2 L270.2 912.6 Z" fill="#2d8cf3"/><path d="M264.4 924.0 L274.0 924.0 L269.2 915.4 Z" fill="#21c1b0"/><path d="M256.6 924.0 L266.2 924.0 L261.4 915.4 Z" fill="#37c898"/><path d="M255.1 929.7 L264.7 929.7 L259.9 921.1 Z" fill="#37c898"/><path d="M261.6 929.7 L271.2 929.7 L266.4 921.1 Z" fill="#2fc5a2"/><path d="M256.6 935.3 L266.2 935.3 L261.4 926.7 Z" fill="#71cd64"/><path d="M217.0 923.5 L226.6 923.5 L221.8 914.9 Z" fill="#4743e7"/><path d="M200.6 934.0 L210.2 934.0 L205.4 925.4 Z" fill="#48cb86"/><path d="M196.9 936.8 L206.5 936.8 L201.7 928.2 Z" fill="#f6f020"/><path d="M246.6 942.2 L256.2 942.2 L251.4 933.6 Z" fill="#fdcc32"/><path d="M267.6 941.3 L277.2 941.3 L272.4 932.7 Z" fill="#27c2ac"/><path d="M234.4 950.3 L244.0 950.3 L239.2 941.7 Z" fill="#c8c129"/><path d="M255.1 949.9 L264.7 949.9 L259.9 941.3 Z" fill="#c8c129"/><path d="M261.6 948.1 L271.2 948.1 L266.4 939.5 Z" fill="#c1c32d"/><path d="M276.6 949.4 L286.2 949.4 L281.4 940.8 Z" fill="#fdcc32"/><path d="M316.1 951.3 L325.7 951.3 L320.9 942.7 Z" fill="#15afd9"/><path d="M211.3 955.0 L220.9 955.0 L216.1 946.4 Z" fill="#eaba31"/><path d="M276.1 956.3 L285.7 956.3 L280.9 947.7 Z" fill="#58cc79"/><path d="M282.3 958.2 L291.9 958.2 L287.1 949.6 Z" fill="#58cc79"/><path d="M234.4 959.7 L244.0 959.7 L239.2 951.1 Z" fill="#debd29"/><path d="M235.4 958.8 L245.0 958.8 L240.2 950.2 Z" fill="#9fc942"/><path d="M257.9 961.6 L267.5 961.6 L262.7 953.0 Z" fill="#b0c636"/><path d="M276.1 962.1 L285.7 962.1 L280.9 953.5 Z" fill="#48cb86"/><path d="M270.6 965.0 L280.2 965.0 L275.4 956.4 Z" fill="#9fc942"/><path d="M298.2 961.6 L307.8 961.6 L303.0 953.0 Z" fill="#fdcc32"/><path d="M303.9 965.9 L313.5 965.9 L308.7 957.3 Z" fill="#58cc79"/><path d="M316.1 967.2 L325.7 967.2 L320.9 958.6 Z" fill="#58cc79"/><path d="M223.5 967.8 L233.1 967.8 L228.3 959.2 Z" fill="#fdcc32"/><path d="M223.5 965.0 L233.1 965.0 L228.3 956.4 Z" fill="#f5e825"/><path d="M247.0 969.1 L256.6 969.1 L251.8 960.5 Z" fill="#f5ba3a"/><path d="M258.2 967.6 L267.8 967.6 L263.0 959.0 Z" fill="#fdbd3d"/><path d="M309.9 971.9 L319.5 971.9 L314.7 963.3 Z" fill="#3bc992"/><path d="M314.6 976.6 L324.2 976.6 L319.4 968.0 Z" fill="#c8c129"/><path d="M230.7 976.2 L240.3 976.2 L235.5 967.6 Z" fill="#f5ec22"/><path d="M244.7 977.2 L254.3 977.2 L249.5 968.6 Z" fill="#f6e028"/><path d="M255.6 977.2 L265.2 977.2 L260.4 968.6 Z" fill="#fdcc32"/><path d="M255.1 974.7 L264.7 974.7 L259.9 966.1 Z" fill="#fdcc32"/><path d="M272.3 976.2 L281.9 976.2 L277.1 967.6 Z" fill="#68cd6b"/><path d="M279.5 976.2 L289.1 976.2 L284.3 967.6 Z" fill="#68cd6b"/><path d="M274.8 979.4 L284.4 979.4 L279.6 970.8 Z" fill="#68cd6b"/><path d="M272.9 982.2 L282.5 982.2 L277.7 973.6 Z" fill="#68cd6b"/><path d="M203.1 982.2 L212.7 982.2 L207.9 973.6 Z" fill="#f9fb15"/><path d="M336.7 975.1 L346.3 975.1 L341.5 966.5 Z" fill="#2a92ee"/><path d="M348.5 977.5 L358.1 977.5 L353.3 968.9 Z" fill="#3bc992"/><path d="M347.0 984.1 L356.6 984.1 L351.8 975.5 Z" fill="#68cd6b"/><path d="M349.8 985.0 L359.4 985.0 L354.6 976.4 Z" fill="#9fc942"/><path d="M352.7 986.9 L362.3 986.9 L357.5 978.3 Z" fill="#48cb86"/><path d="M265.4 991.6 L275.0 991.6 L270.2 983.0 Z" fill="#fdcc32"/><path d="M266.9 992.5 L276.5 992.5 L271.7 983.9 Z" fill="#fec13a"/><path d="M348.0 991.0 L357.6 991.0 L352.8 982.4 Z" fill="#eaba31"/><path d="M353.6 993.5 L363.2 993.5 L358.4 984.9 Z" fill="#fdcc32"/><path d="M358.3 992.2 L367.9 992.2 L363.1 983.6 Z" fill="#fec13a"/><path d="M360.7 996.3 L370.3 996.3 L365.5 987.7 Z" fill="#f6e028"/><path d="M334.4 995.9 L344.0 995.9 L339.2 987.3 Z" fill="#f9fb15"/><path d="M341.4 1002.9 L351.0 1002.9 L346.2 994.3 Z" fill="#f9fb15"/><path d="M368.6 996.3 L378.2 996.3 L373.4 987.7 Z" fill="#68cd6b"/><path d="M372.4 995.4 L382.0 995.4 L377.2 986.8 Z" fill="#7acc5d"/><path d="M379.5 996.3 L389.1 996.3 L384.3 987.7 Z" fill="#7acc5d"/><path d="M377.1 1000.1 L386.7 1000.1 L381.9 991.5 Z" fill="#9fc942"/><path d="M369.0 1003.4 L378.6 1003.4 L373.8 994.8 Z" fill="#68cd6b"/><path d="M376.1 1006.6 L385.7 1006.6 L380.9 998.0 Z" fill="#68cd6b"/><path d="M383.2 1010.4 L392.8 1010.4 L388.0 1001.8 Z" fill="#3bc992"/><path d="M225.4 1007.0 L235.0 1007.0 L230.2 998.4 Z" fill="#f9fb15"/><path d="M261.6 1008.5 L271.2 1008.5 L266.4 999.9 Z" fill="#f9fb15"/><path d="M265.0 1016.6 L274.6 1016.6 L269.8 1008.0 Z" fill="#f7dc2a"/><path d="M305.7 1009.4 L315.3 1009.4 L310.5 1000.8 Z" fill="#debd29"/><path d="M306.7 1011.3 L316.3 1011.3 L311.5 1002.7 Z" fill="#eaba31"/><path d="M302.9 1016.0 L312.5 1016.0 L307.7 1007.4 Z" fill="#fdcc32"/><path d="M332.6 1010.4 L342.2 1010.4 L337.4 1001.8 Z" fill="#f9fb15"/><path d="M225.0 1024.5 L234.6 1024.5 L229.8 1015.9 Z" fill="#f9fb15"/><path d="M223.7 1025.8 L233.3 1025.8 L228.5 1017.2 Z" fill="#f9fb15"/><path d="M235.4 1030.5 L245.0 1030.5 L240.2 1021.9 Z" fill="#f9fb15"/><path d="M251.3 1028.6 L260.9 1028.6 L256.1 1020.0 Z" fill="#f9fb15"/><path d="M260.1 1026.0 L269.7 1026.0 L264.9 1017.4 Z" fill="#f9fb15"/><path d="M258.8 1033.5 L268.4 1033.5 L263.6 1024.9 Z" fill="#f9fb15"/><path d="M266.9 1037.0 L276.5 1037.0 L271.7 1028.4 Z" fill="#f9fb15"/><path d="M233.8 1038.9 L243.4 1038.9 L238.6 1030.3 Z" fill="#f9fb15"/><path d="M221.6 1042.3 L231.2 1042.3 L226.4 1033.7 Z" fill="#f9fb15"/><path d="M265.8 1044.2 L275.4 1044.2 L270.6 1035.6 Z" fill="#f9fb15"/><path d="M287.5 1038.9 L297.1 1038.9 L292.3 1030.3 Z" fill="#f9fb15"/><path d="M286.4 1040.4 L296.0 1040.4 L291.2 1031.8 Z" fill="#f9fb15"/><path d="M340.5 1030.5 L350.1 1030.5 L345.3 1021.9 Z" fill="#f9fb15"/><path d="M256.9 1049.2 L266.5 1049.2 L261.7 1040.6 Z" fill="#f9fb15"/><path d="M241.5 1053.9 L251.1 1053.9 L246.3 1045.3 Z" fill="#f9fb15"/><path d="M242.5 1056.7 L252.1 1056.7 L247.3 1048.1 Z" fill="#f9fb15"/><path d="M239.1 1060.7 L248.7 1060.7 L243.9 1052.1 Z" fill="#f9fb15"/><path d="M253.2 1061.4 L262.8 1061.4 L258.0 1052.8 Z" fill="#f9fb15"/><path d="M235.4 1075.1 L245.0 1075.1 L240.2 1066.5 Z" fill="#f9fb15"/><path d="M239.1 1076.1 L248.7 1076.1 L243.9 1067.5 Z" fill="#f9fb15"/><path d="M253.2 1081.7 L262.8 1081.7 L258.0 1073.1 Z" fill="#f9fb15"/><path d="M257.7 1114.6 L267.3 1114.6 L262.5 1106.0 Z" fill="#f9fb15"/>
<text x="26.0" y="907.5" font-size="29.2" text-anchor="middle" transform="rotate(-90.0 26.0 907.5)">Revelle factor</text>
<text x="410.0" y="1212.0" font-size="29.2" text-anchor="middle">SST</text>
<linearGradient id="gC" x1="0" y1="0" x2="0" y2="1"><stop offset="0.0000" stop-color="#f9fb15"/><stop offset="0.0312" stop-color="#f6ef20"/><stop offset="0.0625" stop-color="#f5e327"/><stop offset="0.0938" stop-color="#f9d62d"/><stop offset="0.1250" stop-color="#feca33"/><stop offset="0.1562" stop-color="#febe3c"/><stop offset="0.1875" stop-color="#f1ba37"/><stop offset="0.2188" stop-color="#debc2a"/><stop offset="0.2500" stop-color="#c8c129"/><stop offset="0.2812" stop-color="#afc637"/><stop offset="0.3125" stop-color="#94ca4a"/><stop offset="0.3438" stop-color="#77cc60"/><stop offset="0.3750" stop-color="#5ccc76"/><stop offset="0.4062" stop-color="#44ca8a"/><stop offset="0.4375" stop-color="#34c79c"/><stop offset="0.4688" stop-color="#28c2ab"/><stop offset="0.5000" stop-color="#12beb9"/><stop offset="0.5312" stop-color="#01b9c6"/><stop offset="0.5625" stop-color="#0cb3d3"/><stop offset="0.5938" stop-color="#1aacdd"/><stop offset="0.6250" stop-color="#21a3e3"/><stop offset="0.6562" stop-color="#269ae9"/><stop offset="0.6875" stop-color="#2c90f0"/><stop offset="0.7188" stop-color="#2e85f8"/><stop offset="0.7500" stop-color="#347afd"/><stop offset="0.7812" stop-color="#3f6efe"/><stop offset="0.8125" stop-color="#4562fc"/><stop offset="0.8438" stop-color="#4757f7"/><stop offset="0.8750" stop-color="#484cef"/><stop offset="0.9062" stop-color="#4741e5"/><stop offset="0.9375" stop-color="#4536d5"/><stop offset="0.9688" stop-color="#422ebf"/><stop offset="1.0000" stop-color="#3e26a8"/></linearGradient>
<rect x="758.8" y="679.5" width="22.5" height="456.5" fill="url(#gC)" stroke="#000" stroke-width="1.5"/>
<text x="793.7" y="688.8" font-size="23.8">110</text>
<line x1="775.2" y1="793.6" x2="781.2" y2="793.6" stroke="#000" stroke-width="1.50"/>
<text x="793.7" y="802.9" font-size="23.8">105</text>
<line x1="775.2" y1="907.8" x2="781.2" y2="907.8" stroke="#000" stroke-width="1.50"/>
<text x="793.7" y="917.0" font-size="23.8">100</text>
<line x1="775.2" y1="1021.9" x2="781.2" y2="1021.9" stroke="#000" stroke-width="1.50"/>
<text x="793.7" y="1031.2" font-size="23.8">95</text>
<text x="793.7" y="1145.3" font-size="23.8">90</text>
<text x="740.0" y="662.5" font-size="25.1">DO%</text>
<rect x="497.8" y="689.8" width="213.5" height="85.2" fill="#fff" stroke="#000" stroke-width="1.5"/>
<circle cx="524.0" cy="705.5" r="6.2" fill="#c9c9c9"/>
<text x="542.5" y="711.8" font-size="20.9">ECOA (2015)</text>
<path d="M517.8 731.8 L524.0 723.0 L530.2 731.8 L524.0 740.5 Z" fill="#c9c9c9"/>
<text x="542.5" y="738.0" font-size="20.9">GOMECC (2017)</text>
<path d="M518.8 762.8 L528.2 762.8 L523.5 754.2 Z" fill="#3e26a8"/>
<text x="542.5" y="765.0" font-size="20.9">WCOA (2016)</text>
<rect x="975.2" y="679.5" width="640.5" height="456.5" fill="none" stroke="#000" stroke-width="1.8"/>
<text x="975.2" y="1169.5" font-size="29.2" text-anchor="middle">5</text>
<line x1="1081.8" y1="1136.0" x2="1081.8" y2="1129.3" stroke="#000" stroke-width="1.60"/>
<line x1="1081.8" y1="679.5" x2="1081.8" y2="686.2" stroke="#000" stroke-width="1.60"/>
<text x="1081.8" y="1169.5" font-size="29.2" text-anchor="middle">10</text>
<line x1="1188.5" y1="1136.0" x2="1188.5" y2="1129.3" stroke="#000" stroke-width="1.60"/>
<line x1="1188.5" y1="679.5" x2="1188.5" y2="686.2" stroke="#000" stroke-width="1.60"/>
<text x="1188.5" y="1169.5" font-size="29.2" text-anchor="middle">15</text>
<line x1="1295.0" y1="1136.0" x2="1295.0" y2="1129.3" stroke="#000" stroke-width="1.60"/>
<line x1="1295.0" y1="679.5" x2="1295.0" y2="686.2" stroke="#000" stroke-width="1.60"/>
<text x="1295.0" y="1169.5" font-size="29.2" text-anchor="middle">20</text>
<line x1="1401.7" y1="1136.0" x2="1401.7" y2="1129.3" stroke="#000" stroke-width="1.60"/>
<line x1="1401.7" y1="679.5" x2="1401.7" y2="686.2" stroke="#000" stroke-width="1.60"/>
<text x="1401.7" y="1169.5" font-size="29.2" text-anchor="middle">25</text>
<line x1="1508.2" y1="1136.0" x2="1508.2" y2="1129.3" stroke="#000" stroke-width="1.60"/>
<line x1="1508.2" y1="679.5" x2="1508.2" y2="686.2" stroke="#000" stroke-width="1.60"/>
<text x="1508.2" y="1169.5" font-size="29.2" text-anchor="middle">30</text>
<text x="1614.8" y="1169.5" font-size="29.2" text-anchor="middle">35</text>
<text x="960.8" y="1146.3" font-size="29.2" text-anchor="end">8</text>
<line x1="975.2" y1="1044.7" x2="982.0" y2="1044.7" stroke="#000" stroke-width="1.60"/>
<line x1="1615.8" y1="1044.7" x2="1609.0" y2="1044.7" stroke="#000" stroke-width="1.60"/>
<text x="960.8" y="1055.0" font-size="29.2" text-anchor="end">10</text>
<line x1="975.2" y1="953.4" x2="982.0" y2="953.4" stroke="#000" stroke-width="1.60"/>
<line x1="1615.8" y1="953.4" x2="1609.0" y2="953.4" stroke="#000" stroke-width="1.60"/>
<text x="960.8" y="963.7" font-size="29.2" text-anchor="end">12</text>
<line x1="975.2" y1="862.1" x2="982.0" y2="862.1" stroke="#000" stroke-width="1.60"/>
<line x1="1615.8" y1="862.1" x2="1609.0" y2="862.1" stroke="#000" stroke-width="1.60"/>
<text x="960.8" y="872.4" font-size="29.2" text-anchor="end">14</text>
<line x1="975.2" y1="770.8" x2="982.0" y2="770.8" stroke="#000" stroke-width="1.60"/>
<line x1="1615.8" y1="770.8" x2="1609.0" y2="770.8" stroke="#000" stroke-width="1.60"/>
<text x="960.8" y="781.1" font-size="29.2" text-anchor="end">16</text>
<text x="960.8" y="689.8" font-size="29.2" text-anchor="end">18</text>
<circle cx="1015.1" cy="814.2" r="6.1" fill="#cbcbcb"/><circle cx="1041.0" cy="835.8" r="6.1" fill="#cbcbcb"/><circle cx="1042.8" cy="848.4" r="6.1" fill="#cbcbcb"/><circle cx="1068.0" cy="859.6" r="6.1" fill="#cbcbcb"/><circle cx="1066.2" cy="866.4" r="6.1" fill="#cbcbcb"/><circle cx="1111.8" cy="868.1" r="6.1" fill="#cbcbcb"/><circle cx="1122.2" cy="873.3" r="6.1" fill="#cbcbcb"/><circle cx="1128.8" cy="871.8" r="6.1" fill="#cbcbcb"/><circle cx="1120.2" cy="876.7" r="6.1" fill="#cbcbcb"/><circle cx="1227.8" cy="884.6" r="6.1" fill="#cbcbcb"/><circle cx="1293.0" cy="888.3" r="6.1" fill="#cbcbcb"/><circle cx="1115.2" cy="897.2" r="6.1" fill="#cbcbcb"/><circle cx="1079.3" cy="905.7" r="6.1" fill="#cbcbcb"/><circle cx="1116.2" cy="911.7" r="6.1" fill="#cbcbcb"/><circle cx="1126.0" cy="912.8" r="6.1" fill="#cbcbcb"/><circle cx="1129.2" cy="919.7" r="6.1" fill="#cbcbcb"/><circle cx="1256.8" cy="910.4" r="6.1" fill="#cbcbcb"/><circle cx="1263.8" cy="912.2" r="6.1" fill="#cbcbcb"/><circle cx="1272.7" cy="912.8" r="6.1" fill="#cbcbcb"/><circle cx="1242.8" cy="919.2" r="6.1" fill="#cbcbcb"/><circle cx="1239.5" cy="924.4" r="6.1" fill="#cbcbcb"/><circle cx="1229.7" cy="934.8" r="6.1" fill="#cbcbcb"/><circle cx="1245.0" cy="936.6" r="6.1" fill="#cbcbcb"/><circle cx="1110.3" cy="943.2" r="6.1" fill="#cbcbcb"/><circle cx="1132.8" cy="947.0" r="6.1" fill="#cbcbcb"/><circle cx="1182.2" cy="943.8" r="6.1" fill="#cbcbcb"/><circle cx="1171.0" cy="946.0" r="6.1" fill="#cbcbcb"/><circle cx="1269.5" cy="946.0" r="6.1" fill="#cbcbcb"/><circle cx="1156.0" cy="955.4" r="6.1" fill="#cbcbcb"/><circle cx="1152.2" cy="954.5" r="6.1" fill="#cbcbcb"/><circle cx="1127.8" cy="957.3" r="6.1" fill="#cbcbcb"/><circle cx="1267.7" cy="955.4" r="6.1" fill="#cbcbcb"/><circle cx="1274.2" cy="957.3" r="6.1" fill="#cbcbcb"/><circle cx="1283.5" cy="958.2" r="6.1" fill="#cbcbcb"/><circle cx="1251.7" cy="962.0" r="6.1" fill="#cbcbcb"/><circle cx="1229.2" cy="965.7" r="6.1" fill="#cbcbcb"/><circle cx="1189.2" cy="963.3" r="6.1" fill="#cbcbcb"/><circle cx="1242.2" cy="969.5" r="6.1" fill="#cbcbcb"/><circle cx="1081.2" cy="973.6" r="6.1" fill="#cbcbcb"/><circle cx="1134.0" cy="975.1" r="6.1" fill="#cbcbcb"/><circle cx="1145.7" cy="977.4" r="6.1" fill="#cbcbcb"/><circle cx="1196.0" cy="979.4" r="6.1" fill="#cbcbcb"/><circle cx="1274.2" cy="975.1" r="6.1" fill="#cbcbcb"/><circle cx="1283.5" cy="978.9" r="6.1" fill="#cbcbcb"/><circle cx="1293.0" cy="978.9" r="6.1" fill="#cbcbcb"/><circle cx="1279.8" cy="987.3" r="6.1" fill="#cbcbcb"/><circle cx="1276.0" cy="990.1" r="6.1" fill="#cbcbcb"/><circle cx="1267.7" cy="991.1" r="6.1" fill="#cbcbcb"/><circle cx="1294.8" cy="967.6" r="6.1" fill="#cbcbcb"/><circle cx="1287.3" cy="999.5" r="6.1" fill="#cbcbcb"/><circle cx="1281.7" cy="1004.2" r="6.1" fill="#cbcbcb"/><circle cx="1293.0" cy="1009.8" r="6.1" fill="#cbcbcb"/><circle cx="1301.8" cy="878.4" r="6.1" fill="#cbcbcb"/><circle cx="1304.5" cy="881.6" r="6.1" fill="#cbcbcb"/><circle cx="1298.0" cy="886.0" r="6.1" fill="#cbcbcb"/><circle cx="1293.7" cy="888.8" r="6.1" fill="#cbcbcb"/><circle cx="1329.0" cy="928.2" r="6.1" fill="#cbcbcb"/><circle cx="1357.5" cy="941.9" r="6.1" fill="#cbcbcb"/><circle cx="1356.5" cy="956.9" r="6.1" fill="#cbcbcb"/><circle cx="1363.2" cy="963.8" r="6.1" fill="#cbcbcb"/><circle cx="1365.0" cy="972.7" r="6.1" fill="#cbcbcb"/><circle cx="1300.8" cy="967.6" r="6.1" fill="#cbcbcb"/><circle cx="1285.8" cy="958.2" r="6.1" fill="#cbcbcb"/><circle cx="1294.2" cy="978.9" r="6.1" fill="#cbcbcb"/><circle cx="1310.2" cy="977.5" r="6.1" fill="#cbcbcb"/><circle cx="1285.8" cy="978.9" r="6.1" fill="#cbcbcb"/><circle cx="1325.2" cy="983.9" r="6.1" fill="#cbcbcb"/><circle cx="1323.2" cy="987.3" r="6.1" fill="#cbcbcb"/><circle cx="1356.2" cy="991.6" r="6.1" fill="#cbcbcb"/><circle cx="1380.5" cy="998.0" r="6.1" fill="#cbcbcb"/><circle cx="1289.5" cy="999.5" r="6.1" fill="#cbcbcb"/><circle cx="1285.8" cy="1001.4" r="6.1" fill="#cbcbcb"/><circle cx="1295.2" cy="1010.8" r="6.1" fill="#cbcbcb"/><circle cx="1328.5" cy="1002.9" r="6.1" fill="#cbcbcb"/><circle cx="1334.2" cy="1004.2" r="6.1" fill="#cbcbcb"/><circle cx="1325.2" cy="1014.5" r="6.1" fill="#cbcbcb"/><circle cx="1342.0" cy="1012.6" r="6.1" fill="#cbcbcb"/><circle cx="1331.8" cy="1020.2" r="6.1" fill="#cbcbcb"/><circle cx="1338.8" cy="1024.3" r="6.1" fill="#cbcbcb"/><circle cx="1322.3" cy="1027.3" r="6.1" fill="#cbcbcb"/><circle cx="1360.8" cy="1012.6" r="6.1" fill="#cbcbcb"/><circle cx="1361.8" cy="1016.4" r="6.1" fill="#cbcbcb"/><circle cx="1362.8" cy="1023.0" r="6.1" fill="#cbcbcb"/><circle cx="1372.5" cy="1022.6" r="6.1" fill="#cbcbcb"/><circle cx="1355.5" cy="1029.5" r="6.1" fill="#cbcbcb"/><circle cx="1389.0" cy="1010.8" r="6.1" fill="#cbcbcb"/><circle cx="1389.0" cy="1020.2" r="6.1" fill="#cbcbcb"/><circle cx="1388.7" cy="1029.5" r="6.1" fill="#cbcbcb"/><circle cx="1372.5" cy="1037.0" r="6.1" fill="#cbcbcb"/><circle cx="1373.5" cy="1040.4" r="6.1" fill="#cbcbcb"/><circle cx="1352.3" cy="1045.9" r="6.1" fill="#cbcbcb"/><circle cx="1354.2" cy="1059.6" r="6.1" fill="#cbcbcb"/><circle cx="1359.8" cy="1061.8" r="6.1" fill="#cbcbcb"/><circle cx="1393.7" cy="977.0" r="6.1" fill="#cbcbcb"/><circle cx="1390.0" cy="983.6" r="6.1" fill="#cbcbcb"/><circle cx="1401.2" cy="980.7" r="6.1" fill="#cbcbcb"/><circle cx="1405.8" cy="985.4" r="6.1" fill="#cbcbcb"/><circle cx="1415.2" cy="987.3" r="6.1" fill="#cbcbcb"/><circle cx="1399.3" cy="992.9" r="6.1" fill="#cbcbcb"/><circle cx="1407.8" cy="992.0" r="6.1" fill="#cbcbcb"/><circle cx="1415.2" cy="992.9" r="6.1" fill="#cbcbcb"/><circle cx="1424.2" cy="1001.0" r="6.1" fill="#cbcbcb"/><circle cx="1408.7" cy="1005.5" r="6.1" fill="#cbcbcb"/><circle cx="1415.2" cy="1005.1" r="6.1" fill="#cbcbcb"/><circle cx="1420.8" cy="1009.8" r="6.1" fill="#cbcbcb"/><circle cx="1424.7" cy="1015.5" r="6.1" fill="#cbcbcb"/><circle cx="1429.3" cy="1017.9" r="6.1" fill="#cbcbcb"/><circle cx="1402.2" cy="1022.0" r="6.1" fill="#cbcbcb"/><circle cx="1407.3" cy="1022.0" r="6.1" fill="#cbcbcb"/><circle cx="1399.3" cy="1026.7" r="6.1" fill="#cbcbcb"/><circle cx="1422.3" cy="1029.2" r="6.1" fill="#cbcbcb"/><circle cx="1408.2" cy="1041.2" r="6.1" fill="#cbcbcb"/><circle cx="1420.0" cy="1053.9" r="6.1" fill="#cbcbcb"/><circle cx="1425.5" cy="1053.0" r="6.1" fill="#cbcbcb"/><circle cx="1420.8" cy="1059.6" r="6.1" fill="#cbcbcb"/><circle cx="1428.3" cy="1057.7" r="6.1" fill="#cbcbcb"/><circle cx="1437.8" cy="1059.6" r="6.1" fill="#cbcbcb"/><circle cx="1420.8" cy="1067.1" r="6.1" fill="#cbcbcb"/><circle cx="1426.5" cy="1069.9" r="6.1" fill="#cbcbcb"/><circle cx="1434.0" cy="1069.9" r="6.1" fill="#cbcbcb"/><circle cx="1441.5" cy="1065.2" r="6.1" fill="#cbcbcb"/><circle cx="1449.0" cy="1063.3" r="6.1" fill="#cbcbcb"/><circle cx="1445.2" cy="1070.8" r="6.1" fill="#cbcbcb"/><circle cx="1454.7" cy="1068.9" r="6.1" fill="#cbcbcb"/><circle cx="1458.5" cy="1076.5" r="6.1" fill="#cbcbcb"/><circle cx="1449.0" cy="1084.3" r="6.1" fill="#cbcbcb"/><circle cx="1461.2" cy="1080.2" r="6.1" fill="#cbcbcb"/><circle cx="1466.3" cy="1090.0" r="6.1" fill="#cbcbcb"/><circle cx="1473.5" cy="1082.1" r="6.1" fill="#cbcbcb"/><circle cx="1481.0" cy="1087.7" r="6.1" fill="#cbcbcb"/><circle cx="1302.0" cy="863.2" r="6.1" fill="#cbcbcb"/><circle cx="1436.7" cy="1066.3" r="6.1" fill="#cbcbcb"/><circle cx="1457.4" cy="1069.4" r="6.1" fill="#cbcbcb"/><circle cx="1439.1" cy="1067.5" r="6.1" fill="#cbcbcb"/><circle cx="1424.9" cy="1062.3" r="6.1" fill="#cbcbcb"/><circle cx="1444.5" cy="1073.4" r="6.1" fill="#cbcbcb"/><circle cx="1420.9" cy="1056.7" r="6.1" fill="#cbcbcb"/><circle cx="1420.7" cy="1067.8" r="6.1" fill="#cbcbcb"/><circle cx="1447.3" cy="1057.5" r="6.1" fill="#cbcbcb"/><circle cx="1460.0" cy="1081.0" r="6.1" fill="#cbcbcb"/><circle cx="1445.5" cy="1069.7" r="6.1" fill="#cbcbcb"/><circle cx="1423.7" cy="1051.1" r="6.1" fill="#cbcbcb"/><circle cx="1440.0" cy="1056.1" r="6.1" fill="#cbcbcb"/><circle cx="1425.1" cy="1056.4" r="6.1" fill="#cbcbcb"/><circle cx="1418.1" cy="1059.5" r="6.1" fill="#cbcbcb"/><circle cx="1436.1" cy="1072.4" r="6.1" fill="#cbcbcb"/><circle cx="1439.6" cy="1068.8" r="6.1" fill="#cbcbcb"/><circle cx="1438.7" cy="1069.1" r="6.1" fill="#cbcbcb"/><circle cx="1436.9" cy="1060.2" r="6.1" fill="#cbcbcb"/><circle cx="1460.6" cy="1081.9" r="6.1" fill="#cbcbcb"/><circle cx="1453.7" cy="1073.8" r="6.1" fill="#cbcbcb"/><circle cx="1430.6" cy="1057.5" r="6.1" fill="#cbcbcb"/><circle cx="1429.5" cy="1053.7" r="6.1" fill="#cbcbcb"/><circle cx="1450.5" cy="1066.2" r="6.1" fill="#cbcbcb"/><circle cx="1454.0" cy="1066.8" r="6.1" fill="#cbcbcb"/><circle cx="1458.9" cy="1078.2" r="6.1" fill="#cbcbcb"/><circle cx="1416.8" cy="1053.6" r="6.1" fill="#cbcbcb"/><circle cx="1456.8" cy="1069.4" r="6.1" fill="#cbcbcb"/><circle cx="1459.9" cy="1068.5" r="6.1" fill="#cbcbcb"/><circle cx="1420.0" cy="1063.7" r="6.1" fill="#cbcbcb"/><circle cx="1451.0" cy="1063.5" r="6.1" fill="#cbcbcb"/><path d="M1378.8 1042.3 L1384.8 1034.0 L1390.9 1042.3 L1384.8 1050.5 Z" fill="#cbcbcb"/><path d="M1403.6 1049.2 L1409.7 1041.0 L1415.8 1049.2 L1409.7 1057.5 Z" fill="#cbcbcb"/><path d="M1492.2 969.1 L1498.2 960.9 L1504.3 969.1 L1498.2 977.4 Z" fill="#cbcbcb"/><path d="M1455.6 1046.8 L1461.7 1038.5 L1467.8 1046.8 L1461.7 1055.0 Z" fill="#cbcbcb"/><path d="M1498.4 1040.8 L1504.5 1032.5 L1510.5 1040.8 L1504.5 1049.0 Z" fill="#cbcbcb"/><path d="M1455.6 1047.0 L1461.7 1038.8 L1467.8 1047.0 L1461.7 1055.2 Z" fill="#cbcbcb"/><path d="M1498.2 1040.9 L1504.3 1032.7 L1510.4 1040.9 L1504.3 1049.2 Z" fill="#cbcbcb"/><path d="M1517.5 1059.7 L1523.5 1051.5 L1529.6 1059.7 L1523.5 1068.0 Z" fill="#cbcbcb"/><path d="M1496.4 1109.3 L1502.5 1101.0 L1508.5 1109.3 L1502.5 1117.5 Z" fill="#cbcbcb"/><path d="M1505.2 1117.8 L1511.3 1109.5 L1517.4 1117.8 L1511.3 1126.0 Z" fill="#cbcbcb"/><path d="M1503.4 1103.7 L1509.5 1095.5 L1515.5 1103.7 L1509.5 1112.0 Z" fill="#cbcbcb"/><path d="M1509.0 1100.0 L1515.0 1091.8 L1521.1 1100.0 L1515.0 1108.2 Z" fill="#cbcbcb"/><path d="M1498.7 1099.0 L1504.8 1090.8 L1510.8 1099.0 L1504.8 1107.2 Z" fill="#cbcbcb"/><path d="M1449.0 1068.6 L1455.1 1060.4 L1461.2 1068.6 L1455.1 1076.9 Z" fill="#cbcbcb"/><path d="M1522.6 1082.7 L1528.7 1074.4 L1534.8 1082.7 L1528.7 1090.9 Z" fill="#cbcbcb"/><path d="M1451.6 1066.4 L1457.7 1058.2 L1463.8 1066.4 L1457.7 1074.7 Z" fill="#cbcbcb"/><path d="M1450.1 1061.6 L1456.2 1053.3 L1462.3 1061.6 L1456.2 1069.8 Z" fill="#cbcbcb"/><path d="M1508.6 1062.4 L1514.7 1054.1 L1520.8 1062.4 L1514.7 1070.6 Z" fill="#cbcbcb"/><path d="M1488.6 1074.3 L1494.7 1066.1 L1500.8 1074.3 L1494.7 1082.6 Z" fill="#cbcbcb"/><path d="M1457.7 1079.0 L1463.8 1070.8 L1469.9 1079.0 L1463.8 1087.3 Z" fill="#cbcbcb"/><path d="M1452.7 1076.7 L1458.8 1068.5 L1464.9 1076.7 L1458.8 1085.0 Z" fill="#cbcbcb"/><path d="M1451.4 1070.9 L1457.5 1062.7 L1463.6 1070.9 L1457.5 1079.2 Z" fill="#cbcbcb"/><path d="M1459.5 1067.0 L1465.6 1058.8 L1471.7 1067.0 L1465.6 1075.3 Z" fill="#cbcbcb"/><path d="M1523.2 1083.7 L1529.3 1075.4 L1535.4 1083.7 L1529.3 1091.9 Z" fill="#cbcbcb"/><path d="M1467.2 1083.0 L1473.3 1074.8 L1479.4 1083.0 L1473.3 1091.3 Z" fill="#cbcbcb"/><path d="M1459.3 1070.3 L1465.4 1062.0 L1471.5 1070.3 L1465.4 1078.5 Z" fill="#cbcbcb"/><path d="M1513.4 1079.1 L1519.5 1070.9 L1525.6 1079.1 L1519.5 1087.4 Z" fill="#cbcbcb"/><path d="M1450.1 1085.7 L1456.2 1077.5 L1462.3 1085.7 L1456.2 1094.0 Z" fill="#cbcbcb"/><path d="M1459.6 1066.7 L1465.7 1058.5 L1471.8 1066.7 L1465.7 1075.0 Z" fill="#cbcbcb"/><path d="M1506.6 1067.8 L1512.7 1059.6 L1518.8 1067.8 L1512.7 1076.1 Z" fill="#cbcbcb"/><path d="M1466.5 1061.9 L1472.6 1053.7 L1478.7 1061.9 L1472.6 1070.2 Z" fill="#cbcbcb"/><path d="M1449.2 1075.2 L1455.3 1066.9 L1461.4 1075.2 L1455.3 1083.4 Z" fill="#cbcbcb"/><path d="M1462.1 1075.6 L1468.2 1067.4 L1474.3 1075.6 L1468.2 1083.9 Z" fill="#cbcbcb"/><path d="M1472.9 1071.8 L1479.0 1063.5 L1485.1 1071.8 L1479.0 1080.0 Z" fill="#cbcbcb"/><path d="M1522.2 1076.6 L1528.3 1068.4 L1534.4 1076.6 L1528.3 1084.9 Z" fill="#cbcbcb"/><path d="M1489.9 1087.2 L1496.0 1078.9 L1502.1 1087.2 L1496.0 1095.4 Z" fill="#cbcbcb"/><path d="M1457.0 1064.0 L1463.1 1055.8 L1469.2 1064.0 L1463.1 1072.3 Z" fill="#cbcbcb"/><path d="M1518.0 1085.4 L1524.1 1077.2 L1530.2 1085.4 L1524.1 1093.7 Z" fill="#cbcbcb"/><path d="M1462.6 1064.9 L1468.7 1056.7 L1474.8 1064.9 L1468.7 1073.2 Z" fill="#cbcbcb"/><path d="M1503.8 1089.9 L1509.9 1081.6 L1516.0 1089.9 L1509.9 1098.1 Z" fill="#cbcbcb"/><path d="M1458.2 1084.7 L1464.3 1076.5 L1470.4 1084.7 L1464.3 1093.0 Z" fill="#cbcbcb"/><path d="M1515.8 1077.7 L1521.9 1069.5 L1528.0 1077.7 L1521.9 1086.0 Z" fill="#cbcbcb"/><path d="M1477.1 1062.7 L1483.2 1054.4 L1489.3 1062.7 L1483.2 1070.9 Z" fill="#cbcbcb"/><path d="M1444.9 1085.0 L1451.0 1076.8 L1457.1 1085.0 L1451.0 1093.3 Z" fill="#cbcbcb"/><path d="M1461.7 1078.3 L1467.8 1070.1 L1473.9 1078.3 L1467.8 1086.6 Z" fill="#cbcbcb"/><path d="M1463.2 1081.4 L1469.3 1073.2 L1475.4 1081.4 L1469.3 1089.7 Z" fill="#cbcbcb"/><path d="M1491.8 1066.6 L1497.9 1058.3 L1504.0 1066.6 L1497.9 1074.8 Z" fill="#cbcbcb"/><path d="M1456.4 1078.7 L1462.5 1070.5 L1468.6 1078.7 L1462.5 1087.0 Z" fill="#cbcbcb"/><path d="M1447.4 1065.9 L1453.5 1057.7 L1459.6 1065.9 L1453.5 1074.2 Z" fill="#cbcbcb"/><path d="M1488.6 1087.3 L1494.7 1079.0 L1500.8 1087.3 L1494.7 1095.5 Z" fill="#cbcbcb"/><path d="M1493.3 1066.1 L1499.4 1057.8 L1505.5 1066.1 L1499.4 1074.3 Z" fill="#cbcbcb"/><path d="M1518.7 1063.3 L1524.8 1055.1 L1530.9 1063.3 L1524.8 1071.6 Z" fill="#cbcbcb"/><path d="M1443.0 1067.0 L1449.1 1058.7 L1455.2 1067.0 L1449.1 1075.2 Z" fill="#cbcbcb"/><path d="M1479.1 1061.6 L1485.2 1053.3 L1491.3 1061.6 L1485.2 1069.8 Z" fill="#cbcbcb"/><path d="M1456.5 1069.6 L1462.6 1061.3 L1468.7 1069.6 L1462.6 1077.8 Z" fill="#cbcbcb"/><path d="M1489.7 1060.7 L1495.8 1052.5 L1501.9 1060.7 L1495.8 1069.0 Z" fill="#cbcbcb"/><path d="M1472.1 1083.2 L1478.2 1074.9 L1484.3 1083.2 L1478.2 1091.4 Z" fill="#cbcbcb"/><path d="M1524.0 1080.5 L1530.1 1072.2 L1536.2 1080.5 L1530.1 1088.7 Z" fill="#cbcbcb"/><path d="M1499.7 1077.0 L1505.8 1068.8 L1511.9 1077.0 L1505.8 1085.3 Z" fill="#cbcbcb"/><path d="M1453.4 1060.9 L1459.5 1052.7 L1465.6 1060.9 L1459.5 1069.2 Z" fill="#cbcbcb"/><path d="M1443.2 1083.7 L1449.3 1075.4 L1455.4 1083.7 L1449.3 1091.9 Z" fill="#cbcbcb"/><path d="M1500.5 1090.7 L1506.6 1082.4 L1512.7 1090.7 L1506.6 1098.9 Z" fill="#cbcbcb"/><path d="M1443.4 1076.5 L1449.5 1068.3 L1455.6 1076.5 L1449.5 1084.8 Z" fill="#cbcbcb"/><path d="M1482.2 1083.4 L1488.3 1075.1 L1494.4 1083.4 L1488.3 1091.6 Z" fill="#cbcbcb"/><path d="M1468.4 1086.0 L1474.5 1077.7 L1480.6 1086.0 L1474.5 1094.2 Z" fill="#cbcbcb"/><path d="M1448.0 1074.2 L1454.1 1065.9 L1460.2 1074.2 L1454.1 1082.4 Z" fill="#cbcbcb"/><path d="M1503.6 1088.4 L1509.7 1080.2 L1515.8 1088.4 L1509.7 1096.7 Z" fill="#cbcbcb"/><path d="M1503.6 1081.3 L1509.7 1073.1 L1515.8 1081.3 L1509.7 1089.6 Z" fill="#cbcbcb"/><path d="M1508.3 1088.9 L1514.4 1080.7 L1520.5 1088.9 L1514.4 1097.2 Z" fill="#cbcbcb"/><path d="M1471.2 1077.8 L1477.3 1069.6 L1483.4 1077.8 L1477.3 1086.1 Z" fill="#cbcbcb"/><path d="M1517.3 1087.4 L1523.4 1079.1 L1529.5 1087.4 L1523.4 1095.6 Z" fill="#cbcbcb"/><path d="M1476.7 1080.6 L1482.8 1072.3 L1488.9 1080.6 L1482.8 1088.8 Z" fill="#cbcbcb"/><path d="M1514.2 1076.6 L1520.3 1068.4 L1526.4 1076.6 L1520.3 1084.9 Z" fill="#cbcbcb"/><path d="M1494.1 1069.8 L1500.2 1061.5 L1506.3 1069.8 L1500.2 1078.0 Z" fill="#cbcbcb"/><path d="M1490.6 1077.9 L1496.7 1069.7 L1502.8 1077.9 L1496.7 1086.2 Z" fill="#cbcbcb"/><path d="M1448.4 1076.6 L1454.5 1068.4 L1460.6 1076.6 L1454.5 1084.9 Z" fill="#cbcbcb"/><path d="M1525.1 1085.4 L1531.2 1077.1 L1537.3 1085.4 L1531.2 1093.6 Z" fill="#cbcbcb"/><path d="M1502.8 1070.0 L1508.9 1061.7 L1515.0 1070.0 L1508.9 1078.2 Z" fill="#cbcbcb"/><path d="M1503.4 1076.9 L1509.5 1068.7 L1515.6 1076.9 L1509.5 1085.2 Z" fill="#cbcbcb"/><path d="M1478.7 1081.8 L1484.8 1073.5 L1490.9 1081.8 L1484.8 1090.0 Z" fill="#cbcbcb"/><path d="M1448.7 1079.5 L1454.8 1071.3 L1460.9 1079.5 L1454.8 1087.8 Z" fill="#cbcbcb"/><path d="M1444.2 1075.6 L1450.3 1067.4 L1456.4 1075.6 L1450.3 1083.9 Z" fill="#cbcbcb"/><path d="M1482.1 1067.4 L1488.2 1059.1 L1494.3 1067.4 L1488.2 1075.6 Z" fill="#cbcbcb"/><path d="M1500.3 1073.9 L1506.4 1065.7 L1512.5 1073.9 L1506.4 1082.2 Z" fill="#cbcbcb"/><path d="M1493.3 1089.1 L1499.4 1080.9 L1505.5 1089.1 L1499.4 1097.4 Z" fill="#cbcbcb"/><path d="M1463.1 1060.3 L1469.2 1052.0 L1475.3 1060.3 L1469.2 1068.5 Z" fill="#cbcbcb"/><path d="M1466.9 1077.6 L1473.0 1069.4 L1479.1 1077.6 L1473.0 1085.9 Z" fill="#cbcbcb"/><path d="M1458.7 1064.4 L1464.8 1056.2 L1470.9 1064.4 L1464.8 1072.7 Z" fill="#cbcbcb"/><path d="M1517.7 1079.8 L1523.8 1071.5 L1529.9 1079.8 L1523.8 1088.0 Z" fill="#cbcbcb"/><path d="M1478.8 1083.2 L1484.9 1074.9 L1491.0 1083.2 L1484.9 1091.4 Z" fill="#cbcbcb"/><path d="M1469.1 1077.3 L1475.2 1069.1 L1481.3 1077.3 L1475.2 1085.6 Z" fill="#cbcbcb"/><path d="M1458.3 1071.2 L1464.4 1063.0 L1470.5 1071.2 L1464.4 1079.5 Z" fill="#cbcbcb"/><path d="M1509.4 1088.9 L1515.5 1080.7 L1521.6 1088.9 L1515.5 1097.2 Z" fill="#cbcbcb"/><path d="M1515.6 1069.8 L1521.7 1061.6 L1527.8 1069.8 L1521.7 1078.1 Z" fill="#cbcbcb"/><path d="M1490.6 1067.4 L1496.7 1059.1 L1502.8 1067.4 L1496.7 1075.6 Z" fill="#cbcbcb"/><path d="M1453.1 1072.9 L1459.2 1064.7 L1465.3 1072.9 L1459.2 1081.2 Z" fill="#cbcbcb"/><path d="M1512.0 1086.6 L1518.1 1078.3 L1524.2 1086.6 L1518.1 1094.8 Z" fill="#cbcbcb"/><path d="M1501.4 1090.2 L1507.5 1082.0 L1513.6 1090.2 L1507.5 1098.5 Z" fill="#cbcbcb"/><path d="M1464.9 1064.4 L1471.0 1056.1 L1477.1 1064.4 L1471.0 1072.6 Z" fill="#cbcbcb"/><path d="M1479.5 1067.2 L1485.6 1058.9 L1491.7 1067.2 L1485.6 1075.4 Z" fill="#cbcbcb"/><path d="M1459.6 1070.8 L1465.7 1062.5 L1471.8 1070.8 L1465.7 1079.0 Z" fill="#cbcbcb"/><path d="M1494.2 1073.8 L1500.3 1065.5 L1506.4 1073.8 L1500.3 1082.0 Z" fill="#cbcbcb"/><path d="M1468.1 1081.8 L1474.2 1073.6 L1480.3 1081.8 L1474.2 1090.1 Z" fill="#cbcbcb"/><path d="M1524.1 1076.0 L1530.2 1067.7 L1536.3 1076.0 L1530.2 1084.2 Z" fill="#cbcbcb"/><path d="M1447.9 1060.8 L1454.0 1052.6 L1460.1 1060.8 L1454.0 1069.1 Z" fill="#cbcbcb"/><path d="M1515.0 1057.5 L1521.1 1049.2 L1527.2 1057.5 L1521.1 1065.7 Z" fill="#cbcbcb"/><path d="M1501.2 1076.5 L1507.3 1068.3 L1513.4 1076.5 L1507.3 1084.8 Z" fill="#cbcbcb"/><path d="M1467.6 1080.6 L1473.7 1072.3 L1479.8 1080.6 L1473.7 1088.8 Z" fill="#cbcbcb"/><path d="M1443.3 1063.5 L1449.4 1055.3 L1455.5 1063.5 L1449.4 1071.8 Z" fill="#cbcbcb"/><path d="M1479.9 1060.8 L1486.0 1052.5 L1492.1 1060.8 L1486.0 1069.0 Z" fill="#cbcbcb"/><path d="M1511.3 1064.5 L1517.4 1056.3 L1523.5 1064.5 L1517.4 1072.8 Z" fill="#cbcbcb"/><path d="M1453.5 1061.2 L1459.6 1053.0 L1465.7 1061.2 L1459.6 1069.5 Z" fill="#cbcbcb"/><path d="M1494.5 1072.1 L1500.6 1063.8 L1506.7 1072.1 L1500.6 1080.3 Z" fill="#cbcbcb"/><path d="M1494.6 1079.6 L1500.7 1071.3 L1506.8 1079.6 L1500.7 1087.8 Z" fill="#cbcbcb"/><path d="M1509.5 1090.5 L1515.6 1082.3 L1521.7 1090.5 L1515.6 1098.8 Z" fill="#cbcbcb"/><path d="M1499.1 1063.2 L1505.2 1054.9 L1511.3 1063.2 L1505.2 1071.4 Z" fill="#cbcbcb"/><path d="M1481.6 1065.7 L1487.7 1057.5 L1493.8 1065.7 L1487.7 1074.0 Z" fill="#cbcbcb"/><path d="M1442.6 1072.3 L1448.7 1064.0 L1454.8 1072.3 L1448.7 1080.5 Z" fill="#cbcbcb"/><path d="M1501.6 1062.4 L1507.7 1054.2 L1513.8 1062.4 L1507.7 1070.7 Z" fill="#cbcbcb"/><path d="M1464.5 1069.0 L1470.6 1060.7 L1476.7 1069.0 L1470.6 1077.2 Z" fill="#cbcbcb"/><path d="M1500.2 1074.7 L1506.3 1066.5 L1512.4 1074.7 L1506.3 1083.0 Z" fill="#cbcbcb"/><path d="M1493.3 1083.2 L1499.4 1075.0 L1505.5 1083.2 L1499.4 1091.5 Z" fill="#cbcbcb"/><path d="M1474.7 1080.6 L1480.8 1072.3 L1486.9 1080.6 L1480.8 1088.8 Z" fill="#cbcbcb"/><path d="M1517.8 1059.1 L1523.9 1050.9 L1530.0 1059.1 L1523.9 1067.4 Z" fill="#cbcbcb"/><path d="M1520.0 1081.9 L1526.1 1073.6 L1532.2 1081.9 L1526.1 1090.1 Z" fill="#cbcbcb"/><path d="M1452.6 1071.8 L1458.7 1063.5 L1464.8 1071.8 L1458.7 1080.0 Z" fill="#cbcbcb"/><path d="M1494.2 1088.8 L1500.3 1080.5 L1506.4 1088.8 L1500.3 1097.0 Z" fill="#cbcbcb"/><path d="M1473.3 1074.8 L1479.4 1066.5 L1485.5 1074.8 L1479.4 1083.0 Z" fill="#cbcbcb"/><path d="M1515.5 1084.7 L1521.6 1076.4 L1527.7 1084.7 L1521.6 1092.9 Z" fill="#cbcbcb"/><path d="M1521.0 1076.2 L1527.1 1068.0 L1533.2 1076.2 L1527.1 1084.5 Z" fill="#cbcbcb"/><path d="M1496.4 1063.4 L1502.5 1055.1 L1508.6 1063.4 L1502.5 1071.6 Z" fill="#cbcbcb"/><path d="M1502.3 1085.5 L1508.4 1077.2 L1514.5 1085.5 L1508.4 1093.7 Z" fill="#cbcbcb"/><path d="M1495.5 1081.8 L1501.6 1073.6 L1507.7 1081.8 L1501.6 1090.1 Z" fill="#cbcbcb"/><path d="M1459.6 1083.4 L1465.7 1075.1 L1471.8 1083.4 L1465.7 1091.6 Z" fill="#cbcbcb"/><path d="M1524.0 1087.5 L1530.1 1079.3 L1536.2 1087.5 L1530.1 1095.8 Z" fill="#cbcbcb"/><path d="M1486.8 1085.3 L1492.9 1077.1 L1499.0 1085.3 L1492.9 1093.6 Z" fill="#cbcbcb"/><path d="M1468.6 1083.7 L1474.7 1075.4 L1480.8 1083.7 L1474.7 1091.9 Z" fill="#cbcbcb"/><path d="M1513.5 1068.5 L1519.6 1060.3 L1525.7 1068.5 L1519.6 1076.8 Z" fill="#cbcbcb"/><path d="M1448.6 1071.5 L1454.7 1063.2 L1460.8 1071.5 L1454.7 1079.7 Z" fill="#cbcbcb"/><path d="M1487.9 1084.6 L1494.0 1076.3 L1500.1 1084.6 L1494.0 1092.8 Z" fill="#cbcbcb"/><path d="M1482.6 1060.9 L1488.7 1052.7 L1494.8 1060.9 L1488.7 1069.2 Z" fill="#cbcbcb"/><path d="M1509.6 1058.3 L1515.7 1050.1 L1521.8 1058.3 L1515.7 1066.6 Z" fill="#cbcbcb"/><path d="M1508.8 1062.2 L1514.9 1054.0 L1521.0 1062.2 L1514.9 1070.5 Z" fill="#cbcbcb"/><path d="M1469.8 1080.5 L1475.9 1072.2 L1482.0 1080.5 L1475.9 1088.7 Z" fill="#cbcbcb"/><path d="M1453.5 1063.9 L1459.6 1055.6 L1465.7 1063.9 L1459.6 1072.1 Z" fill="#cbcbcb"/><path d="M1485.0 1083.2 L1491.1 1074.9 L1497.2 1083.2 L1491.1 1091.4 Z" fill="#cbcbcb"/><path d="M1512.2 1080.8 L1518.3 1072.6 L1524.4 1080.8 L1518.3 1089.1 Z" fill="#cbcbcb"/><path d="M1521.1 1076.8 L1527.2 1068.6 L1533.3 1076.8 L1527.2 1085.1 Z" fill="#cbcbcb"/><path d="M1521.4 1067.9 L1527.5 1059.6 L1533.6 1067.9 L1527.5 1076.1 Z" fill="#cbcbcb"/><path d="M1460.2 1073.7 L1466.3 1065.4 L1472.4 1073.7 L1466.3 1081.9 Z" fill="#cbcbcb"/><path d="M1466.0 1078.9 L1472.1 1070.7 L1478.2 1078.9 L1472.1 1087.2 Z" fill="#cbcbcb"/><path d="M1495.3 1074.8 L1501.4 1066.6 L1507.5 1074.8 L1501.4 1083.1 Z" fill="#cbcbcb"/><path d="M1512.5 1076.2 L1518.6 1067.9 L1524.7 1076.2 L1518.6 1084.4 Z" fill="#cbcbcb"/><path d="M1467.8 1069.9 L1473.9 1061.7 L1480.0 1069.9 L1473.9 1078.2 Z" fill="#cbcbcb"/><path d="M1512.7 1088.4 L1518.8 1080.2 L1524.9 1088.4 L1518.8 1096.7 Z" fill="#cbcbcb"/><path d="M1459.1 1082.1 L1465.2 1073.9 L1471.3 1082.1 L1465.2 1090.4 Z" fill="#cbcbcb"/><path d="M1523.0 1077.5 L1529.1 1069.3 L1535.2 1077.5 L1529.1 1085.8 Z" fill="#cbcbcb"/><path d="M1489.8 1063.2 L1495.9 1055.0 L1502.0 1063.2 L1495.9 1071.5 Z" fill="#cbcbcb"/><path d="M1486.7 1076.1 L1492.8 1067.9 L1498.9 1076.1 L1492.8 1084.4 Z" fill="#cbcbcb"/><path d="M1492.5 1057.0 L1498.6 1048.7 L1504.7 1057.0 L1498.6 1065.2 Z" fill="#cbcbcb"/><path d="M1523.1 1077.4 L1529.2 1069.1 L1535.3 1077.4 L1529.2 1085.6 Z" fill="#cbcbcb"/><path d="M1475.3 1080.8 L1481.4 1072.6 L1487.5 1080.8 L1481.4 1089.1 Z" fill="#cbcbcb"/><path d="M1488.9 1075.7 L1495.0 1067.5 L1501.1 1075.7 L1495.0 1084.0 Z" fill="#cbcbcb"/><path d="M1505.8 1091.0 L1511.9 1082.7 L1518.0 1091.0 L1511.9 1099.2 Z" fill="#cbcbcb"/><path d="M1502.9 1096.2 L1509.0 1088.0 L1515.1 1096.2 L1509.0 1104.5 Z" fill="#cbcbcb"/><path d="M1510.8 1103.9 L1516.9 1095.6 L1523.0 1103.9 L1516.9 1112.1 Z" fill="#cbcbcb"/><path d="M1497.8 1097.1 L1503.9 1088.8 L1510.0 1097.1 L1503.9 1105.3 Z" fill="#cbcbcb"/><path d="M1495.1 1096.5 L1501.2 1088.3 L1507.3 1096.5 L1501.2 1104.8 Z" fill="#cbcbcb"/><path d="M1508.1 1103.5 L1514.2 1095.3 L1520.3 1103.5 L1514.2 1111.8 Z" fill="#cbcbcb"/><path d="M1501.7 1094.8 L1507.8 1086.5 L1513.9 1094.8 L1507.8 1103.0 Z" fill="#cbcbcb"/><path d="M1496.3 1099.3 L1502.4 1091.0 L1508.5 1099.3 L1502.4 1107.5 Z" fill="#cbcbcb"/><path d="M1510.2 1091.9 L1516.3 1083.7 L1522.4 1091.9 L1516.3 1100.2 Z" fill="#cbcbcb"/><path d="M1507.5 1090.3 L1513.6 1082.1 L1519.7 1090.3 L1513.6 1098.6 Z" fill="#cbcbcb"/><path d="M1061.0 717.1 L1070.6 717.1 L1065.8 708.5 Z" fill="#484aee"/><path d="M1076.0 729.7 L1085.6 729.7 L1080.8 721.1 Z" fill="#4743e7"/><path d="M1102.8 726.5 L1112.3 726.5 L1107.5 717.9 Z" fill="#249fe6"/><path d="M1079.5 758.4 L1089.0 758.4 L1084.2 749.8 Z" fill="#4851f4"/><path d="M1063.2 772.0 L1072.8 772.0 L1068.0 763.4 Z" fill="#20a4e3"/><path d="M1082.7 781.3 L1092.2 781.3 L1087.5 772.7 Z" fill="#20a4e3"/><path d="M1115.0 791.3 L1124.5 791.3 L1119.8 782.7 Z" fill="#05b6ce"/><path d="M1083.0 797.9 L1092.5 797.9 L1087.8 789.3 Z" fill="#12beb9"/><path d="M1070.5 831.1 L1080.0 831.1 L1075.2 822.5 Z" fill="#12beb9"/><path d="M1069.9 852.7 L1079.5 852.7 L1074.7 844.1 Z" fill="#3bc992"/><path d="M1079.5 872.9 L1089.0 872.9 L1084.2 864.3 Z" fill="#fdcc32"/><path d="M1077.0 875.7 L1086.5 875.7 L1081.8 867.1 Z" fill="#48cb86"/><path d="M1075.2 880.4 L1084.8 880.4 L1080.0 871.8 Z" fill="#3bc992"/><path d="M1137.5 884.6 L1147.0 884.6 L1142.2 876.0 Z" fill="#eaba31"/><path d="M1136.2 890.2 L1145.8 890.2 L1141.0 881.6 Z" fill="#f6e028"/><path d="M1102.4 894.9 L1112.0 894.9 L1107.2 886.3 Z" fill="#eaba31"/><path d="M1140.9 912.8 L1150.5 912.8 L1145.7 904.2 Z" fill="#fad42e"/><path d="M1140.9 915.6 L1150.5 915.6 L1145.7 907.0 Z" fill="#fad42e"/><path d="M1139.0 919.3 L1148.5 919.3 L1143.8 910.7 Z" fill="#fad42e"/><path d="M1152.0 916.5 L1161.6 916.5 L1156.8 907.9 Z" fill="#fdcc32"/><path d="M1151.2 921.2 L1160.8 921.2 L1156.0 912.6 Z" fill="#fad42e"/><path d="M1150.2 924.0 L1159.8 924.0 L1155.0 915.4 Z" fill="#f7dc2a"/><path d="M1142.4 924.0 L1152.0 924.0 L1147.2 915.4 Z" fill="#f6f020"/><path d="M1140.9 929.7 L1150.5 929.7 L1145.7 921.1 Z" fill="#f9fb15"/><path d="M1147.4 929.7 L1157.0 929.7 L1152.2 921.1 Z" fill="#f9fb15"/><path d="M1142.4 935.3 L1152.0 935.3 L1147.2 926.7 Z" fill="#f9fb15"/><path d="M1102.8 923.5 L1112.3 923.5 L1107.5 914.9 Z" fill="#f9fb15"/><path d="M1086.4 934.0 L1096.0 934.0 L1091.2 925.4 Z" fill="#fec13a"/><path d="M1082.7 936.8 L1092.2 936.8 L1087.5 928.2 Z" fill="#fad42e"/><path d="M1132.4 942.2 L1142.0 942.2 L1137.2 933.6 Z" fill="#f9fb15"/><path d="M1153.4 941.3 L1163.0 941.3 L1158.2 932.7 Z" fill="#f9fb15"/><path d="M1120.2 950.3 L1129.8 950.3 L1125.0 941.7 Z" fill="#f9fb15"/><path d="M1140.9 949.9 L1150.5 949.9 L1145.7 941.3 Z" fill="#f9fb15"/><path d="M1147.4 948.1 L1157.0 948.1 L1152.2 939.5 Z" fill="#f9fb15"/><path d="M1162.4 949.4 L1172.0 949.4 L1167.2 940.8 Z" fill="#f9fb15"/><path d="M1201.9 951.3 L1211.5 951.3 L1206.7 942.7 Z" fill="#f9fb15"/><path d="M1097.0 955.0 L1106.6 955.0 L1101.8 946.4 Z" fill="#f9fb15"/><path d="M1161.9 956.3 L1171.5 956.3 L1166.7 947.7 Z" fill="#f9fb15"/><path d="M1168.0 958.2 L1177.6 958.2 L1172.8 949.6 Z" fill="#f9fb15"/><path d="M1120.2 959.7 L1129.8 959.7 L1125.0 951.1 Z" fill="#f9fb15"/><path d="M1121.2 958.8 L1130.8 958.8 L1126.0 950.2 Z" fill="#f9fb15"/><path d="M1143.7 961.6 L1153.2 961.6 L1148.5 953.0 Z" fill="#f9fb15"/><path d="M1161.9 962.1 L1171.5 962.1 L1166.7 953.5 Z" fill="#f9fb15"/><path d="M1156.4 965.0 L1166.0 965.0 L1161.2 956.4 Z" fill="#f9fb15"/><path d="M1184.0 961.6 L1193.5 961.6 L1188.8 953.0 Z" fill="#f9fb15"/><path d="M1189.7 965.9 L1199.2 965.9 L1194.5 957.3 Z" fill="#f9fb15"/><path d="M1201.9 967.2 L1211.5 967.2 L1206.7 958.6 Z" fill="#f9fb15"/><path d="M1109.2 967.8 L1118.8 967.8 L1114.0 959.2 Z" fill="#f9fb15"/><path d="M1109.2 965.0 L1118.8 965.0 L1114.0 956.4 Z" fill="#f9fb15"/><path d="M1132.8 969.1 L1142.3 969.1 L1137.5 960.5 Z" fill="#f9fb15"/><path d="M1144.0 967.6 L1153.5 967.6 L1148.8 959.0 Z" fill="#f9fb15"/><path d="M1195.7 971.9 L1205.2 971.9 L1200.5 963.3 Z" fill="#f9fb15"/><path d="M1200.4 976.6 L1210.0 976.6 L1205.2 968.0 Z" fill="#f9fb15"/><path d="M1116.5 976.2 L1126.0 976.2 L1121.2 967.6 Z" fill="#f9fb15"/><path d="M1130.5 977.2 L1140.0 977.2 L1135.2 968.6 Z" fill="#f9fb15"/><path d="M1141.4 977.2 L1151.0 977.2 L1146.2 968.6 Z" fill="#f9fb15"/><path d="M1140.9 974.7 L1150.5 974.7 L1145.7 966.1 Z" fill="#f9fb15"/><path d="M1158.0 976.2 L1167.6 976.2 L1162.8 967.6 Z" fill="#f9fb15"/><path d="M1165.2 976.2 L1174.8 976.2 L1170.0 967.6 Z" fill="#f9fb15"/><path d="M1160.5 979.4 L1170.1 979.4 L1165.3 970.8 Z" fill="#f9fb15"/><path d="M1158.7 982.2 L1168.2 982.2 L1163.5 973.6 Z" fill="#f9fb15"/><path d="M1088.9 982.2 L1098.5 982.2 L1093.7 973.6 Z" fill="#f9fb15"/><path d="M1222.5 975.1 L1232.0 975.1 L1227.2 966.5 Z" fill="#f9fb15"/><path d="M1234.2 977.5 L1243.8 977.5 L1239.0 968.9 Z" fill="#f9fb15"/><path d="M1232.8 984.1 L1242.3 984.1 L1237.5 975.5 Z" fill="#f9fb15"/><path d="M1235.5 985.0 L1245.1 985.0 L1240.3 976.4 Z" fill="#f9fb15"/><path d="M1238.5 986.9 L1248.0 986.9 L1243.2 978.3 Z" fill="#f9fb15"/><path d="M1151.2 991.6 L1160.8 991.6 L1156.0 983.0 Z" fill="#f9fb15"/><path d="M1152.7 992.5 L1162.2 992.5 L1157.5 983.9 Z" fill="#f9fb15"/><path d="M1233.8 991.0 L1243.3 991.0 L1238.5 982.4 Z" fill="#f9fb15"/><path d="M1239.4 993.5 L1249.0 993.5 L1244.2 984.9 Z" fill="#f9fb15"/><path d="M1244.0 992.2 L1253.6 992.2 L1248.8 983.6 Z" fill="#f9fb15"/><path d="M1246.5 996.3 L1256.0 996.3 L1251.2 987.7 Z" fill="#f9fb15"/><path d="M1220.2 995.9 L1229.8 995.9 L1225.0 987.3 Z" fill="#f9fb15"/><path d="M1227.2 1002.9 L1236.8 1002.9 L1232.0 994.3 Z" fill="#f9fb15"/><path d="M1254.4 996.3 L1264.0 996.3 L1259.2 987.7 Z" fill="#f9fb15"/><path d="M1258.2 995.4 L1267.8 995.4 L1263.0 986.8 Z" fill="#f9fb15"/><path d="M1265.2 996.3 L1274.8 996.3 L1270.0 987.7 Z" fill="#f9fb15"/><path d="M1262.9 1000.1 L1272.5 1000.1 L1267.7 991.5 Z" fill="#f9fb15"/><path d="M1254.8 1003.4 L1264.3 1003.4 L1259.5 994.8 Z" fill="#f9fb15"/><path d="M1261.9 1006.6 L1271.5 1006.6 L1266.7 998.0 Z" fill="#f9fb15"/><path d="M1269.0 1010.4 L1278.5 1010.4 L1273.8 1001.8 Z" fill="#f9fb15"/><path d="M1111.2 1007.0 L1120.8 1007.0 L1116.0 998.4 Z" fill="#f9fb15"/><path d="M1147.4 1008.5 L1157.0 1008.5 L1152.2 999.9 Z" fill="#f9fb15"/><path d="M1150.8 1016.6 L1160.3 1016.6 L1155.5 1008.0 Z" fill="#f9fb15"/><path d="M1191.5 1009.4 L1201.0 1009.4 L1196.2 1000.8 Z" fill="#f9fb15"/><path d="M1192.5 1011.3 L1202.0 1011.3 L1197.2 1002.7 Z" fill="#f9fb15"/><path d="M1188.7 1016.0 L1198.2 1016.0 L1193.5 1007.4 Z" fill="#f9fb15"/><path d="M1218.4 1010.4 L1228.0 1010.4 L1223.2 1001.8 Z" fill="#f9fb15"/><path d="M1110.8 1024.5 L1120.3 1024.5 L1115.5 1015.9 Z" fill="#f9fb15"/><path d="M1109.5 1025.8 L1119.0 1025.8 L1114.2 1017.2 Z" fill="#f9fb15"/><path d="M1121.2 1030.5 L1130.8 1030.5 L1126.0 1021.9 Z" fill="#f9fb15"/><path d="M1137.0 1028.6 L1146.6 1028.6 L1141.8 1020.0 Z" fill="#f9fb15"/><path d="M1145.9 1026.0 L1155.5 1026.0 L1150.7 1017.4 Z" fill="#f9fb15"/><path d="M1144.5 1033.5 L1154.1 1033.5 L1149.3 1024.9 Z" fill="#f9fb15"/><path d="M1152.7 1037.0 L1162.2 1037.0 L1157.5 1028.4 Z" fill="#f9fb15"/><path d="M1119.5 1038.9 L1129.1 1038.9 L1124.3 1030.3 Z" fill="#f9fb15"/><path d="M1107.4 1042.3 L1117.0 1042.3 L1112.2 1033.7 Z" fill="#f9fb15"/><path d="M1151.5 1044.2 L1161.1 1044.2 L1156.3 1035.6 Z" fill="#f9fb15"/><path d="M1173.2 1038.9 L1182.8 1038.9 L1178.0 1030.3 Z" fill="#f9fb15"/><path d="M1172.2 1040.4 L1181.8 1040.4 L1177.0 1031.8 Z" fill="#f9fb15"/><path d="M1226.2 1030.5 L1235.8 1030.5 L1231.0 1021.9 Z" fill="#f9fb15"/><path d="M1142.7 1049.2 L1152.2 1049.2 L1147.5 1040.6 Z" fill="#f9fb15"/><path d="M1127.2 1053.9 L1136.8 1053.9 L1132.0 1045.3 Z" fill="#f9fb15"/><path d="M1128.2 1056.7 L1137.8 1056.7 L1133.0 1048.1 Z" fill="#f9fb15"/><path d="M1124.9 1060.7 L1134.5 1060.7 L1129.7 1052.1 Z" fill="#f9fb15"/><path d="M1139.0 1061.4 L1148.5 1061.4 L1143.8 1052.8 Z" fill="#f9fb15"/><path d="M1121.2 1075.1 L1130.8 1075.1 L1126.0 1066.5 Z" fill="#f9fb15"/><path d="M1124.9 1076.1 L1134.5 1076.1 L1129.7 1067.5 Z" fill="#f9fb15"/><path d="M1139.0 1081.7 L1148.5 1081.7 L1143.8 1073.1 Z" fill="#f9fb15"/><path d="M1143.5 1114.6 L1153.0 1114.6 L1148.2 1106.0 Z" fill="#f9fb15"/>
<text x="907.2" y="907.5" font-size="29.2" text-anchor="middle" transform="rotate(-90.0 907.2 907.5)">Revelle factor</text>
<text x="1295.8" y="1212.0" font-size="29.2" text-anchor="middle">SST</text>
<linearGradient id="gD" x1="0" y1="0" x2="0" y2="1"><stop offset="0.0000" stop-color="#3e26a8"/><stop offset="0.0312" stop-color="#422ebf"/><stop offset="0.0625" stop-color="#4536d5"/><stop offset="0.0938" stop-color="#4741e5"/><stop offset="0.1250" stop-color="#484cef"/><stop offset="0.1562" stop-color="#4757f7"/><stop offset="0.1875" stop-color="#4562fc"/><stop offset="0.2188" stop-color="#3f6efe"/><stop offset="0.2500" stop-color="#347afd"/><stop offset="0.2812" stop-color="#2e85f8"/><stop offset="0.3125" stop-color="#2c90f0"/><stop offset="0.3438" stop-color="#269ae9"/><stop offset="0.3750" stop-color="#21a3e3"/><stop offset="0.4062" stop-color="#1aacdd"/><stop offset="0.4375" stop-color="#0cb3d3"/><stop offset="0.4688" stop-color="#01b9c6"/><stop offset="0.5000" stop-color="#12beb9"/><stop offset="0.5312" stop-color="#28c2ab"/><stop offset="0.5625" stop-color="#34c79c"/><stop offset="0.5938" stop-color="#44ca8a"/><stop offset="0.6250" stop-color="#5ccc76"/><stop offset="0.6562" stop-color="#77cc60"/><stop offset="0.6875" stop-color="#94ca4a"/><stop offset="0.7188" stop-color="#afc637"/><stop offset="0.7500" stop-color="#c8c129"/><stop offset="0.7812" stop-color="#debc2a"/><stop offset="0.8125" stop-color="#f1ba37"/><stop offset="0.8438" stop-color="#febe3c"/><stop offset="0.8750" stop-color="#feca33"/><stop offset="0.9062" stop-color="#f9d62d"/><stop offset="0.9375" stop-color="#f5e327"/><stop offset="0.9688" stop-color="#f6ef20"/><stop offset="1.0000" stop-color="#f9fb15"/></linearGradient>
<rect x="1645.0" y="679.5" width="22.5" height="456.5" fill="url(#gD)" stroke="#000" stroke-width="1.5"/>
<text x="1679.0" y="688.8" font-size="23.8">25</text>
<line x1="1661.5" y1="793.6" x2="1667.5" y2="793.6" stroke="#000" stroke-width="1.50"/>
<text x="1679.0" y="802.9" font-size="23.8">20</text>
<line x1="1661.5" y1="907.8" x2="1667.5" y2="907.8" stroke="#000" stroke-width="1.50"/>
<text x="1679.0" y="917.0" font-size="23.8">15</text>
<line x1="1661.5" y1="1021.9" x2="1667.5" y2="1021.9" stroke="#000" stroke-width="1.50"/>
<text x="1679.0" y="1031.2" font-size="23.8">10</text>
<text x="1679.0" y="1145.3" font-size="23.8">5</text>
<text x="1616.7" y="662.5" font-size="25.1">Nitrate</text>
<rect x="1383.8" y="690.2" width="213.8" height="85.2" fill="#fff" stroke="#000" stroke-width="1.5"/>
<circle cx="1410.0" cy="705.5" r="6.2" fill="#c9c9c9"/>
<text x="1428.5" y="711.8" font-size="20.9">ECOA (2015)</text>
<path d="M1403.8 731.8 L1410.0 723.0 L1416.2 731.8 L1410.0 740.5 Z" fill="#c9c9c9"/>
<text x="1428.5" y="738.0" font-size="20.9">GOMECC (2017)</text>
<path d="M1404.8 762.8 L1414.2 762.8 L1409.5 754.2 Z" fill="#f9fb0e"/>
<text x="1428.5" y="765.0" font-size="20.9">WCOA (2016)</text>
</svg>
</body></html>
